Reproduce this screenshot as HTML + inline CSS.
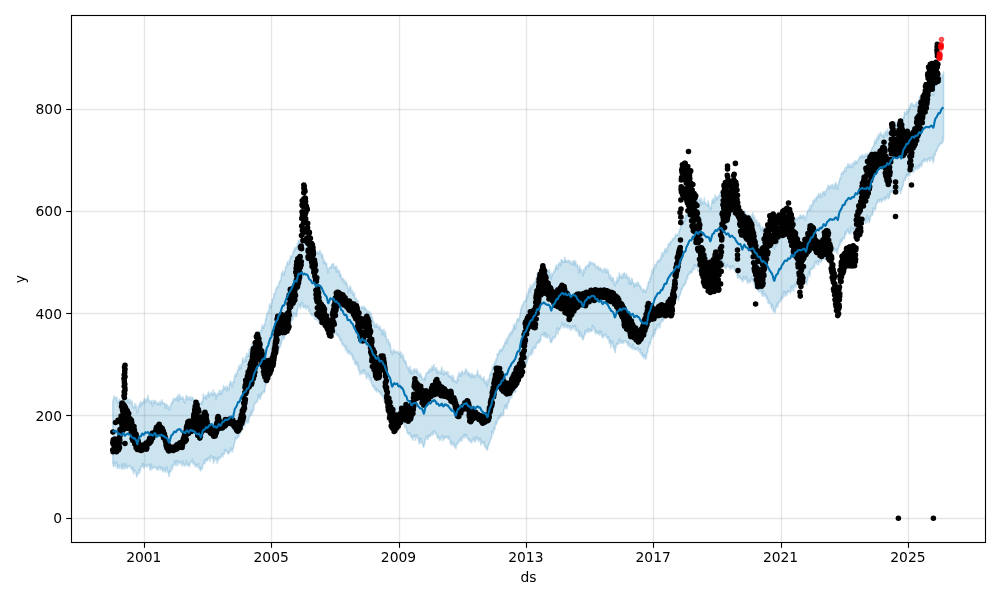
<!DOCTYPE html>
<html><head><meta charset="utf-8"><title>forecast</title>
<style>html,body{margin:0;padding:0;background:#fff}svg{display:block}text{font-family:"DejaVu Sans","Liberation Sans",sans-serif;font-size:13.89px;fill:#000}svg{opacity:.999;will-change:transform}</style></head>
<body>
<svg width="1000" height="600" viewBox="0 0 1000 600">
<rect width="1000" height="600" fill="#fff"/>
<defs><clipPath id="c"><rect x="71.5" y="15.5" width="914" height="527"/></clipPath></defs>
<g stroke="#808080" stroke-opacity="0.2" stroke-width="1.39" fill="none">
<path d="M144.50 542.5V15.5"/><path d="M271.50 542.5V15.5"/><path d="M399.50 542.5V15.5"/><path d="M526.50 542.5V15.5"/><path d="M653.50 542.5V15.5"/><path d="M781.50 542.5V15.5"/><path d="M908.50 542.5V15.5"/><path d="M71.5 518.50H985.5"/><path d="M71.5 415.50H985.5"/><path d="M71.5 313.50H985.5"/><path d="M71.5 211.50H985.5"/><path d="M71.5 109.50H985.5"/>
</g>
<g clip-path="url(#c)">
<path d="M112.8 402.4L113.2 400.0L113.6 399.3L114.0 396.1L114.4 398.5L114.8 398.1L115.2 398.2L115.6 397.1L116.0 398.2L116.4 398.1L116.8 397.4L117.2 401.4L117.6 401.9L118.0 403.7L118.4 401.4L118.8 400.6L119.2 400.4L119.6 399.1L120.0 403.5L120.4 400.7L120.8 401.0L121.2 402.2L121.6 404.6L122.0 402.3L122.4 399.9L122.8 400.1L123.2 402.0L123.6 401.0L124.0 400.5L124.4 401.9L124.8 404.0L125.2 406.1L125.6 400.7L126.0 401.3L126.4 400.7L126.8 397.8L127.2 399.8L127.6 399.5L128.0 403.0L128.4 401.3L128.8 399.2L129.2 403.0L129.6 401.6L130.0 399.6L130.4 401.7L130.8 401.9L131.2 402.0L131.6 404.0L132.0 400.9L132.4 404.6L132.8 407.2L133.2 407.3L133.6 407.7L134.0 407.4L134.4 407.9L134.8 403.8L135.2 407.5L135.6 404.1L136.0 407.2L136.4 406.1L136.8 411.7L137.2 413.1L137.6 409.9L138.0 411.8L138.4 406.6L138.8 406.8L139.2 405.6L139.6 402.9L140.0 404.8L140.4 406.8L140.8 401.6L141.2 404.2L141.6 402.1L142.0 404.7L142.4 402.2L142.8 402.3L143.2 402.4L143.6 402.0L144.0 399.3L144.4 403.4L144.8 398.6L145.2 400.9L145.6 401.4L146.0 399.0L146.4 400.5L146.8 401.8L147.2 399.6L147.6 398.2L148.0 395.4L148.4 399.1L148.8 400.2L149.2 400.8L149.6 400.5L150.0 402.9L150.4 401.4L150.8 402.0L151.2 403.0L151.6 400.8L152.0 402.0L152.4 406.3L152.8 404.2L153.2 400.3L153.6 401.9L154.0 402.6L154.4 403.4L154.8 401.4L155.2 400.5L155.6 400.6L156.0 403.5L156.4 403.7L156.8 403.1L157.2 403.6L157.6 403.1L158.0 404.7L158.4 402.2L158.8 403.8L159.2 404.0L159.6 403.4L160.0 401.4L160.4 404.9L160.8 401.7L161.2 403.5L161.6 401.5L162.0 399.9L162.4 403.0L162.8 403.2L163.2 402.9L163.6 403.8L164.0 402.8L164.4 403.1L164.8 404.6L165.2 408.1L165.6 406.3L166.0 404.0L166.4 405.8L166.8 404.3L167.2 405.3L167.6 408.5L168.0 407.3L168.4 406.3L168.8 408.4L169.2 410.1L169.6 409.1L170.0 409.4L170.4 404.9L170.8 405.9L171.2 404.2L171.6 402.5L172.0 403.6L172.4 402.5L172.8 399.8L173.2 402.4L173.6 398.2L174.0 399.8L174.4 399.3L174.8 399.9L175.2 398.2L175.6 399.3L176.0 398.9L176.4 400.3L176.8 396.9L177.2 398.1L177.6 397.3L178.0 395.4L178.4 401.4L178.8 396.6L179.2 394.0L179.6 398.8L180.0 395.3L180.4 398.1L180.8 399.4L181.2 397.5L181.6 398.4L182.0 398.4L182.4 399.1L182.8 396.6L183.2 397.4L183.6 399.5L184.0 401.8L184.4 401.5L184.8 403.0L185.2 400.9L185.6 398.6L186.0 398.7L186.4 395.2L186.8 396.5L187.2 396.6L187.6 399.0L188.0 400.0L188.4 398.4L188.8 398.7L189.2 396.8L189.6 398.7L190.0 398.9L190.4 398.8L190.8 396.5L191.2 400.6L191.6 399.5L192.0 397.7L192.4 397.3L192.8 397.9L193.2 398.9L193.6 398.8L194.0 399.8L194.4 400.5L194.8 401.9L195.2 402.0L195.6 400.5L196.0 401.8L196.4 401.0L196.8 401.2L197.2 404.9L197.6 400.7L198.0 404.3L198.4 400.4L198.8 401.3L199.2 403.5L199.6 402.6L200.0 403.9L200.4 403.5L200.8 403.8L201.2 403.6L201.6 401.6L202.0 403.9L202.4 399.8L202.8 401.6L203.2 393.7L203.6 397.6L204.0 398.1L204.4 396.4L204.8 398.2L205.2 397.1L205.6 395.2L206.0 395.9L206.4 399.4L206.8 395.4L207.2 395.6L207.6 394.2L208.0 394.7L208.4 391.9L208.8 393.2L209.2 397.1L209.6 394.6L210.0 393.6L210.4 393.9L210.8 394.7L211.2 392.3L211.6 395.0L212.0 393.9L212.4 393.0L212.8 395.9L213.2 389.9L213.6 393.2L214.0 394.7L214.4 392.7L214.8 393.8L215.2 393.3L215.6 393.6L216.0 399.4L216.4 396.1L216.8 394.6L217.2 396.3L217.6 393.3L218.0 394.5L218.4 393.1L218.8 394.7L219.2 390.0L219.6 393.7L220.0 392.9L220.4 391.0L220.8 394.4L221.2 390.6L221.6 394.0L222.0 391.5L222.4 391.1L222.8 389.4L223.2 390.3L223.6 385.6L224.0 388.6L224.4 387.3L224.8 388.6L225.2 387.8L225.6 388.6L226.0 386.0L226.4 390.1L226.8 390.9L227.2 386.9L227.6 387.2L228.0 387.6L228.4 389.2L228.8 390.0L229.2 384.2L229.6 384.3L230.0 382.8L230.4 382.2L230.8 381.2L231.2 384.8L231.6 382.7L232.0 387.3L232.4 386.6L232.8 383.8L233.2 382.0L233.6 380.9L234.0 382.5L234.4 377.3L234.8 374.7L235.2 376.0L235.6 375.8L236.0 373.4L236.4 376.3L236.8 373.3L237.2 372.7L237.6 369.8L238.0 370.3L238.4 369.5L238.8 365.8L239.2 369.6L239.6 365.5L240.0 367.4L240.4 364.2L240.8 369.0L241.2 365.6L241.6 365.7L242.0 364.9L242.4 360.3L242.8 357.7L243.2 360.2L243.6 361.9L244.0 360.4L244.4 361.3L244.8 361.2L245.2 357.0L245.6 359.4L246.0 361.4L246.4 356.5L246.8 353.4L247.2 356.0L247.6 355.5L248.0 356.5L248.4 353.8L248.8 354.3L249.2 349.6L249.6 353.5L250.0 353.6L250.4 352.2L250.8 346.9L251.2 349.5L251.6 343.8L252.0 348.7L252.4 347.6L252.8 344.9L253.2 345.7L253.6 344.0L254.0 343.9L254.4 341.2L254.8 339.9L255.2 335.5L255.6 336.0L256.0 336.4L256.4 336.9L256.8 335.7L257.2 337.4L257.6 332.9L258.0 333.3L258.4 333.7L258.8 332.6L259.2 333.4L259.6 331.4L260.0 334.2L260.4 331.0L260.8 332.6L261.2 329.5L261.6 330.8L262.0 325.2L262.4 327.5L262.8 325.7L263.2 326.9L263.6 328.4L264.0 324.6L264.4 324.2L264.8 324.1L265.2 324.0L265.6 318.5L266.0 319.8L266.4 315.7L266.8 314.1L267.2 314.3L267.6 314.5L268.0 311.8L268.4 310.9L268.8 310.4L269.2 308.8L269.6 303.7L270.0 306.2L270.4 306.2L270.8 307.1L271.2 307.6L271.6 304.1L272.0 301.8L272.4 298.8L272.8 299.2L273.2 299.0L273.6 298.5L274.0 293.6L274.4 293.9L274.8 293.2L275.2 294.0L275.6 290.8L276.0 288.8L276.4 287.9L276.8 287.6L277.2 286.4L277.6 287.8L278.0 287.0L278.4 285.3L278.8 285.0L279.2 281.8L279.6 282.6L280.0 280.6L280.4 280.1L280.8 280.7L281.2 277.5L281.6 273.3L282.0 274.7L282.4 272.9L282.8 271.1L283.2 271.9L283.6 274.4L284.0 275.2L284.4 271.2L284.8 272.4L285.2 271.5L285.6 266.6L286.0 267.2L286.4 266.0L286.8 265.1L287.2 261.7L287.6 263.0L288.0 264.5L288.4 264.1L288.8 264.2L289.2 259.9L289.6 262.6L290.0 259.9L290.4 256.0L290.8 258.8L291.2 256.3L291.6 257.1L292.0 255.4L292.4 256.6L292.8 253.8L293.2 251.4L293.6 252.1L294.0 249.8L294.4 247.9L294.8 250.6L295.2 247.9L295.6 247.6L296.0 247.9L296.4 246.3L296.8 246.8L297.2 249.0L297.6 243.2L298.0 243.4L298.4 240.5L298.8 240.4L299.2 243.6L299.6 242.5L300.0 239.9L300.4 240.8L300.8 239.3L301.2 239.2L301.6 238.9L302.0 239.1L302.4 241.5L302.8 242.4L303.2 242.3L303.6 241.2L304.0 239.2L304.4 241.3L304.8 240.0L305.2 243.1L305.6 242.6L306.0 242.8L306.4 241.0L306.8 238.7L307.2 244.0L307.6 245.2L308.0 241.7L308.4 245.1L308.8 247.5L309.2 244.6L309.6 249.5L310.0 246.4L310.4 245.6L310.8 250.1L311.2 249.3L311.6 248.6L312.0 251.5L312.4 247.0L312.8 253.1L313.2 249.0L313.6 250.8L314.0 249.8L314.4 251.4L314.8 252.9L315.2 251.0L315.6 254.3L316.0 253.1L316.4 252.7L316.8 253.2L317.2 251.7L317.6 251.7L318.0 254.2L318.4 252.2L318.8 254.2L319.2 253.4L319.6 251.4L320.0 250.4L320.4 252.7L320.8 254.7L321.2 254.7L321.6 253.9L322.0 257.6L322.4 254.1L322.8 255.8L323.2 259.0L323.6 263.4L324.0 261.5L324.4 260.0L324.8 262.8L325.2 263.2L325.6 264.1L326.0 262.6L326.4 263.0L326.8 265.9L327.2 267.8L327.6 271.0L328.0 273.0L328.4 269.2L328.8 268.8L329.2 268.5L329.6 267.4L330.0 267.8L330.4 267.2L330.8 266.5L331.2 268.3L331.6 265.9L332.0 264.5L332.4 263.8L332.8 264.6L333.2 264.7L333.6 263.6L334.0 268.1L334.4 268.0L334.8 267.8L335.2 267.2L335.6 266.3L336.0 267.5L336.4 272.2L336.8 266.1L337.2 270.2L337.6 271.4L338.0 270.6L338.4 270.1L338.8 272.3L339.2 270.4L339.6 274.1L340.0 276.5L340.4 273.5L340.8 274.8L341.2 277.1L341.6 279.0L342.0 280.0L342.4 279.5L342.8 278.3L343.2 278.6L343.6 281.6L344.0 282.3L344.4 280.1L344.8 282.2L345.2 282.8L345.6 284.2L346.0 281.3L346.4 284.4L346.8 282.6L347.2 284.9L347.6 286.5L348.0 289.7L348.4 292.9L348.8 288.2L349.2 288.7L349.6 289.7L350.0 286.0L350.4 289.6L350.8 287.0L351.2 292.3L351.6 292.6L352.0 291.8L352.4 290.3L352.8 294.9L353.2 293.2L353.6 293.7L354.0 295.3L354.4 292.5L354.8 296.9L355.2 298.8L355.6 298.7L356.0 299.2L356.4 298.0L356.8 300.8L357.2 300.4L357.6 300.6L358.0 300.6L358.4 304.2L358.8 306.4L359.2 306.5L359.6 308.8L360.0 310.7L360.4 311.6L360.8 308.7L361.2 307.4L361.6 306.6L362.0 306.8L362.4 307.4L362.8 308.3L363.2 306.5L363.6 307.7L364.0 306.2L364.4 310.0L364.8 307.6L365.2 309.1L365.6 307.9L366.0 309.4L366.4 309.6L366.8 314.1L367.2 312.2L367.6 311.6L368.0 310.7L368.4 311.7L368.8 314.1L369.2 316.3L369.6 311.6L370.0 312.7L370.4 314.3L370.8 314.4L371.2 313.9L371.6 317.7L372.0 320.0L372.4 317.3L372.8 321.3L373.2 323.1L373.6 323.6L374.0 321.9L374.4 327.0L374.8 325.1L375.2 323.9L375.6 327.2L376.0 324.0L376.4 327.2L376.8 323.7L377.2 326.8L377.6 324.5L378.0 327.4L378.4 327.3L378.8 327.5L379.2 327.6L379.6 330.0L380.0 325.8L380.4 329.3L380.8 329.3L381.2 329.6L381.6 330.2L382.0 334.9L382.4 329.5L382.8 331.4L383.2 331.2L383.6 334.3L384.0 329.3L384.4 336.1L384.8 333.0L385.2 331.3L385.6 334.1L386.0 336.6L386.4 338.3L386.8 339.1L387.2 341.6L387.6 341.4L388.0 342.2L388.4 339.4L388.8 344.0L389.2 345.4L389.6 343.9L390.0 342.8L390.4 345.4L390.8 352.0L391.2 349.9L391.6 351.4L392.0 352.1L392.4 354.6L392.8 352.0L393.2 351.0L393.6 349.4L394.0 351.2L394.4 352.7L394.8 351.0L395.2 352.8L395.6 351.7L396.0 351.6L396.4 351.7L396.8 351.4L397.2 353.0L397.6 352.6L398.0 351.6L398.4 353.3L398.8 353.3L399.2 354.3L399.6 353.9L400.0 354.6L400.4 351.9L400.8 355.2L401.2 357.0L401.6 352.9L402.0 357.8L402.4 356.1L402.8 356.3L403.2 354.8L403.6 360.5L404.0 358.2L404.4 360.0L404.8 362.7L405.2 360.7L405.6 361.2L406.0 361.7L406.4 364.3L406.8 366.6L407.2 367.5L407.6 368.0L408.0 367.2L408.4 368.4L408.8 367.4L409.2 372.0L409.6 369.4L410.0 366.5L410.4 368.8L410.8 373.9L411.2 369.9L411.6 371.8L412.0 373.2L412.4 370.4L412.8 373.5L413.2 374.0L413.6 369.4L414.0 372.2L414.4 368.8L414.8 368.8L415.2 370.9L415.6 371.1L416.0 370.0L416.4 372.6L416.8 369.1L417.2 370.4L417.6 370.7L418.0 374.3L418.4 375.0L418.8 375.5L419.2 373.0L419.6 376.0L420.0 376.7L420.4 373.2L420.8 374.3L421.2 376.6L421.6 377.0L422.0 377.0L422.4 378.5L422.8 379.1L423.2 379.6L423.6 380.0L424.0 378.7L424.4 378.5L424.8 376.9L425.2 380.0L425.6 375.5L426.0 374.1L426.4 373.1L426.8 372.9L427.2 372.2L427.6 373.1L428.0 371.7L428.4 372.5L428.8 369.6L429.2 371.0L429.6 371.9L430.0 368.8L430.4 370.9L430.8 370.6L431.2 369.2L431.6 368.6L432.0 366.1L432.4 370.6L432.8 367.1L433.2 366.2L433.6 368.8L434.0 364.6L434.4 369.2L434.8 368.9L435.2 369.8L435.6 369.1L436.0 368.0L436.4 367.5L436.8 373.2L437.2 370.2L437.6 370.2L438.0 373.9L438.4 371.0L438.8 372.3L439.2 372.6L439.6 372.7L440.0 371.0L440.4 371.5L440.8 374.2L441.2 373.1L441.6 367.0L442.0 368.8L442.4 372.9L442.8 372.7L443.2 372.8L443.6 375.1L444.0 370.3L444.4 374.8L444.8 372.8L445.2 373.1L445.6 372.4L446.0 373.3L446.4 371.7L446.8 371.7L447.2 374.1L447.6 373.5L448.0 371.6L448.4 376.1L448.8 376.2L449.2 377.0L449.6 375.4L450.0 376.4L450.4 375.9L450.8 375.6L451.2 377.8L451.6 378.4L452.0 377.1L452.4 380.9L452.8 375.3L453.2 376.7L453.6 377.5L454.0 381.6L454.4 380.2L454.8 381.0L455.2 381.0L455.6 381.8L456.0 380.5L456.4 383.0L456.8 381.1L457.2 380.5L457.6 376.7L458.0 381.0L458.4 375.0L458.8 372.8L459.2 375.2L459.6 375.4L460.0 375.9L460.4 372.6L460.8 374.6L461.2 376.3L461.6 372.3L462.0 372.5L462.4 370.9L462.8 373.5L463.2 374.0L463.6 373.5L464.0 373.4L464.4 374.0L464.8 371.7L465.2 372.6L465.6 369.1L466.0 369.3L466.4 371.2L466.8 370.1L467.2 372.9L467.6 374.7L468.0 373.7L468.4 372.4L468.8 372.6L469.2 376.0L469.6 372.7L470.0 374.6L470.4 374.7L470.8 375.9L471.2 377.6L471.6 374.8L472.0 373.2L472.4 377.5L472.8 375.2L473.2 375.7L473.6 374.6L474.0 376.1L474.4 377.3L474.8 377.9L475.2 375.7L475.6 375.3L476.0 376.1L476.4 375.3L476.8 375.5L477.2 373.0L477.6 370.1L478.0 374.5L478.4 375.4L478.8 375.5L479.2 377.5L479.6 376.5L480.0 374.9L480.4 377.5L480.8 376.2L481.2 378.9L481.6 378.0L482.0 379.0L482.4 379.4L482.8 379.8L483.2 378.0L483.6 380.7L484.0 376.9L484.4 381.2L484.8 382.0L485.2 383.7L485.6 381.7L486.0 381.0L486.4 380.5L486.8 386.8L487.2 382.1L487.6 385.5L488.0 379.3L488.4 381.3L488.8 380.9L489.2 378.7L489.6 376.5L490.0 374.0L490.4 372.9L490.8 374.9L491.2 372.9L491.6 370.7L492.0 370.1L492.4 367.0L492.8 368.8L493.2 368.5L493.6 364.6L494.0 365.1L494.4 365.6L494.8 361.6L495.2 364.7L495.6 362.7L496.0 358.9L496.4 359.8L496.8 359.8L497.2 353.9L497.6 355.6L498.0 353.6L498.4 353.2L498.8 354.3L499.2 352.0L499.6 350.1L500.0 349.7L500.4 351.4L500.8 351.5L501.2 349.6L501.6 348.8L502.0 348.6L502.4 350.4L502.8 349.0L503.2 346.0L503.6 345.8L504.0 347.2L504.4 343.4L504.8 342.7L505.2 342.4L505.6 340.3L506.0 343.3L506.4 338.2L506.8 343.9L507.2 340.4L507.6 338.2L508.0 339.5L508.4 335.2L508.8 337.7L509.2 336.9L509.6 333.7L510.0 333.3L510.4 334.9L510.8 331.7L511.2 332.2L511.6 332.1L512.0 333.4L512.4 329.4L512.8 329.6L513.2 330.9L513.6 324.6L514.0 327.8L514.4 324.7L514.8 324.2L515.2 329.7L515.6 325.6L516.0 326.1L516.4 321.9L516.8 321.8L517.2 319.3L517.6 318.6L518.0 319.1L518.4 319.1L518.8 321.0L519.2 318.0L519.6 317.4L520.0 314.2L520.4 312.7L520.8 308.5L521.2 310.5L521.6 306.5L522.0 306.2L522.4 304.9L522.8 305.9L523.2 304.3L523.6 302.5L524.0 301.9L524.4 301.2L524.8 301.1L525.2 300.3L525.6 301.2L526.0 301.1L526.4 298.5L526.8 294.4L527.2 298.4L527.6 298.2L528.0 293.3L528.4 292.3L528.8 288.6L529.2 291.9L529.6 288.1L530.0 292.1L530.4 284.9L530.8 288.6L531.2 289.2L531.6 287.1L532.0 285.9L532.4 286.9L532.8 284.7L533.2 284.1L533.6 284.1L534.0 282.9L534.4 283.1L534.8 284.2L535.2 281.3L535.6 281.2L536.0 278.7L536.4 280.4L536.8 275.9L537.2 278.8L537.6 272.2L538.0 275.5L538.4 274.3L538.8 278.4L539.2 276.6L539.6 273.2L540.0 273.5L540.4 275.6L540.8 272.5L541.2 272.6L541.6 268.8L542.0 268.5L542.4 271.6L542.8 274.3L543.2 269.6L543.6 271.3L544.0 268.8L544.4 272.3L544.8 269.7L545.2 270.0L545.6 268.1L546.0 270.8L546.4 272.2L546.8 274.6L547.2 270.6L547.6 273.9L548.0 271.5L548.4 271.4L548.8 270.3L549.2 269.8L549.6 271.6L550.0 277.3L550.4 273.8L550.8 276.1L551.2 279.2L551.6 273.4L552.0 276.4L552.4 273.8L552.8 273.9L553.2 273.9L553.6 271.6L554.0 271.1L554.4 272.0L554.8 271.3L555.2 268.4L555.6 268.5L556.0 265.8L556.4 269.3L556.8 264.8L557.2 266.9L557.6 269.1L558.0 267.1L558.4 264.6L558.8 263.2L559.2 262.8L559.6 264.8L560.0 263.4L560.4 262.3L560.8 265.8L561.2 259.6L561.6 259.9L562.0 260.1L562.4 261.3L562.8 261.6L563.2 260.8L563.6 262.6L564.0 262.3L564.4 260.8L564.8 257.2L565.2 262.3L565.6 259.8L566.0 260.8L566.4 262.0L566.8 260.3L567.2 260.8L567.6 262.1L568.0 261.2L568.4 262.1L568.8 260.1L569.2 261.4L569.6 260.6L570.0 262.5L570.4 264.0L570.8 263.8L571.2 261.6L571.6 263.3L572.0 263.4L572.4 264.6L572.8 262.4L573.2 261.4L573.6 260.2L574.0 265.6L574.4 261.1L574.8 261.1L575.2 263.0L575.6 260.7L576.0 265.7L576.4 264.7L576.8 265.8L577.2 264.2L577.6 265.7L578.0 268.6L578.4 269.4L578.8 273.3L579.2 270.6L579.6 265.8L580.0 268.9L580.4 268.2L580.8 270.6L581.2 269.7L581.6 271.8L582.0 271.5L582.4 273.9L582.8 276.2L583.2 272.7L583.6 269.4L584.0 269.8L584.4 272.9L584.8 269.6L585.2 267.8L585.6 266.2L586.0 269.1L586.4 267.4L586.8 266.4L587.2 265.2L587.6 265.3L588.0 264.6L588.4 265.7L588.8 266.9L589.2 261.9L589.6 262.7L590.0 264.7L590.4 264.6L590.8 261.7L591.2 263.0L591.6 263.3L592.0 263.0L592.4 262.7L592.8 263.0L593.2 264.2L593.6 264.3L594.0 264.6L594.4 264.7L594.8 263.6L595.2 264.6L595.6 267.0L596.0 266.5L596.4 267.6L596.8 266.9L597.2 267.0L597.6 268.3L598.0 265.9L598.4 268.7L598.8 267.9L599.2 270.2L599.6 267.7L600.0 269.0L600.4 267.8L600.8 269.1L601.2 270.1L601.6 269.2L602.0 270.4L602.4 271.0L602.8 272.4L603.2 270.3L603.6 270.6L604.0 269.5L604.4 268.4L604.8 269.9L605.2 270.3L605.6 268.6L606.0 272.8L606.4 269.5L606.8 272.3L607.2 272.2L607.6 269.3L608.0 272.5L608.4 270.6L608.8 273.7L609.2 275.8L609.6 278.5L610.0 277.7L610.4 274.8L610.8 277.5L611.2 280.4L611.6 278.3L612.0 280.9L612.4 277.2L612.8 278.0L613.2 278.0L613.6 280.7L614.0 284.5L614.4 282.0L614.8 285.9L615.2 284.6L615.6 284.1L616.0 281.3L616.4 280.8L616.8 283.2L617.2 277.1L617.6 280.0L618.0 280.9L618.4 278.9L618.8 280.5L619.2 272.7L619.6 276.6L620.0 274.9L620.4 276.0L620.8 276.7L621.2 277.9L621.6 275.7L622.0 278.2L622.4 274.0L622.8 277.9L623.2 275.9L623.6 273.4L624.0 273.2L624.4 272.9L624.8 273.9L625.2 275.7L625.6 278.0L626.0 277.8L626.4 275.0L626.8 274.0L627.2 277.8L627.6 276.5L628.0 278.7L628.4 278.0L628.8 283.4L629.2 277.1L629.6 281.2L630.0 284.3L630.4 281.1L630.8 280.5L631.2 284.4L631.6 278.2L632.0 278.8L632.4 279.6L632.8 282.3L633.2 283.6L633.6 282.8L634.0 287.2L634.4 283.9L634.8 284.3L635.2 283.6L635.6 285.8L636.0 283.6L636.4 282.7L636.8 285.8L637.2 285.3L637.6 285.2L638.0 282.0L638.4 282.8L638.8 284.6L639.2 285.0L639.6 285.2L640.0 286.0L640.4 288.1L640.8 286.2L641.2 289.0L641.6 288.7L642.0 289.3L642.4 290.2L642.8 292.2L643.2 291.1L643.6 289.1L644.0 290.6L644.4 290.1L644.8 290.8L645.2 290.3L645.6 292.7L646.0 292.0L646.4 289.6L646.8 289.2L647.2 286.9L647.6 287.8L648.0 284.0L648.4 282.6L648.8 281.2L649.2 282.0L649.6 282.4L650.0 277.6L650.4 279.9L650.8 276.5L651.2 276.4L651.6 272.9L652.0 270.4L652.4 272.4L652.8 273.2L653.2 268.1L653.6 269.5L654.0 268.9L654.4 268.4L654.8 264.8L655.2 264.8L655.6 266.4L656.0 266.8L656.4 263.0L656.8 263.4L657.2 261.6L657.6 261.9L658.0 260.4L658.4 260.5L658.8 259.8L659.2 260.7L659.6 261.9L660.0 259.8L660.4 259.8L660.8 257.1L661.2 259.1L661.6 252.8L662.0 255.2L662.4 256.2L662.8 252.9L663.2 255.7L663.6 254.2L664.0 251.4L664.4 252.2L664.8 249.1L665.2 249.9L665.6 250.5L666.0 248.4L666.4 252.4L666.8 248.7L667.2 250.3L667.6 247.4L668.0 247.1L668.4 244.1L668.8 244.0L669.2 243.3L669.6 243.9L670.0 245.2L670.4 241.6L670.8 241.7L671.2 242.0L671.6 242.2L672.0 240.1L672.4 239.3L672.8 238.7L673.2 239.4L673.6 239.4L674.0 237.6L674.4 237.8L674.8 238.7L675.2 236.3L675.6 234.4L676.0 235.5L676.4 235.0L676.8 235.0L677.2 235.4L677.6 233.9L678.0 235.1L678.4 235.4L678.8 234.5L679.2 229.7L679.6 230.9L680.0 230.0L680.4 228.8L680.8 226.2L681.2 226.0L681.6 222.4L682.0 222.1L682.4 219.0L682.8 222.5L683.2 224.5L683.6 223.7L684.0 218.3L684.4 220.7L684.8 221.2L685.2 217.9L685.6 214.2L686.0 218.6L686.4 214.7L686.8 213.8L687.2 216.3L687.6 213.3L688.0 212.9L688.4 212.9L688.8 209.0L689.2 207.4L689.6 210.0L690.0 208.4L690.4 209.3L690.8 208.4L691.2 206.2L691.6 206.8L692.0 205.4L692.4 204.8L692.8 204.6L693.2 205.1L693.6 204.7L694.0 201.9L694.4 204.2L694.8 200.1L695.2 205.2L695.6 199.7L696.0 200.2L696.4 202.0L696.8 199.6L697.2 198.2L697.6 198.3L698.0 201.3L698.4 201.6L698.8 201.8L699.2 200.6L699.6 199.0L700.0 200.2L700.4 201.4L700.8 197.7L701.2 205.1L701.6 199.0L702.0 202.0L702.4 203.4L702.8 202.1L703.2 201.4L703.6 202.3L704.0 203.7L704.4 197.9L704.8 203.5L705.2 202.7L705.6 202.8L706.0 204.7L706.4 205.1L706.8 205.4L707.2 203.4L707.6 206.0L708.0 200.9L708.4 203.1L708.8 203.7L709.2 206.7L709.6 206.5L710.0 208.9L710.4 207.1L710.8 209.5L711.2 207.2L711.6 203.9L712.0 200.8L712.4 200.4L712.8 199.0L713.2 203.0L713.6 201.8L714.0 198.0L714.4 202.6L714.8 198.6L715.2 194.9L715.6 199.8L716.0 200.0L716.4 198.0L716.8 196.7L717.2 199.7L717.6 196.5L718.0 196.9L718.4 197.3L718.8 196.8L719.2 195.4L719.6 194.1L720.0 196.6L720.4 191.6L720.8 195.5L721.2 196.0L721.6 197.0L722.0 196.2L722.4 197.8L722.8 199.3L723.2 196.9L723.6 198.9L724.0 199.6L724.4 197.2L724.8 198.3L725.2 203.2L725.6 202.9L726.0 200.3L726.4 202.6L726.8 202.0L727.2 203.5L727.6 203.0L728.0 197.2L728.4 200.9L728.8 204.2L729.2 205.3L729.6 202.4L730.0 201.9L730.4 204.4L730.8 202.8L731.2 203.7L731.6 201.7L732.0 204.6L732.4 204.3L732.8 204.3L733.2 202.4L733.6 201.9L734.0 203.1L734.4 206.5L734.8 203.3L735.2 207.7L735.6 210.0L736.0 206.8L736.4 208.3L736.8 211.0L737.2 211.6L737.6 209.9L738.0 211.1L738.4 211.9L738.8 211.0L739.2 212.2L739.6 211.7L740.0 213.5L740.4 209.4L740.8 215.0L741.2 215.3L741.6 214.8L742.0 216.5L742.4 217.8L742.8 215.7L743.2 214.0L743.6 214.2L744.0 212.1L744.4 210.8L744.8 211.7L745.2 212.3L745.6 214.3L746.0 215.7L746.4 215.2L746.8 217.4L747.2 215.2L747.6 214.7L748.0 215.2L748.4 215.5L748.8 216.9L749.2 219.5L749.6 214.7L750.0 217.8L750.4 216.8L750.8 218.0L751.2 215.8L751.6 217.4L752.0 215.0L752.4 216.6L752.8 212.7L753.2 217.3L753.6 218.4L754.0 215.3L754.4 219.9L754.8 217.5L755.2 221.4L755.6 220.2L756.0 221.6L756.4 221.7L756.8 220.1L757.2 225.5L757.6 225.6L758.0 222.4L758.4 225.1L758.8 225.1L759.2 223.5L759.6 223.1L760.0 227.2L760.4 225.2L760.8 228.2L761.2 230.7L761.6 229.3L762.0 227.7L762.4 230.7L762.8 226.9L763.2 227.7L763.6 233.8L764.0 227.8L764.4 229.7L764.8 228.0L765.2 230.0L765.6 231.1L766.0 227.1L766.4 230.9L766.8 233.5L767.2 234.4L767.6 234.2L768.0 233.0L768.4 236.0L768.8 235.5L769.2 236.0L769.6 238.2L770.0 242.5L770.4 237.8L770.8 241.1L771.2 240.2L771.6 237.8L772.0 239.7L772.4 242.3L772.8 243.4L773.2 245.9L773.6 245.2L774.0 246.0L774.4 249.3L774.8 246.6L775.2 244.3L775.6 244.6L776.0 246.5L776.4 241.7L776.8 239.7L777.2 243.0L777.6 244.0L778.0 242.0L778.4 237.1L778.8 235.0L779.2 239.4L779.6 236.5L780.0 237.3L780.4 235.8L780.8 238.3L781.2 234.8L781.6 233.3L782.0 233.3L782.4 230.5L782.8 232.0L783.2 230.9L783.6 226.7L784.0 227.4L784.4 226.5L784.8 225.9L785.2 228.9L785.6 230.1L786.0 228.7L786.4 225.8L786.8 225.2L787.2 228.8L787.6 226.5L788.0 226.4L788.4 224.3L788.8 223.2L789.2 230.1L789.6 225.2L790.0 225.3L790.4 223.1L790.8 226.8L791.2 223.1L791.6 222.8L792.0 222.9L792.4 222.9L792.8 225.4L793.2 220.5L793.6 224.5L794.0 222.2L794.4 221.8L794.8 220.8L795.2 221.7L795.6 218.3L796.0 218.7L796.4 220.0L796.8 218.0L797.2 218.0L797.6 219.1L798.0 218.4L798.4 217.5L798.8 217.8L799.2 216.0L799.6 218.7L800.0 215.7L800.4 214.9L800.8 218.3L801.2 215.6L801.6 216.3L802.0 217.3L802.4 218.2L802.8 215.6L803.2 215.3L803.6 215.2L804.0 216.7L804.4 216.0L804.8 217.9L805.2 220.2L805.6 218.2L806.0 217.8L806.4 215.7L806.8 214.4L807.2 212.1L807.6 210.9L808.0 210.5L808.4 210.9L808.8 210.5L809.2 208.3L809.6 208.8L810.0 205.4L810.4 210.0L810.8 209.9L811.2 205.0L811.6 205.7L812.0 204.8L812.4 205.6L812.8 202.7L813.2 200.5L813.6 203.5L814.0 199.8L814.4 201.5L814.8 198.9L815.2 198.4L815.6 200.3L816.0 200.6L816.4 197.3L816.8 196.9L817.2 198.0L817.6 196.6L818.0 194.7L818.4 197.3L818.8 193.6L819.2 197.2L819.6 195.2L820.0 196.0L820.4 193.2L820.8 194.5L821.2 196.5L821.6 197.3L822.0 195.8L822.4 194.5L822.8 191.5L823.2 193.6L823.6 192.4L824.0 191.6L824.4 194.4L824.8 191.3L825.2 195.5L825.6 191.5L826.0 191.0L826.4 191.2L826.8 188.5L827.2 189.0L827.6 189.1L828.0 185.6L828.4 186.6L828.8 185.5L829.2 186.8L829.6 189.1L830.0 186.4L830.4 186.6L830.8 187.1L831.2 184.8L831.6 187.0L832.0 185.9L832.4 185.9L832.8 184.3L833.2 186.2L833.6 188.9L834.0 188.8L834.4 185.7L834.8 185.6L835.2 184.3L835.6 183.1L836.0 182.3L836.4 188.4L836.8 184.6L837.2 186.9L837.6 189.3L838.0 185.5L838.4 184.1L838.8 183.1L839.2 180.6L839.6 180.1L840.0 177.9L840.4 179.4L840.8 177.7L841.2 174.3L841.6 173.3L842.0 173.6L842.4 172.9L842.8 171.8L843.2 174.0L843.6 171.1L844.0 171.3L844.4 172.0L844.8 167.8L845.2 170.9L845.6 170.5L846.0 171.2L846.4 166.9L846.8 167.2L847.2 167.5L847.6 165.8L848.0 163.6L848.4 167.2L848.8 165.4L849.2 166.5L849.6 164.3L850.0 167.6L850.4 165.6L850.8 164.7L851.2 166.7L851.6 166.8L852.0 163.4L852.4 166.6L852.8 167.8L853.2 165.4L853.6 162.2L854.0 164.7L854.4 164.8L854.8 160.8L855.2 164.4L855.6 161.0L856.0 161.0L856.4 163.0L856.8 161.7L857.2 163.4L857.6 160.9L858.0 160.8L858.4 159.5L858.8 159.0L859.2 158.8L859.6 157.8L860.0 156.0L860.4 157.8L860.8 156.1L861.2 158.0L861.6 156.9L862.0 155.6L862.4 154.5L862.8 155.6L863.2 157.8L863.6 156.1L864.0 157.6L864.4 156.1L864.8 156.0L865.2 155.6L865.6 153.6L866.0 156.7L866.4 155.7L866.8 155.1L867.2 156.0L867.6 153.4L868.0 158.2L868.4 153.6L868.8 156.8L869.2 154.8L869.6 156.1L870.0 157.2L870.4 151.2L870.8 152.2L871.2 150.5L871.6 149.1L872.0 148.1L872.4 148.2L872.8 147.0L873.2 146.0L873.6 146.0L874.0 144.8L874.4 142.6L874.8 140.0L875.2 142.9L875.6 140.8L876.0 143.6L876.4 139.6L876.8 137.7L877.2 140.7L877.6 137.1L878.0 135.4L878.4 139.1L878.8 134.3L879.2 138.0L879.6 133.6L880.0 135.5L880.4 135.2L880.8 132.1L881.2 135.1L881.6 134.5L882.0 135.5L882.4 136.1L882.8 137.3L883.2 133.9L883.6 133.9L884.0 137.5L884.4 135.4L884.8 135.6L885.2 131.5L885.6 131.2L886.0 132.0L886.4 132.0L886.8 132.5L887.2 135.6L887.6 129.1L888.0 130.6L888.4 132.5L888.8 132.1L889.2 133.5L889.6 130.7L890.0 129.0L890.4 132.9L890.8 129.5L891.2 125.9L891.6 126.5L892.0 126.4L892.4 123.9L892.8 127.2L893.2 125.9L893.6 124.8L894.0 124.1L894.4 127.6L894.8 124.6L895.2 123.6L895.6 121.7L896.0 123.5L896.4 126.5L896.8 128.0L897.2 124.0L897.6 122.3L898.0 125.0L898.4 124.2L898.8 125.2L899.2 122.4L899.6 124.0L900.0 121.4L900.4 122.8L900.8 124.2L901.2 124.7L901.6 125.5L902.0 125.2L902.4 119.2L902.8 122.6L903.2 117.2L903.6 116.4L904.0 118.0L904.4 111.7L904.8 112.5L905.2 112.9L905.6 113.6L906.0 114.5L906.4 113.8L906.8 110.0L907.2 112.5L907.6 110.5L908.0 113.2L908.4 109.8L908.8 111.2L909.2 107.1L909.6 109.4L910.0 105.4L910.4 107.2L910.8 103.7L911.2 105.2L911.6 103.4L912.0 102.8L912.4 104.8L912.8 105.8L913.2 104.7L913.6 105.1L914.0 105.7L914.4 106.3L914.8 105.5L915.2 104.1L915.6 106.5L916.0 102.5L916.4 104.7L916.8 101.7L917.2 106.7L917.6 101.9L918.0 101.9L918.4 103.2L918.8 100.1L919.2 98.5L919.6 96.9L920.0 99.6L920.4 103.5L920.8 100.7L921.2 103.0L921.6 101.0L922.0 98.2L922.4 95.9L922.8 97.1L923.2 97.6L923.6 95.7L924.0 96.0L924.4 96.5L924.8 94.7L925.2 92.7L925.6 94.3L926.0 95.5L926.4 93.0L926.8 92.4L927.2 92.6L927.6 93.9L928.0 94.3L928.4 94.6L928.8 92.8L929.2 94.9L929.6 93.4L930.0 92.3L930.4 90.3L930.8 91.1L931.2 91.9L931.6 93.5L932.0 94.5L932.4 94.3L932.8 94.9L933.2 93.1L933.6 94.9L934.0 93.1L934.4 91.2L934.8 87.7L935.2 86.9L935.6 85.2L936.0 83.0L936.4 84.0L936.8 81.4L937.2 80.4L937.6 83.4L938.0 82.7L938.4 82.5L938.8 80.1L939.2 80.7L939.6 81.3L940.0 79.4L940.4 75.9L940.8 82.0L941.2 79.6L941.6 79.0L942.0 76.6L942.4 74.5L942.8 75.0L943.2 74.5L943.6 71.7L943.6 136.9L943.2 141.4L942.8 137.0L942.4 143.1L942.0 142.9L941.6 143.8L941.2 143.0L940.8 142.7L940.4 144.0L940.0 143.5L939.6 145.1L939.2 146.1L938.8 146.5L938.4 145.4L938.0 146.5L937.6 148.2L937.2 149.3L936.8 151.4L936.4 150.5L936.0 150.9L935.6 151.0L935.2 155.2L934.8 155.8L934.4 154.1L934.0 157.3L933.6 160.4L933.2 162.8L932.8 158.4L932.4 158.6L932.0 160.0L931.6 156.9L931.2 157.2L930.8 157.3L930.4 158.4L930.0 161.3L929.6 159.0L929.2 157.7L928.8 160.0L928.4 158.5L928.0 159.9L927.6 159.1L927.2 161.9L926.8 160.2L926.4 159.6L926.0 159.3L925.6 160.0L925.2 161.5L924.8 159.2L924.4 161.1L924.0 158.8L923.6 161.7L923.2 161.4L922.8 162.9L922.4 160.9L922.0 163.7L921.6 166.4L921.2 166.2L920.8 164.0L920.4 165.7L920.0 164.3L919.6 168.3L919.2 164.9L918.8 167.1L918.4 168.3L918.0 166.0L917.6 167.0L917.2 169.5L916.8 168.4L916.4 166.3L916.0 166.7L915.6 169.7L915.2 168.8L914.8 168.2L914.4 171.2L914.0 167.6L913.6 168.8L913.2 173.0L912.8 168.3L912.4 171.2L912.0 166.0L911.6 169.7L911.2 171.2L910.8 172.1L910.4 169.8L910.0 175.7L909.6 171.2L909.2 171.8L908.8 173.6L908.4 174.2L908.0 175.7L907.6 175.7L907.2 173.5L906.8 175.7L906.4 177.5L906.0 175.1L905.6 178.5L905.2 180.8L904.8 178.3L904.4 179.7L904.0 180.1L903.6 181.9L903.2 185.4L902.8 185.8L902.4 187.7L902.0 187.3L901.6 191.0L901.2 189.0L900.8 193.6L900.4 189.5L900.0 189.5L899.6 188.5L899.2 190.8L898.8 190.1L898.4 187.1L898.0 188.6L897.6 190.9L897.2 193.9L896.8 192.7L896.4 190.2L896.0 191.0L895.6 191.8L895.2 190.6L894.8 187.9L894.4 193.2L894.0 191.7L893.6 189.6L893.2 188.6L892.8 191.1L892.4 192.0L892.0 191.2L891.6 191.9L891.2 192.5L890.8 190.9L890.4 194.4L890.0 191.5L889.6 196.3L889.2 197.4L888.8 198.5L888.4 198.6L888.0 195.2L887.6 194.3L887.2 197.3L886.8 198.5L886.4 196.7L886.0 199.5L885.6 198.3L885.2 196.5L884.8 200.5L884.4 199.2L884.0 197.9L883.6 198.3L883.2 199.3L882.8 199.2L882.4 200.9L882.0 200.1L881.6 202.1L881.2 198.6L880.8 200.9L880.4 199.2L880.0 199.6L879.6 201.9L879.2 200.7L878.8 201.0L878.4 199.4L878.0 202.3L877.6 200.7L877.2 203.7L876.8 202.9L876.4 203.9L876.0 204.4L875.6 208.8L875.2 209.8L874.8 209.1L874.4 208.6L874.0 208.5L873.6 210.1L873.2 208.1L872.8 215.5L872.4 213.3L872.0 214.3L871.6 214.0L871.2 215.6L870.8 216.7L870.4 216.5L870.0 220.7L869.6 220.6L869.2 222.7L868.8 219.9L868.4 221.7L868.0 217.4L867.6 219.8L867.2 215.3L866.8 222.8L866.4 218.2L866.0 219.5L865.6 223.6L865.2 221.5L864.8 221.7L864.4 219.3L864.0 220.1L863.6 219.2L863.2 224.6L862.8 219.5L862.4 219.9L862.0 221.8L861.6 223.8L861.2 220.7L860.8 222.5L860.4 221.1L860.0 221.3L859.6 221.0L859.2 224.8L858.8 219.8L858.4 223.4L858.0 225.0L857.6 226.1L857.2 228.1L856.8 224.1L856.4 227.0L856.0 225.6L855.6 227.2L855.2 226.2L854.8 226.5L854.4 229.0L854.0 230.4L853.6 230.6L853.2 228.7L852.8 228.2L852.4 228.7L852.0 232.6L851.6 228.0L851.2 227.1L850.8 234.0L850.4 231.1L850.0 232.8L849.6 232.9L849.2 233.9L848.8 232.4L848.4 232.0L848.0 229.0L847.6 232.0L847.2 229.5L846.8 232.1L846.4 232.2L846.0 235.0L845.6 234.7L845.2 232.1L844.8 235.5L844.4 238.9L844.0 238.0L843.6 237.3L843.2 238.5L842.8 238.4L842.4 241.0L842.0 238.6L841.6 242.3L841.2 241.9L840.8 243.4L840.4 240.0L840.0 245.3L839.6 244.2L839.2 246.5L838.8 246.3L838.4 249.2L838.0 248.8L837.6 253.7L837.2 248.8L836.8 253.1L836.4 250.9L836.0 249.9L835.6 250.4L835.2 249.7L834.8 249.5L834.4 248.3L834.0 251.7L833.6 251.4L833.2 249.7L832.8 250.2L832.4 248.5L832.0 252.2L831.6 251.5L831.2 252.7L830.8 249.5L830.4 252.0L830.0 250.0L829.6 253.3L829.2 251.0L828.8 253.3L828.4 254.4L828.0 251.0L827.6 251.7L827.2 256.1L826.8 254.5L826.4 256.1L826.0 256.2L825.6 258.1L825.2 259.7L824.8 257.3L824.4 259.4L824.0 254.7L823.6 258.8L823.2 257.3L822.8 259.5L822.4 258.9L822.0 259.7L821.6 261.1L821.2 262.2L820.8 262.5L820.4 258.3L820.0 262.0L819.6 259.6L819.2 261.0L818.8 262.6L818.4 265.0L818.0 261.3L817.6 262.0L817.2 260.8L816.8 264.4L816.4 262.3L816.0 262.9L815.6 262.8L815.2 261.5L814.8 264.2L814.4 267.8L814.0 266.8L813.6 265.5L813.2 266.2L812.8 268.5L812.4 267.9L812.0 269.5L811.6 269.4L811.2 269.5L810.8 269.7L810.4 268.8L810.0 276.8L809.6 274.1L809.2 274.3L808.8 271.5L808.4 274.5L808.0 276.3L807.6 281.2L807.2 279.2L806.8 284.4L806.4 282.2L806.0 282.3L805.6 282.8L805.2 281.6L804.8 281.6L804.4 278.6L804.0 279.5L803.6 283.4L803.2 281.1L802.8 280.3L802.4 282.6L802.0 282.3L801.6 281.0L801.2 288.7L800.8 281.9L800.4 283.8L800.0 284.1L799.6 279.0L799.2 281.9L798.8 282.9L798.4 283.8L798.0 281.9L797.6 285.5L797.2 285.4L796.8 284.4L796.4 284.4L796.0 287.8L795.6 284.4L795.2 283.9L794.8 285.3L794.4 288.2L794.0 286.0L793.6 291.5L793.2 285.7L792.8 290.4L792.4 285.6L792.0 286.2L791.6 288.3L791.2 291.4L790.8 286.3L790.4 293.8L790.0 291.5L789.6 291.8L789.2 291.2L788.8 291.7L788.4 291.3L788.0 292.5L787.6 290.4L787.2 295.1L786.8 294.1L786.4 291.7L786.0 293.3L785.6 295.9L785.2 294.0L784.8 293.3L784.4 291.4L784.0 296.8L783.6 291.7L783.2 296.3L782.8 298.0L782.4 298.5L782.0 296.8L781.6 299.8L781.2 299.2L780.8 298.7L780.4 301.8L780.0 300.7L779.6 301.9L779.2 301.3L778.8 303.5L778.4 302.8L778.0 306.6L777.6 304.8L777.2 303.4L776.8 307.2L776.4 305.5L776.0 308.5L775.6 307.3L775.2 312.4L774.8 310.7L774.4 312.6L774.0 311.5L773.6 310.1L773.2 311.1L772.8 306.7L772.4 304.8L772.0 306.8L771.6 308.6L771.2 307.3L770.8 303.3L770.4 303.9L770.0 303.5L769.6 303.8L769.2 301.7L768.8 301.1L768.4 303.4L768.0 302.9L767.6 298.1L767.2 298.7L766.8 296.3L766.4 298.8L766.0 296.4L765.6 294.0L765.2 296.0L764.8 294.9L764.4 293.7L764.0 296.5L763.6 292.2L763.2 294.1L762.8 290.1L762.4 295.6L762.0 296.1L761.6 292.1L761.2 293.3L760.8 289.5L760.4 290.8L760.0 290.9L759.6 289.4L759.2 291.3L758.8 292.2L758.4 289.2L758.0 290.5L757.6 287.6L757.2 286.8L756.8 287.1L756.4 286.1L756.0 284.0L755.6 285.9L755.2 286.6L754.8 288.1L754.4 281.2L754.0 283.9L753.6 279.1L753.2 282.1L752.8 279.7L752.4 279.1L752.0 279.7L751.6 277.3L751.2 279.6L750.8 281.1L750.4 282.1L750.0 281.4L749.6 279.9L749.2 282.6L748.8 281.5L748.4 282.4L748.0 281.5L747.6 283.5L747.2 279.9L746.8 277.1L746.4 280.1L746.0 276.2L745.6 279.0L745.2 278.9L744.8 279.5L744.4 278.6L744.0 279.8L743.6 276.6L743.2 279.8L742.8 281.9L742.4 280.6L742.0 279.6L741.6 278.9L741.2 279.9L740.8 278.4L740.4 277.4L740.0 278.0L739.6 276.4L739.2 278.1L738.8 276.1L738.4 275.2L738.0 277.8L737.6 278.4L737.2 273.9L736.8 273.5L736.4 271.2L736.0 272.0L735.6 272.3L735.2 271.5L734.8 270.4L734.4 269.9L734.0 268.7L733.6 266.5L733.2 265.7L732.8 265.6L732.4 267.6L732.0 268.6L731.6 267.6L731.2 267.7L730.8 268.7L730.4 265.7L730.0 270.0L729.6 266.5L729.2 267.1L728.8 266.5L728.4 267.1L728.0 266.3L727.6 266.4L727.2 264.3L726.8 266.6L726.4 268.0L726.0 265.9L725.6 268.7L725.2 267.3L724.8 266.0L724.4 267.1L724.0 262.4L723.6 263.0L723.2 264.9L722.8 262.9L722.4 262.2L722.0 259.9L721.6 261.4L721.2 261.1L720.8 260.1L720.4 260.9L720.0 261.1L719.6 261.4L719.2 261.9L718.8 259.6L718.4 261.3L718.0 259.8L717.6 259.2L717.2 262.6L716.8 265.2L716.4 265.6L716.0 263.1L715.6 264.1L715.2 264.3L714.8 266.8L714.4 264.4L714.0 267.9L713.6 263.4L713.2 263.5L712.8 267.4L712.4 267.4L712.0 266.3L711.6 269.6L711.2 270.1L710.8 272.1L710.4 274.2L710.0 275.4L709.6 273.1L709.2 270.3L708.8 271.7L708.4 268.7L708.0 270.4L707.6 263.5L707.2 267.6L706.8 269.6L706.4 268.2L706.0 272.8L705.6 266.2L705.2 268.3L704.8 270.4L704.4 267.3L704.0 266.0L703.6 262.9L703.2 266.4L702.8 265.8L702.4 266.3L702.0 267.3L701.6 265.4L701.2 265.8L700.8 260.9L700.4 265.2L700.0 263.0L699.6 265.6L699.2 263.8L698.8 264.7L698.4 264.3L698.0 271.7L697.6 267.5L697.2 267.6L696.8 265.6L696.4 267.2L696.0 266.1L695.6 265.2L695.2 265.8L694.8 269.4L694.4 264.5L694.0 266.9L693.6 266.8L693.2 270.1L692.8 270.2L692.4 268.9L692.0 272.5L691.6 272.7L691.2 271.5L690.8 273.1L690.4 273.2L690.0 271.6L689.6 272.6L689.2 274.3L688.8 273.5L688.4 275.1L688.0 275.7L687.6 278.8L687.2 276.0L686.8 279.7L686.4 279.7L686.0 283.1L685.6 281.7L685.2 283.3L684.8 285.0L684.4 284.2L684.0 286.2L683.6 286.1L683.2 285.3L682.8 287.6L682.4 288.3L682.0 290.0L681.6 288.2L681.2 290.4L680.8 292.2L680.4 294.4L680.0 294.7L679.6 296.0L679.2 296.7L678.8 298.2L678.4 300.8L678.0 297.2L677.6 297.0L677.2 297.5L676.8 298.0L676.4 299.0L676.0 300.2L675.6 300.1L675.2 300.1L674.8 303.4L674.4 301.9L674.0 303.2L673.6 302.3L673.2 303.2L672.8 303.8L672.4 306.8L672.0 303.1L671.6 303.8L671.2 313.0L670.8 306.4L670.4 309.0L670.0 307.4L669.6 307.9L669.2 309.6L668.8 309.2L668.4 311.1L668.0 313.6L667.6 311.4L667.2 315.2L666.8 313.7L666.4 315.3L666.0 315.4L665.6 315.2L665.2 316.1L664.8 314.9L664.4 318.1L664.0 319.4L663.6 320.6L663.2 319.2L662.8 319.5L662.4 321.7L662.0 319.2L661.6 321.5L661.2 321.7L660.8 321.9L660.4 322.9L660.0 327.8L659.6 324.0L659.2 324.9L658.8 323.7L658.4 324.0L658.0 328.5L657.6 325.0L657.2 325.5L656.8 325.4L656.4 328.2L656.0 330.7L655.6 328.9L655.2 332.9L654.8 334.6L654.4 329.5L654.0 336.4L653.6 333.4L653.2 333.9L652.8 336.8L652.4 335.3L652.0 336.4L651.6 339.2L651.2 339.6L650.8 339.4L650.4 344.8L650.0 343.9L649.6 342.2L649.2 342.9L648.8 347.1L648.4 346.7L648.0 349.0L647.6 352.8L647.2 353.0L646.8 352.8L646.4 357.3L646.0 358.0L645.6 359.7L645.2 356.9L644.8 355.3L644.4 357.9L644.0 354.8L643.6 358.1L643.2 356.6L642.8 354.5L642.4 356.5L642.0 352.9L641.6 355.6L641.2 353.2L640.8 353.5L640.4 349.6L640.0 353.2L639.6 350.0L639.2 348.9L638.8 349.6L638.4 351.0L638.0 350.3L637.6 347.5L637.2 348.6L636.8 348.9L636.4 349.1L636.0 349.9L635.6 348.4L635.2 349.9L634.8 348.2L634.4 349.4L634.0 348.2L633.6 348.7L633.2 347.9L632.8 344.4L632.4 349.2L632.0 346.3L631.6 348.1L631.2 347.3L630.8 347.7L630.4 346.8L630.0 345.7L629.6 344.1L629.2 345.3L628.8 342.8L628.4 346.7L628.0 342.0L627.6 344.9L627.2 343.7L626.8 342.4L626.4 341.8L626.0 341.2L625.6 342.0L625.2 341.6L624.8 340.8L624.4 341.3L624.0 341.2L623.6 343.4L623.2 340.9L622.8 340.7L622.4 342.6L622.0 343.2L621.6 342.8L621.2 341.5L620.8 342.5L620.4 343.1L620.0 342.4L619.6 338.9L619.2 341.8L618.8 339.6L618.4 344.0L618.0 344.4L617.6 344.3L617.2 344.3L616.8 343.4L616.4 344.9L616.0 347.5L615.6 346.3L615.2 352.6L614.8 351.7L614.4 348.2L614.0 349.1L613.6 345.5L613.2 347.0L612.8 343.8L612.4 341.1L612.0 344.1L611.6 344.2L611.2 342.0L610.8 348.0L610.4 340.4L610.0 342.7L609.6 340.3L609.2 343.2L608.8 338.7L608.4 336.7L608.0 339.0L607.6 338.6L607.2 337.2L606.8 338.1L606.4 336.8L606.0 334.8L605.6 333.5L605.2 335.5L604.8 335.8L604.4 335.1L604.0 335.1L603.6 335.2L603.2 338.2L602.8 335.2L602.4 336.7L602.0 337.2L601.6 332.9L601.2 331.0L600.8 334.6L600.4 331.7L600.0 333.9L599.6 335.0L599.2 330.9L598.8 334.5L598.4 333.5L598.0 333.5L597.6 333.3L597.2 331.5L596.8 333.6L596.4 332.8L596.0 330.4L595.6 333.6L595.2 330.7L594.8 332.4L594.4 327.5L594.0 329.2L593.6 329.2L593.2 325.9L592.8 327.2L592.4 325.2L592.0 331.4L591.6 331.5L591.2 330.7L590.8 331.3L590.4 331.2L590.0 329.4L589.6 330.9L589.2 329.7L588.8 332.7L588.4 328.3L588.0 329.5L587.6 331.2L587.2 332.1L586.8 330.3L586.4 331.6L586.0 331.5L585.6 334.3L585.2 330.5L584.8 335.3L584.4 335.2L584.0 336.8L583.6 337.7L583.2 339.7L582.8 337.0L582.4 339.7L582.0 335.3L581.6 337.6L581.2 335.1L580.8 332.6L580.4 332.2L580.0 336.5L579.6 335.7L579.2 336.2L578.8 330.9L578.4 334.7L578.0 330.0L577.6 330.7L577.2 330.2L576.8 331.5L576.4 328.7L576.0 329.0L575.6 326.6L575.2 330.8L574.8 325.2L574.4 327.5L574.0 326.4L573.6 328.6L573.2 327.0L572.8 325.6L572.4 327.3L572.0 326.7L571.6 329.6L571.2 330.3L570.8 327.1L570.4 328.2L570.0 326.2L569.6 329.2L569.2 327.0L568.8 325.7L568.4 326.5L568.0 327.9L567.6 325.0L567.2 327.9L566.8 325.9L566.4 327.9L566.0 326.8L565.6 326.5L565.2 323.4L564.8 327.1L564.4 324.4L564.0 324.3L563.6 327.9L563.2 326.6L562.8 326.0L562.4 325.8L562.0 322.1L561.6 324.8L561.2 325.3L560.8 327.2L560.4 328.2L560.0 328.5L559.6 330.1L559.2 329.7L558.8 328.6L558.4 329.8L558.0 334.4L557.6 329.8L557.2 327.7L556.8 328.7L556.4 332.5L556.0 334.4L555.6 335.7L555.2 337.7L554.8 336.3L554.4 336.7L554.0 338.3L553.6 336.8L553.2 337.4L552.8 340.0L552.4 338.0L552.0 340.7L551.6 342.7L551.2 342.2L550.8 342.3L550.4 342.0L550.0 340.2L549.6 338.6L549.2 335.9L548.8 335.5L548.4 335.3L548.0 335.3L547.6 337.1L547.2 338.1L546.8 337.9L546.4 336.7L546.0 332.9L545.6 335.6L545.2 337.2L544.8 335.1L544.4 336.5L544.0 332.2L543.6 336.3L543.2 335.7L542.8 334.2L542.4 334.9L542.0 334.1L541.6 335.4L541.2 334.4L540.8 339.2L540.4 341.4L540.0 339.7L539.6 342.6L539.2 342.5L538.8 340.2L538.4 342.3L538.0 343.7L537.6 342.5L537.2 342.2L536.8 343.5L536.4 344.0L536.0 347.9L535.6 347.4L535.2 347.5L534.8 348.6L534.4 348.8L534.0 347.5L533.6 346.8L533.2 348.7L532.8 353.4L532.4 350.9L532.0 349.6L531.6 351.2L531.2 355.3L530.8 351.9L530.4 354.7L530.0 354.5L529.6 353.8L529.2 354.4L528.8 356.7L528.4 355.8L528.0 359.3L527.6 358.2L527.2 362.1L526.8 359.6L526.4 363.5L526.0 364.5L525.6 361.4L525.2 363.2L524.8 365.3L524.4 365.1L524.0 365.9L523.6 368.7L523.2 369.2L522.8 369.8L522.4 366.4L522.0 373.2L521.6 374.0L521.2 374.5L520.8 375.2L520.4 377.7L520.0 378.2L519.6 380.7L519.2 384.2L518.8 382.7L518.4 384.0L518.0 385.3L517.6 383.9L517.2 381.4L516.8 387.3L516.4 385.7L516.0 387.0L515.6 391.5L515.2 392.7L514.8 391.3L514.4 391.7L514.0 391.7L513.6 390.3L513.2 392.4L512.8 393.7L512.4 395.1L512.0 395.7L511.6 398.0L511.2 394.4L510.8 396.7L510.4 396.1L510.0 398.4L509.6 399.4L509.2 401.1L508.8 403.0L508.4 402.1L508.0 403.0L507.6 404.4L507.2 408.0L506.8 408.9L506.4 404.4L506.0 407.1L505.6 407.6L505.2 408.6L504.8 405.2L504.4 408.7L504.0 409.1L503.6 413.4L503.2 415.5L502.8 413.1L502.4 414.6L502.0 413.2L501.6 414.3L501.2 416.5L500.8 414.4L500.4 417.4L500.0 416.0L499.6 416.0L499.2 417.7L498.8 419.4L498.4 419.3L498.0 417.6L497.6 420.5L497.2 421.5L496.8 422.8L496.4 424.4L496.0 424.8L495.6 422.1L495.2 425.6L494.8 429.6L494.4 429.5L494.0 429.1L493.6 428.1L493.2 434.0L492.8 432.6L492.4 432.3L492.0 431.4L491.6 437.7L491.2 437.4L490.8 439.3L490.4 439.9L490.0 441.4L489.6 442.9L489.2 442.7L488.8 445.8L488.4 444.8L488.0 446.4L487.6 449.3L487.2 449.8L486.8 450.2L486.4 447.9L486.0 446.2L485.6 447.9L485.2 445.5L484.8 444.2L484.4 446.4L484.0 441.5L483.6 442.6L483.2 443.5L482.8 443.0L482.4 441.5L482.0 442.2L481.6 444.2L481.2 441.3L480.8 444.9L480.4 437.9L480.0 440.7L479.6 439.8L479.2 439.1L478.8 441.5L478.4 437.7L478.0 440.2L477.6 439.1L477.2 438.4L476.8 439.2L476.4 436.6L476.0 437.9L475.6 440.4L475.2 442.1L474.8 441.4L474.4 439.8L474.0 437.8L473.6 437.1L473.2 440.8L472.8 439.9L472.4 439.9L472.0 440.8L471.6 443.0L471.2 441.2L470.8 441.7L470.4 440.0L470.0 440.2L469.6 441.4L469.2 438.7L468.8 440.4L468.4 439.9L468.0 438.3L467.6 437.9L467.2 438.1L466.8 434.9L466.4 436.5L466.0 436.0L465.6 437.1L465.2 434.0L464.8 435.2L464.4 438.2L464.0 434.9L463.6 437.2L463.2 435.7L462.8 437.3L462.4 438.5L462.0 440.9L461.6 438.2L461.2 437.7L460.8 438.4L460.4 441.2L460.0 441.0L459.6 439.3L459.2 441.7L458.8 442.0L458.4 441.5L458.0 444.0L457.6 442.3L457.2 444.3L456.8 443.8L456.4 444.7L456.0 448.7L455.6 447.3L455.2 445.6L454.8 447.5L454.4 443.9L454.0 443.4L453.6 444.8L453.2 445.3L452.8 442.7L452.4 441.9L452.0 443.4L451.6 445.4L451.2 441.6L450.8 443.0L450.4 443.9L450.0 440.5L449.6 438.1L449.2 436.3L448.8 439.5L448.4 437.8L448.0 437.9L447.6 438.1L447.2 436.4L446.8 438.1L446.4 437.1L446.0 436.8L445.6 437.6L445.2 437.7L444.8 436.4L444.4 438.2L444.0 439.3L443.6 438.2L443.2 441.0L442.8 435.7L442.4 436.8L442.0 435.4L441.6 436.9L441.2 438.8L440.8 440.1L440.4 438.2L440.0 438.1L439.6 440.7L439.2 437.6L438.8 438.4L438.4 436.3L438.0 438.4L437.6 438.6L437.2 437.1L436.8 434.0L436.4 433.6L436.0 434.8L435.6 432.7L435.2 432.9L434.8 431.5L434.4 430.6L434.0 432.5L433.6 434.3L433.2 431.6L432.8 432.2L432.4 435.3L432.0 432.6L431.6 433.6L431.2 433.7L430.8 435.8L430.4 435.2L430.0 436.6L429.6 436.8L429.2 434.8L428.8 436.3L428.4 435.9L428.0 439.6L427.6 436.9L427.2 439.1L426.8 435.8L426.4 437.2L426.0 437.2L425.6 439.1L425.2 439.7L424.8 444.2L424.4 444.1L424.0 445.7L423.6 447.3L423.2 446.8L422.8 444.1L422.4 443.3L422.0 441.2L421.6 443.0L421.2 438.8L420.8 438.3L420.4 441.2L420.0 443.5L419.6 442.3L419.2 444.0L418.8 438.0L418.4 441.5L418.0 437.8L417.6 436.3L417.2 435.8L416.8 434.8L416.4 438.2L416.0 436.1L415.6 436.1L415.2 440.1L414.8 434.7L414.4 437.0L414.0 435.2L413.6 436.6L413.2 437.1L412.8 440.1L412.4 437.8L412.0 436.0L411.6 437.2L411.2 437.2L410.8 437.3L410.4 433.9L410.0 432.9L409.6 434.5L409.2 432.3L408.8 434.6L408.4 433.0L408.0 432.7L407.6 432.4L407.2 433.2L406.8 430.0L406.4 428.1L406.0 426.7L405.6 426.2L405.2 426.2L404.8 427.7L404.4 423.8L404.0 422.4L403.6 422.3L403.2 420.9L402.8 422.5L402.4 418.5L402.0 422.8L401.6 419.5L401.2 420.8L400.8 418.8L400.4 419.2L400.0 421.0L399.6 420.5L399.2 419.8L398.8 417.6L398.4 417.4L398.0 417.7L397.6 415.7L397.2 419.4L396.8 415.8L396.4 417.1L396.0 414.7L395.6 417.3L395.2 419.6L394.8 415.9L394.4 415.9L394.0 417.6L393.6 415.6L393.2 420.1L392.8 417.4L392.4 419.6L392.0 419.2L391.6 418.8L391.2 416.7L390.8 414.7L390.4 410.9L390.0 409.7L389.6 409.3L389.2 409.6L388.8 408.0L388.4 408.9L388.0 408.2L387.6 405.7L387.2 407.2L386.8 405.9L386.4 401.7L386.0 403.1L385.6 399.6L385.2 402.0L384.8 398.1L384.4 398.3L384.0 400.8L383.6 395.9L383.2 397.2L382.8 396.9L382.4 395.5L382.0 395.6L381.6 394.4L381.2 392.0L380.8 394.6L380.4 394.1L380.0 390.8L379.6 392.6L379.2 392.2L378.8 391.6L378.4 391.9L378.0 390.0L377.6 390.6L377.2 388.7L376.8 390.7L376.4 392.0L376.0 388.7L375.6 390.1L375.2 387.9L374.8 390.2L374.4 386.0L374.0 387.5L373.6 386.3L373.2 387.2L372.8 386.7L372.4 384.6L372.0 384.5L371.6 383.4L371.2 381.8L370.8 377.8L370.4 379.4L370.0 380.6L369.6 375.4L369.2 379.2L368.8 375.5L368.4 377.0L368.0 373.2L367.6 374.3L367.2 375.6L366.8 378.7L366.4 377.5L366.0 375.6L365.6 373.3L365.2 374.1L364.8 372.8L364.4 369.9L364.0 373.0L363.6 371.6L363.2 373.8L362.8 369.7L362.4 371.6L362.0 373.2L361.6 373.9L361.2 372.5L360.8 372.7L360.4 372.1L360.0 374.9L359.6 371.5L359.2 369.7L358.8 370.9L358.4 365.5L358.0 369.1L357.6 362.9L357.2 364.0L356.8 365.4L356.4 364.9L356.0 361.6L355.6 363.2L355.2 364.2L354.8 363.9L354.4 358.7L354.0 358.6L353.6 358.4L353.2 356.3L352.8 359.8L352.4 356.5L352.0 356.2L351.6 353.3L351.2 353.5L350.8 353.7L350.4 353.5L350.0 354.9L349.6 351.4L349.2 350.6L348.8 353.4L348.4 351.9L348.0 352.6L347.6 353.1L347.2 351.1L346.8 349.1L346.4 347.0L346.0 347.9L345.6 350.6L345.2 345.4L344.8 345.9L344.4 347.1L344.0 346.5L343.6 345.8L343.2 343.8L342.8 343.9L342.4 342.5L342.0 345.0L341.6 341.8L341.2 339.3L340.8 340.6L340.4 340.7L340.0 340.6L339.6 337.5L339.2 336.1L338.8 337.5L338.4 336.2L338.0 334.4L337.6 335.9L337.2 335.0L336.8 335.1L336.4 333.6L336.0 334.2L335.6 330.6L335.2 332.0L334.8 333.9L334.4 331.9L334.0 334.4L333.6 331.1L333.2 327.6L332.8 330.8L332.4 328.2L332.0 329.9L331.6 330.2L331.2 331.1L330.8 332.1L330.4 334.4L330.0 332.0L329.6 332.2L329.2 330.9L328.8 333.8L328.4 334.2L328.0 332.3L327.6 332.7L327.2 334.4L326.8 331.1L326.4 329.2L326.0 332.2L325.6 327.2L325.2 325.4L324.8 325.1L324.4 325.2L324.0 327.6L323.6 323.6L323.2 324.6L322.8 323.0L322.4 322.2L322.0 322.3L321.6 318.6L321.2 318.0L320.8 319.6L320.4 319.4L320.0 318.6L319.6 317.2L319.2 318.1L318.8 316.2L318.4 322.1L318.0 318.1L317.6 317.0L317.2 317.3L316.8 317.4L316.4 319.9L316.0 319.7L315.6 316.2L315.2 315.9L314.8 319.1L314.4 316.1L314.0 314.2L313.6 313.7L313.2 314.6L312.8 315.8L312.4 315.1L312.0 315.8L311.6 314.6L311.2 314.4L310.8 314.2L310.4 313.4L310.0 310.0L309.6 309.8L309.2 310.8L308.8 311.2L308.4 307.4L308.0 307.5L307.6 306.1L307.2 308.3L306.8 307.1L306.4 306.5L306.0 309.3L305.6 306.7L305.2 305.4L304.8 306.8L304.4 307.7L304.0 306.6L303.6 307.8L303.2 307.6L302.8 305.0L302.4 302.4L302.0 306.0L301.6 302.5L301.2 305.2L300.8 307.0L300.4 308.7L300.0 304.7L299.6 304.5L299.2 307.1L298.8 303.7L298.4 306.5L298.0 306.7L297.6 311.0L297.2 309.6L296.8 316.0L296.4 316.7L296.0 314.5L295.6 313.7L295.2 317.0L294.8 313.9L294.4 315.7L294.0 312.8L293.6 312.8L293.2 316.7L292.8 320.2L292.4 317.4L292.0 320.7L291.6 320.4L291.2 321.0L290.8 323.3L290.4 325.5L290.0 323.5L289.6 325.0L289.2 326.2L288.8 325.3L288.4 328.1L288.0 326.6L287.6 326.3L287.2 329.9L286.8 328.8L286.4 331.7L286.0 332.5L285.6 333.1L285.2 335.6L284.8 335.6L284.4 337.6L284.0 339.4L283.6 338.7L283.2 337.5L282.8 336.7L282.4 336.7L282.0 341.4L281.6 341.5L281.2 344.7L280.8 342.4L280.4 346.1L280.0 347.3L279.6 346.4L279.2 349.4L278.8 348.1L278.4 350.5L278.0 351.9L277.6 353.6L277.2 350.5L276.8 351.8L276.4 354.9L276.0 354.9L275.6 357.5L275.2 355.3L274.8 353.8L274.4 358.8L274.0 358.3L273.6 361.9L273.2 361.8L272.8 363.2L272.4 365.2L272.0 363.7L271.6 368.3L271.2 368.8L270.8 373.8L270.4 370.6L270.0 373.9L269.6 373.6L269.2 374.0L268.8 377.0L268.4 377.2L268.0 378.2L267.6 378.3L267.2 378.3L266.8 378.6L266.4 383.6L266.0 384.7L265.6 384.2L265.2 386.8L264.8 391.9L264.4 391.9L264.0 392.6L263.6 391.0L263.2 392.0L262.8 392.2L262.4 393.8L262.0 393.8L261.6 394.4L261.2 395.8L260.8 393.2L260.4 399.5L260.0 395.9L259.6 398.0L259.2 398.3L258.8 398.4L258.4 394.5L258.0 397.7L257.6 400.7L257.2 401.5L256.8 401.9L256.4 402.6L256.0 402.0L255.6 402.3L255.2 402.4L254.8 404.7L254.4 404.2L254.0 404.7L253.6 410.5L253.2 410.6L252.8 409.7L252.4 412.0L252.0 414.3L251.6 414.9L251.2 411.4L250.8 414.1L250.4 415.3L250.0 416.5L249.6 416.4L249.2 417.5L248.8 422.6L248.4 418.4L248.0 422.4L247.6 420.3L247.2 423.3L246.8 422.2L246.4 421.6L246.0 421.6L245.6 422.6L245.2 422.5L244.8 426.1L244.4 424.0L244.0 423.7L243.6 426.7L243.2 423.8L242.8 429.4L242.4 427.5L242.0 428.6L241.6 430.1L241.2 430.0L240.8 432.5L240.4 433.3L240.0 432.2L239.6 433.5L239.2 435.6L238.8 437.2L238.4 434.5L238.0 434.9L237.6 437.6L237.2 438.3L236.8 438.3L236.4 439.0L236.0 439.0L235.6 437.4L235.2 440.7L234.8 442.1L234.4 443.9L234.0 444.4L233.6 448.5L233.2 448.5L232.8 448.6L232.4 451.9L232.0 449.4L231.6 451.1L231.2 450.4L230.8 447.9L230.4 448.1L230.0 451.6L229.6 453.3L229.2 450.7L228.8 452.6L228.4 452.9L228.0 454.2L227.6 452.4L227.2 452.3L226.8 452.0L226.4 451.0L226.0 449.7L225.6 449.3L225.2 452.2L224.8 449.6L224.4 454.3L224.0 453.7L223.6 453.1L223.2 454.2L222.8 456.8L222.4 455.3L222.0 455.2L221.6 454.3L221.2 456.2L220.8 457.9L220.4 457.2L220.0 458.6L219.6 457.4L219.2 457.3L218.8 457.6L218.4 460.7L218.0 457.4L217.6 458.3L217.2 463.5L216.8 458.7L216.4 460.6L216.0 458.6L215.6 460.1L215.2 458.2L214.8 457.0L214.4 458.1L214.0 462.5L213.6 463.1L213.2 456.6L212.8 459.0L212.4 458.4L212.0 458.9L211.6 456.0L211.2 455.6L210.8 457.8L210.4 456.2L210.0 461.1L209.6 458.2L209.2 458.6L208.8 457.6L208.4 458.3L208.0 458.9L207.6 461.0L207.2 460.6L206.8 460.4L206.4 458.7L206.0 460.5L205.6 460.0L205.2 463.4L204.8 461.9L204.4 460.2L204.0 463.2L203.6 463.8L203.2 464.6L202.8 464.1L202.4 469.0L202.0 467.2L201.6 468.3L201.2 467.8L200.8 471.0L200.4 470.5L200.0 469.0L199.6 466.6L199.2 469.0L198.8 466.7L198.4 463.6L198.0 464.5L197.6 465.7L197.2 467.3L196.8 465.0L196.4 465.2L196.0 466.6L195.6 465.7L195.2 463.3L194.8 466.5L194.4 462.9L194.0 463.6L193.6 461.8L193.2 462.8L192.8 463.9L192.4 459.2L192.0 462.6L191.6 461.5L191.2 461.5L190.8 462.3L190.4 462.8L190.0 462.9L189.6 465.7L189.2 466.6L188.8 465.3L188.4 464.7L188.0 464.0L187.6 465.4L187.2 465.6L186.8 464.0L186.4 460.3L186.0 463.5L185.6 464.5L185.2 464.3L184.8 466.2L184.4 464.9L184.0 464.5L183.6 465.8L183.2 461.6L182.8 460.8L182.4 464.0L182.0 463.3L181.6 465.8L181.2 463.4L180.8 462.9L180.4 461.6L180.0 462.5L179.6 461.4L179.2 463.7L178.8 461.6L178.4 462.9L178.0 465.0L177.6 461.2L177.2 460.8L176.8 465.5L176.4 460.6L176.0 464.4L175.6 465.4L175.2 462.9L174.8 461.1L174.4 463.0L174.0 462.8L173.6 465.6L173.2 465.8L172.8 464.8L172.4 469.6L172.0 466.3L171.6 466.5L171.2 468.6L170.8 471.9L170.4 470.9L170.0 472.2L169.6 471.2L169.2 476.4L168.8 475.2L168.4 473.1L168.0 473.1L167.6 470.0L167.2 471.6L166.8 466.7L166.4 468.4L166.0 470.8L165.6 470.5L165.2 472.2L164.8 470.8L164.4 468.2L164.0 469.3L163.6 471.2L163.2 468.3L162.8 471.8L162.4 469.6L162.0 467.8L161.6 467.4L161.2 469.9L160.8 468.1L160.4 468.6L160.0 469.6L159.6 466.2L159.2 467.5L158.8 468.1L158.4 467.5L158.0 470.1L157.6 468.4L157.2 470.0L156.8 467.9L156.4 469.0L156.0 467.6L155.6 467.4L155.2 466.8L154.8 467.8L154.4 467.0L154.0 467.1L153.6 467.3L153.2 467.8L152.8 467.2L152.4 468.4L152.0 469.3L151.6 467.7L151.2 464.0L150.8 470.1L150.4 468.3L150.0 470.3L149.6 466.2L149.2 466.1L148.8 464.3L148.4 464.9L148.0 464.3L147.6 464.9L147.2 467.1L146.8 466.0L146.4 466.7L146.0 465.8L145.6 465.1L145.2 465.3L144.8 465.5L144.4 466.1L144.0 468.1L143.6 467.2L143.2 463.7L142.8 467.0L142.4 463.2L142.0 466.9L141.6 466.5L141.2 467.2L140.8 466.8L140.4 470.5L140.0 470.0L139.6 473.2L139.2 469.2L138.8 473.2L138.4 472.7L138.0 473.4L137.6 474.7L137.2 475.4L136.8 477.0L136.4 475.2L136.0 473.5L135.6 471.3L135.2 471.0L134.8 470.2L134.4 469.9L134.0 471.9L133.6 473.9L133.2 469.4L132.8 467.2L132.4 469.2L132.0 470.5L131.6 469.0L131.2 468.6L130.8 467.0L130.4 467.5L130.0 466.2L129.6 465.5L129.2 465.9L128.8 466.5L128.4 466.5L128.0 466.4L127.6 468.5L127.2 467.3L126.8 468.2L126.4 467.3L126.0 464.1L125.6 467.3L125.2 466.6L124.8 466.1L124.4 469.3L124.0 466.9L123.6 463.3L123.2 467.8L122.8 468.2L122.4 469.0L122.0 464.0L121.6 467.1L121.2 468.9L120.8 465.7L120.4 465.7L120.0 465.8L119.6 466.0L119.2 468.4L118.8 466.2L118.4 465.0L118.0 467.9L117.6 466.6L117.2 468.5L116.8 462.3L116.4 463.9L116.0 464.5L115.6 463.3L115.2 466.6L114.8 461.6L114.4 463.3L114.0 465.0L113.6 466.5L113.2 465.1L112.8 463.7Z" fill="#0072B2" fill-opacity="0.2" stroke="#0072B2" stroke-opacity="0.2" stroke-width="1.6" stroke-linejoin="round"/>
<path d="M112.7 450.0h0M112.8 442.9h0M113.0 441.4h0M113.1 451.8h0M113.2 444.0h0M113.3 439.9h0M113.5 444.1h0M113.6 443.0h0M113.7 442.0h0M113.9 450.0h0M114.0 443.8h0M114.1 447.9h0M114.3 449.4h0M114.4 443.5h0M114.5 446.2h0M114.6 444.5h0M114.8 448.9h0M114.9 442.8h0M115.0 439.0h0M115.2 447.0h0M115.3 446.3h0M115.4 440.1h0M115.6 445.8h0M115.7 439.4h0M115.8 448.0h0M115.9 441.5h0M116.1 442.0h0M116.2 450.4h0M116.3 441.2h0M116.5 451.8h0M116.6 446.5h0M116.7 444.9h0M116.9 450.8h0M117.0 445.7h0M117.1 441.9h0M117.2 450.3h0M117.4 447.0h0M117.5 449.2h0M117.6 444.7h0M117.8 444.5h0M117.9 446.2h0M118.0 444.4h0M118.2 448.7h0M118.3 446.0h0M118.4 450.1h0M118.5 447.8h0M118.7 446.1h0M118.8 440.5h0M118.9 447.5h0M119.1 438.3h0M119.2 448.4h0M119.3 438.2h0M119.5 447.4h0M119.6 442.7h0M119.7 437.1h0M119.8 439.9h0M120.0 429.8h0M120.1 429.5h0M120.2 434.9h0M120.4 430.8h0M120.5 421.9h0M120.6 434.5h0M120.8 419.2h0M120.9 431.7h0M121.0 428.9h0M121.1 416.1h0M121.3 431.0h0M121.4 422.9h0M121.5 406.2h0M121.7 430.8h0M121.8 406.8h0M121.9 403.2h0M122.1 426.3h0M122.2 403.1h0M122.3 426.6h0M122.4 409.3h0M122.6 429.6h0M122.7 410.8h0M122.8 428.8h0M123.0 430.2h0M123.1 412.5h0M123.2 404.3h0M123.4 425.9h0M123.5 406.7h0M123.6 425.9h0M123.7 408.9h0M123.9 408.6h0M124.0 428.2h0M124.1 415.7h0M124.3 405.6h0M124.4 420.8h0M124.5 408.7h0M124.7 419.8h0M124.8 418.9h0M124.9 427.7h0M125.0 420.6h0M125.2 407.0h0M125.3 428.5h0M125.4 421.2h0M125.6 408.1h0M125.7 422.3h0M125.8 409.1h0M126.0 409.3h0M126.1 418.5h0M126.2 410.2h0M126.3 422.1h0M126.5 414.8h0M126.6 427.3h0M126.7 422.9h0M126.9 418.6h0M127.0 413.7h0M127.1 423.8h0M127.3 410.9h0M127.4 428.3h0M127.5 420.9h0M127.6 415.2h0M127.8 424.9h0M127.9 422.2h0M128.0 427.8h0M128.2 419.0h0M128.3 415.2h0M128.4 413.4h0M128.6 422.2h0M128.7 413.6h0M128.8 423.8h0M128.9 418.4h0M129.1 426.2h0M129.2 421.9h0M129.3 419.7h0M129.5 428.5h0M129.6 423.7h0M129.7 427.0h0M129.9 425.9h0M130.0 419.0h0M130.1 418.8h0M130.2 422.4h0M130.4 422.5h0M130.5 426.5h0M130.6 421.8h0M130.8 421.0h0M130.9 428.4h0M131.0 424.5h0M131.2 432.4h0M131.3 421.6h0M131.4 420.3h0M131.5 430.6h0M131.7 422.4h0M131.8 431.4h0M131.9 423.4h0M132.1 425.5h0M132.2 438.6h0M132.3 433.0h0M132.5 437.9h0M132.6 427.4h0M132.7 426.7h0M132.8 440.4h0M133.0 432.9h0M133.1 438.2h0M133.2 432.4h0M133.4 430.1h0M133.5 435.8h0M133.6 437.7h0M133.8 431.1h0M133.9 436.0h0M134.0 426.6h0M134.1 430.0h0M134.3 439.9h0M134.4 430.1h0M134.5 441.3h0M134.7 439.9h0M134.8 444.0h0M134.9 434.9h0M135.1 434.4h0M135.2 442.9h0M135.3 440.8h0M135.4 436.1h0M135.6 442.4h0M135.7 433.7h0M135.8 444.0h0M136.0 445.5h0M136.1 447.8h0M136.2 434.5h0M136.4 442.8h0M136.5 438.5h0M136.6 447.4h0M136.7 437.2h0M136.9 446.5h0M137.0 447.8h0M137.1 437.7h0M137.3 449.5h0M137.4 440.1h0M137.5 449.0h0M137.7 447.5h0M137.8 440.4h0M137.9 440.3h0M138.0 447.7h0M138.2 441.5h0M138.3 447.2h0M138.4 443.1h0M138.6 449.4h0M138.7 445.3h0M138.8 444.9h0M139.0 449.0h0M139.1 446.5h0M139.2 444.8h0M139.3 448.0h0M139.5 447.3h0M139.6 448.9h0M139.7 448.6h0M139.9 446.9h0M140.0 448.7h0M140.1 448.0h0M140.3 448.0h0M140.4 448.6h0M140.5 448.5h0M140.6 447.6h0M140.8 448.9h0M140.9 450.4h0M141.0 450.2h0M141.2 447.5h0M141.3 447.1h0M141.4 448.0h0M141.6 446.4h0M141.7 450.2h0M141.8 448.1h0M141.9 450.3h0M142.1 449.0h0M142.2 447.3h0M142.3 450.1h0M142.5 446.1h0M142.6 445.0h0M142.7 449.0h0M142.9 446.2h0M143.0 449.0h0M143.1 447.3h0M143.2 447.7h0M143.4 445.2h0M143.5 449.3h0M143.6 446.2h0M143.8 448.5h0M143.9 447.8h0M144.0 448.1h0M144.2 447.1h0M144.3 446.1h0M144.4 446.6h0M144.5 446.2h0M144.7 446.5h0M144.8 446.6h0M144.9 446.4h0M145.1 447.0h0M145.2 446.6h0M145.3 445.8h0M145.5 448.1h0M145.6 446.1h0M145.7 447.6h0M145.8 447.8h0M146.0 444.4h0M146.1 443.1h0M146.2 445.5h0M146.4 449.2h0M146.5 448.9h0M146.6 443.1h0M146.8 448.2h0M146.9 446.0h0M147.0 444.3h0M147.1 445.3h0M147.3 443.5h0M147.4 442.5h0M147.5 444.4h0M147.7 442.7h0M147.8 442.9h0M147.9 443.0h0M148.1 442.9h0M148.2 442.6h0M148.3 442.4h0M148.4 442.1h0M148.6 443.2h0M148.7 441.1h0M148.8 442.9h0M149.0 442.3h0M149.1 440.5h0M149.2 443.4h0M149.4 439.7h0M149.5 442.2h0M149.6 439.3h0M149.7 438.2h0M149.9 441.3h0M150.0 440.2h0M150.1 440.7h0M150.3 438.7h0M150.4 438.5h0M150.5 442.1h0M150.7 438.0h0M150.8 441.6h0M150.9 438.6h0M151.0 438.3h0M151.2 440.5h0M151.3 437.5h0M151.4 436.3h0M151.6 437.8h0M151.7 436.3h0M151.8 438.5h0M152.0 435.4h0M152.1 435.1h0M152.2 433.2h0M152.3 435.8h0M152.5 433.1h0M152.6 438.0h0M152.7 433.3h0M152.9 437.1h0M153.0 436.6h0M153.1 434.6h0M153.3 434.8h0M153.4 433.1h0M153.5 433.3h0M153.6 434.4h0M153.8 433.8h0M153.9 433.4h0M154.0 433.6h0M154.2 433.6h0M154.3 433.6h0M154.4 433.6h0M154.6 433.4h0M154.7 433.2h0M154.8 432.9h0M154.9 433.0h0M155.1 433.0h0M155.2 432.6h0M155.3 433.3h0M155.5 432.2h0M155.6 431.3h0M155.7 433.2h0M155.9 430.4h0M156.0 431.7h0M156.1 429.7h0M156.2 428.2h0M156.4 429.2h0M156.5 428.5h0M156.6 427.2h0M156.8 428.4h0M156.9 428.3h0M157.0 430.4h0M157.2 428.4h0M157.3 427.8h0M157.4 430.5h0M157.5 427.6h0M157.7 431.2h0M157.8 428.3h0M157.9 427.0h0M158.1 428.6h0M158.2 426.1h0M158.3 431.1h0M158.5 428.9h0M158.6 425.6h0M158.7 428.7h0M158.8 429.7h0M159.0 430.7h0M159.1 431.7h0M159.2 424.2h0M159.4 430.1h0M159.5 430.1h0M159.6 426.5h0M159.8 430.7h0M159.9 429.2h0M160.0 430.6h0M160.1 431.2h0M160.3 426.7h0M160.4 431.1h0M160.5 429.2h0M160.7 432.5h0M160.8 432.8h0M160.9 428.9h0M161.1 432.0h0M161.2 429.5h0M161.3 427.8h0M161.4 433.1h0M161.6 429.3h0M161.7 434.2h0M161.8 432.9h0M162.0 428.4h0M162.1 428.4h0M162.2 431.4h0M162.4 429.1h0M162.5 434.4h0M162.6 430.3h0M162.7 431.0h0M162.9 432.3h0M163.0 431.7h0M163.1 431.1h0M163.3 431.8h0M163.4 431.4h0M163.5 437.8h0M163.7 435.2h0M163.8 437.1h0M163.9 435.4h0M164.0 433.6h0M164.2 437.7h0M164.3 436.5h0M164.4 434.0h0M164.6 435.8h0M164.7 435.7h0M164.8 436.1h0M165.0 438.0h0M165.1 437.0h0M165.2 440.2h0M165.3 438.1h0M165.5 438.1h0M165.6 441.2h0M165.7 440.9h0M165.9 442.4h0M166.0 443.9h0M166.1 445.3h0M166.3 446.0h0M166.4 442.3h0M166.5 441.9h0M166.6 444.8h0M166.8 447.5h0M166.9 448.0h0M167.0 446.5h0M167.2 447.5h0M167.3 447.2h0M167.4 446.1h0M167.6 447.8h0M167.7 447.0h0M167.8 445.5h0M167.9 446.8h0M168.1 444.8h0M168.2 450.3h0M168.3 448.0h0M168.5 446.3h0M168.6 450.4h0M168.7 448.7h0M168.9 451.0h0M169.0 447.6h0M169.1 446.3h0M169.2 449.0h0M169.4 448.1h0M169.5 447.6h0M169.6 450.3h0M169.8 448.0h0M169.9 447.9h0M170.0 449.6h0M170.2 448.6h0M170.3 448.3h0M170.4 448.7h0M170.5 448.8h0M170.7 448.7h0M170.8 448.9h0M170.9 449.0h0M171.1 449.0h0M171.2 448.8h0M171.3 448.6h0M171.5 448.3h0M171.6 448.0h0M171.7 447.8h0M171.8 447.5h0M172.0 448.5h0M172.1 447.2h0M172.2 447.5h0M172.4 449.3h0M172.5 448.0h0M172.6 448.1h0M172.8 450.0h0M172.9 449.5h0M173.0 450.4h0M173.1 450.2h0M173.3 450.1h0M173.4 450.4h0M173.5 449.6h0M173.7 449.8h0M173.8 449.0h0M173.9 448.0h0M174.1 449.1h0M174.2 448.0h0M174.3 447.6h0M174.4 447.9h0M174.6 447.3h0M174.7 447.1h0M174.8 447.3h0M175.0 449.1h0M175.1 448.6h0M175.2 447.7h0M175.4 446.5h0M175.5 447.3h0M175.6 447.4h0M175.7 449.1h0M175.9 446.1h0M176.0 449.3h0M176.1 448.2h0M176.3 447.0h0M176.4 448.0h0M176.5 446.1h0M176.7 445.8h0M176.8 449.1h0M176.9 444.8h0M177.0 447.9h0M177.2 447.6h0M177.3 445.3h0M177.4 446.3h0M177.6 445.6h0M177.7 447.3h0M177.8 446.7h0M178.0 444.3h0M178.1 446.4h0M178.2 446.0h0M178.3 445.4h0M178.5 445.7h0M178.6 444.5h0M178.7 447.5h0M178.9 447.6h0M179.0 444.0h0M179.1 447.1h0M179.3 445.1h0M179.4 444.3h0M179.5 445.6h0M179.6 443.9h0M179.8 446.6h0M179.9 444.8h0M180.0 442.8h0M180.2 446.2h0M180.3 442.8h0M180.4 446.3h0M180.6 443.5h0M180.7 443.9h0M180.8 445.8h0M180.9 445.8h0M181.1 443.3h0M181.2 445.1h0M181.3 445.5h0M181.5 446.5h0M181.6 446.1h0M181.7 444.7h0M181.9 445.8h0M182.0 443.9h0M182.1 447.4h0M182.2 445.0h0M182.4 441.8h0M182.5 445.2h0M182.6 442.2h0M182.8 441.6h0M182.9 443.1h0M183.0 440.3h0M183.2 442.2h0M183.3 440.0h0M183.4 438.7h0M183.5 438.5h0M183.7 440.3h0M183.8 440.7h0M183.9 439.6h0M184.1 437.3h0M184.2 441.4h0M184.3 436.2h0M184.5 441.2h0M184.6 441.7h0M184.7 432.9h0M184.8 441.7h0M185.0 440.0h0M185.1 433.9h0M185.2 439.9h0M185.4 438.0h0M185.5 433.5h0M185.6 438.0h0M185.8 435.8h0M185.9 440.4h0M186.0 434.0h0M186.1 433.2h0M186.3 439.8h0M186.4 428.9h0M186.5 427.2h0M186.7 434.3h0M186.8 429.0h0M186.9 426.0h0M187.1 429.7h0M187.2 426.1h0M187.3 431.5h0M187.4 426.4h0M187.6 424.3h0M187.7 431.7h0M187.8 422.4h0M188.0 430.5h0M188.1 427.7h0M188.2 421.7h0M188.4 433.4h0M188.5 423.5h0M188.6 423.5h0M188.7 425.6h0M188.9 424.9h0M189.0 421.4h0M189.1 423.1h0M189.3 431.2h0M189.4 429.0h0M189.5 422.8h0M189.7 427.6h0M189.8 427.7h0M189.9 422.8h0M190.0 426.9h0M190.2 423.5h0M190.3 429.9h0M190.4 426.4h0M190.6 425.9h0M190.7 427.9h0M190.8 424.0h0M191.0 424.8h0M191.1 428.1h0M191.2 426.7h0M191.3 431.4h0M191.5 429.9h0M191.6 425.4h0M191.7 427.3h0M191.9 424.0h0M192.0 430.1h0M192.1 430.2h0M192.3 424.6h0M192.4 422.5h0M192.5 427.2h0M192.6 422.8h0M192.8 426.8h0M192.9 424.3h0M193.0 419.9h0M193.2 424.6h0M193.3 421.6h0M193.4 424.4h0M193.6 418.0h0M193.7 415.9h0M193.8 417.9h0M193.9 414.4h0M194.1 424.0h0M194.2 422.1h0M194.3 424.2h0M194.5 421.1h0M194.6 412.8h0M194.7 409.7h0M194.9 424.2h0M195.0 410.4h0M195.1 406.8h0M195.2 413.5h0M195.4 405.9h0M195.5 418.7h0M195.6 405.7h0M195.8 406.0h0M195.9 418.8h0M196.0 402.4h0M196.2 423.5h0M196.3 409.3h0M196.4 421.7h0M196.5 421.8h0M196.7 413.4h0M196.8 427.0h0M196.9 409.2h0M197.1 404.8h0M197.2 419.3h0M197.3 407.7h0M197.5 428.9h0M197.6 429.3h0M197.7 416.5h0M197.8 435.4h0M198.0 428.8h0M198.1 432.4h0M198.2 422.7h0M198.4 409.5h0M198.5 426.9h0M198.6 426.8h0M198.8 411.3h0M198.9 431.5h0M199.0 426.3h0M199.1 433.1h0M199.3 421.3h0M199.4 420.6h0M199.5 426.5h0M199.7 431.4h0M199.8 438.1h0M199.9 423.2h0M200.1 417.0h0M200.2 432.3h0M200.3 433.9h0M200.4 436.5h0M200.6 427.5h0M200.7 425.5h0M200.8 433.6h0M201.0 427.2h0M201.1 423.9h0M201.2 431.3h0M201.4 427.9h0M201.5 432.1h0M201.6 425.4h0M201.7 419.8h0M201.9 421.0h0M202.0 423.1h0M202.1 429.8h0M202.3 426.2h0M202.4 423.0h0M202.5 418.7h0M202.7 426.5h0M202.8 420.2h0M202.9 430.2h0M203.0 426.6h0M203.2 416.3h0M203.3 424.5h0M203.4 417.3h0M203.6 417.4h0M203.7 424.9h0M203.8 417.7h0M204.0 426.1h0M204.1 424.0h0M204.2 413.8h0M204.3 421.5h0M204.5 424.0h0M204.6 430.0h0M204.7 420.0h0M204.9 416.0h0M205.0 412.2h0M205.1 424.4h0M205.3 413.6h0M205.4 418.9h0M205.5 417.0h0M205.6 428.5h0M205.8 424.8h0M205.9 427.5h0M206.0 424.5h0M206.2 419.8h0M206.3 415.4h0M206.4 418.8h0M206.6 421.0h0M206.7 424.3h0M206.8 425.5h0M206.9 421.0h0M207.1 427.1h0M207.2 422.6h0M207.3 428.4h0M207.5 425.0h0M207.6 424.7h0M207.7 429.5h0M207.9 425.2h0M208.0 430.5h0M208.1 430.8h0M208.2 428.0h0M208.4 425.8h0M208.5 430.1h0M208.6 426.9h0M208.8 430.7h0M208.9 429.5h0M209.0 429.3h0M209.2 430.3h0M209.3 429.8h0M209.4 430.8h0M209.5 430.0h0M209.7 429.1h0M209.8 429.7h0M209.9 428.7h0M210.1 427.9h0M210.2 428.7h0M210.3 427.2h0M210.5 433.1h0M210.6 429.2h0M210.7 432.7h0M210.8 430.0h0M211.0 429.6h0M211.1 433.5h0M211.2 431.5h0M211.4 430.3h0M211.5 433.8h0M211.6 430.1h0M211.8 430.1h0M211.9 432.3h0M212.0 430.8h0M212.1 432.3h0M212.3 431.2h0M212.4 431.1h0M212.5 433.9h0M212.7 431.2h0M212.8 433.7h0M212.9 434.1h0M213.1 431.8h0M213.2 431.7h0M213.3 432.0h0M213.4 431.8h0M213.6 433.6h0M213.7 436.2h0M213.8 435.8h0M214.0 435.2h0M214.1 431.2h0M214.2 433.8h0M214.4 433.2h0M214.5 432.3h0M214.6 435.1h0M214.7 432.3h0M214.9 436.1h0M215.0 434.7h0M215.1 435.9h0M215.3 434.7h0M215.4 435.1h0M215.5 433.3h0M215.7 430.6h0M215.8 429.7h0M215.9 432.9h0M216.0 429.2h0M216.2 426.5h0M216.3 431.1h0M216.4 432.4h0M216.6 423.7h0M216.7 428.4h0M216.8 430.4h0M217.0 428.5h0M217.1 422.6h0M217.2 426.5h0M217.3 427.1h0M217.5 418.4h0M217.6 428.2h0M217.7 424.4h0M217.9 418.0h0M218.0 424.5h0M218.1 416.5h0M218.3 423.2h0M218.4 417.4h0M218.5 417.5h0M218.6 422.3h0M218.8 419.6h0M218.9 425.7h0M219.0 425.9h0M219.2 428.5h0M219.3 428.3h0M219.4 422.5h0M219.6 421.2h0M219.7 425.3h0M219.8 425.1h0M219.9 427.5h0M220.1 424.0h0M220.2 421.8h0M220.3 425.5h0M220.5 424.1h0M220.6 426.4h0M220.7 423.8h0M220.9 424.6h0M221.0 425.8h0M221.1 425.6h0M221.2 426.6h0M221.4 426.4h0M221.5 422.6h0M221.6 427.4h0M221.8 425.2h0M221.9 424.5h0M222.0 426.3h0M222.2 425.4h0M222.3 425.3h0M222.4 427.9h0M222.5 426.4h0M222.7 427.6h0M222.8 426.7h0M222.9 424.9h0M223.1 426.1h0M223.2 425.6h0M223.3 426.6h0M223.5 424.6h0M223.6 424.9h0M223.7 425.3h0M223.8 425.2h0M224.0 425.6h0M224.1 425.4h0M224.2 424.5h0M224.4 424.1h0M224.5 424.8h0M224.6 423.7h0M224.8 425.2h0M224.9 424.5h0M225.0 426.1h0M225.1 425.6h0M225.3 421.1h0M225.4 419.5h0M225.5 419.9h0M225.7 424.9h0M225.8 424.2h0M225.9 420.7h0M226.1 423.5h0M226.2 422.2h0M226.3 422.8h0M226.4 422.2h0M226.6 422.0h0M226.7 423.0h0M226.8 423.1h0M227.0 421.2h0M227.1 423.0h0M227.2 421.2h0M227.4 420.2h0M227.5 419.8h0M227.6 422.3h0M227.7 423.5h0M227.9 421.6h0M228.0 420.0h0M228.1 421.8h0M228.3 419.6h0M228.4 419.8h0M228.5 421.1h0M228.7 420.0h0M228.8 421.3h0M228.9 420.9h0M229.0 419.8h0M229.2 421.4h0M229.3 419.6h0M229.4 419.5h0M229.6 422.0h0M229.7 419.9h0M229.8 421.3h0M230.0 419.9h0M230.1 421.9h0M230.2 422.4h0M230.3 419.1h0M230.5 422.5h0M230.6 421.9h0M230.7 420.0h0M230.9 422.8h0M231.0 419.9h0M231.1 423.8h0M231.3 423.4h0M231.4 420.8h0M231.5 423.2h0M231.6 421.8h0M231.8 421.2h0M231.9 422.4h0M232.0 421.5h0M232.2 420.9h0M232.3 422.3h0M232.4 420.0h0M232.6 422.0h0M232.7 420.7h0M232.8 420.0h0M232.9 423.2h0M233.1 421.5h0M233.2 423.5h0M233.3 421.9h0M233.5 422.8h0M233.6 425.0h0M233.7 424.2h0M233.9 425.7h0M234.0 425.4h0M234.1 422.9h0M234.2 426.6h0M234.4 424.4h0M234.5 423.5h0M234.6 426.0h0M234.8 424.4h0M234.9 427.3h0M235.0 425.8h0M235.2 423.4h0M235.3 425.7h0M235.4 423.1h0M235.5 422.9h0M235.7 427.0h0M235.8 424.9h0M235.9 427.9h0M236.1 424.9h0M236.2 428.6h0M236.3 429.4h0M236.5 423.8h0M236.6 424.6h0M236.7 430.2h0M236.8 427.2h0M237.0 423.2h0M237.1 428.3h0M237.2 423.1h0M237.4 431.1h0M237.5 425.8h0M237.6 431.2h0M237.8 425.4h0M237.9 430.8h0M238.0 430.2h0M238.1 423.8h0M238.3 423.3h0M238.4 427.6h0M238.5 422.3h0M238.7 430.2h0M238.8 428.1h0M238.9 425.0h0M239.1 426.9h0M239.2 423.6h0M239.3 429.1h0M239.4 426.0h0M239.6 421.7h0M239.7 426.6h0M239.8 422.4h0M240.0 421.8h0M240.1 428.1h0M240.2 420.6h0M240.4 419.9h0M240.5 424.3h0M240.6 418.5h0M240.7 424.6h0M240.9 424.0h0M241.0 424.2h0M241.1 422.5h0M241.3 416.9h0M241.4 415.1h0M241.5 416.3h0M241.7 422.1h0M241.8 423.2h0M241.9 414.3h0M242.0 422.4h0M242.2 414.8h0M242.3 410.9h0M242.4 418.8h0M242.6 416.8h0M242.7 420.2h0M242.8 414.7h0M243.0 410.9h0M243.1 418.7h0M243.2 409.3h0M243.3 410.6h0M243.5 417.0h0M243.6 410.5h0M243.7 403.1h0M243.9 408.3h0M244.0 403.3h0M244.1 398.6h0M244.3 405.8h0M244.4 399.2h0M244.5 408.2h0M244.6 399.0h0M244.8 392.6h0M244.9 403.0h0M245.0 387.4h0M245.2 400.7h0M245.3 385.6h0M245.4 399.5h0M245.6 393.7h0M245.7 380.2h0M245.8 393.4h0M245.9 382.7h0M246.1 391.9h0M246.2 387.6h0M246.3 382.4h0M246.5 391.8h0M246.6 385.4h0M246.7 381.1h0M246.9 389.7h0M247.0 382.3h0M247.1 387.2h0M247.2 379.3h0M247.4 376.4h0M247.5 383.7h0M247.6 382.3h0M247.8 376.5h0M247.9 385.8h0M248.0 374.9h0M248.2 372.0h0M248.3 383.1h0M248.4 371.8h0M248.5 386.1h0M248.7 371.8h0M248.8 384.1h0M248.9 387.0h0M249.1 380.2h0M249.2 386.8h0M249.3 380.1h0M249.5 372.8h0M249.6 378.3h0M249.7 377.8h0M249.8 369.0h0M250.0 375.2h0M250.1 370.1h0M250.2 365.1h0M250.4 381.4h0M250.5 364.3h0M250.6 375.2h0M250.8 373.3h0M250.9 362.7h0M251.0 376.2h0M251.1 363.9h0M251.3 374.5h0M251.4 378.3h0M251.5 384.3h0M251.7 368.7h0M251.8 360.7h0M251.9 382.5h0M252.1 363.8h0M252.2 364.1h0M252.3 379.1h0M252.4 357.1h0M252.6 355.8h0M252.7 366.1h0M252.8 353.8h0M253.0 351.7h0M253.1 354.6h0M253.2 349.6h0M253.4 378.5h0M253.5 350.2h0M253.6 348.6h0M253.7 360.1h0M253.9 348.9h0M254.0 370.1h0M254.1 364.5h0M254.3 375.6h0M254.4 369.8h0M254.5 361.1h0M254.7 347.5h0M254.8 359.6h0M254.9 372.1h0M255.0 367.4h0M255.2 342.8h0M255.3 367.6h0M255.4 352.7h0M255.6 352.3h0M255.7 364.6h0M255.8 346.5h0M256.0 364.7h0M256.1 357.5h0M256.2 342.3h0M256.3 336.6h0M256.5 350.3h0M256.6 345.2h0M256.7 348.1h0M256.9 345.0h0M257.0 360.3h0M257.1 346.8h0M257.3 336.9h0M257.4 334.4h0M257.5 341.2h0M257.6 338.9h0M257.8 351.7h0M257.9 336.2h0M258.0 351.4h0M258.2 338.9h0M258.3 342.0h0M258.4 349.4h0M258.6 340.4h0M258.7 358.5h0M258.8 344.5h0M258.9 338.9h0M259.1 353.8h0M259.2 347.8h0M259.3 357.3h0M259.5 355.9h0M259.6 346.7h0M259.7 343.4h0M259.9 349.1h0M260.0 344.4h0M260.1 356.5h0M260.2 350.0h0M260.4 358.1h0M260.5 352.3h0M260.6 350.5h0M260.8 358.6h0M260.9 354.1h0M261.0 352.7h0M261.2 356.7h0M261.3 352.4h0M261.4 354.0h0M261.5 359.4h0M261.7 351.1h0M261.8 362.9h0M261.9 354.8h0M262.1 357.4h0M262.2 362.1h0M262.3 354.1h0M262.5 364.5h0M262.6 365.6h0M262.7 356.5h0M262.8 354.8h0M263.0 359.9h0M263.1 355.5h0M263.2 367.3h0M263.4 361.8h0M263.5 371.7h0M263.6 363.0h0M263.8 360.6h0M263.9 359.2h0M264.0 365.2h0M264.1 374.5h0M264.3 365.2h0M264.4 369.1h0M264.5 370.3h0M264.7 364.1h0M264.8 362.4h0M264.9 377.0h0M265.1 366.2h0M265.2 365.8h0M265.3 375.4h0M265.4 364.7h0M265.6 376.6h0M265.7 368.3h0M265.8 367.0h0M266.0 376.8h0M266.1 369.0h0M266.2 380.2h0M266.4 374.0h0M266.5 366.2h0M266.6 380.4h0M266.7 366.1h0M266.9 377.1h0M267.0 371.6h0M267.1 368.7h0M267.3 363.3h0M267.4 368.7h0M267.5 364.0h0M267.7 377.9h0M267.8 370.3h0M267.9 363.6h0M268.0 373.1h0M268.2 365.9h0M268.3 372.6h0M268.4 368.2h0M268.6 374.7h0M268.7 372.0h0M268.8 360.6h0M269.0 361.5h0M269.1 371.4h0M269.2 362.0h0M269.3 374.1h0M269.5 361.2h0M269.6 360.5h0M269.7 367.4h0M269.9 363.4h0M270.0 372.9h0M270.1 369.2h0M270.3 363.1h0M270.4 368.7h0M270.5 366.3h0M270.6 369.8h0M270.8 367.5h0M270.9 361.2h0M271.0 370.4h0M271.2 361.1h0M271.3 360.6h0M271.4 369.1h0M271.6 362.2h0M271.7 366.6h0M271.8 364.8h0M271.9 359.7h0M272.1 362.9h0M272.2 363.9h0M272.3 365.9h0M272.5 358.9h0M272.6 357.5h0M272.7 360.9h0M272.9 360.0h0M273.0 365.6h0M273.1 364.7h0M273.2 355.9h0M273.4 363.2h0M273.5 355.7h0M273.6 354.0h0M273.8 360.0h0M273.9 353.0h0M274.0 358.3h0M274.2 356.4h0M274.3 350.1h0M274.4 354.4h0M274.5 348.9h0M274.7 354.0h0M274.8 354.0h0M274.9 347.3h0M275.1 352.4h0M275.2 344.9h0M275.3 343.4h0M275.5 352.7h0M275.6 341.0h0M275.7 351.5h0M275.8 350.2h0M276.0 334.7h0M276.1 347.6h0M276.2 338.1h0M276.4 331.1h0M276.5 342.2h0M276.6 339.0h0M276.8 325.5h0M276.9 330.5h0M277.0 340.0h0M277.1 319.2h0M277.3 329.1h0M277.4 334.0h0M277.5 329.5h0M277.7 316.2h0M277.8 330.5h0M277.9 327.9h0M278.1 317.9h0M278.2 331.7h0M278.3 322.4h0M278.4 333.7h0M278.6 327.6h0M278.7 321.3h0M278.8 317.9h0M279.0 320.4h0M279.1 321.1h0M279.2 326.6h0M279.4 320.5h0M279.5 330.2h0M279.6 330.4h0M279.7 319.7h0M279.9 328.0h0M280.0 326.6h0M280.1 317.2h0M280.3 327.9h0M280.4 319.6h0M280.5 330.5h0M280.7 327.7h0M280.8 331.6h0M280.9 324.3h0M281.0 321.9h0M281.2 329.9h0M281.3 321.0h0M281.4 314.5h0M281.6 325.0h0M281.7 320.7h0M281.8 317.3h0M282.0 330.9h0M282.1 318.8h0M282.2 328.2h0M282.3 322.4h0M282.5 332.6h0M282.6 329.6h0M282.7 319.6h0M282.9 320.4h0M283.0 328.7h0M283.1 323.8h0M283.3 319.8h0M283.4 328.7h0M283.5 331.7h0M283.6 324.4h0M283.8 320.4h0M283.9 318.8h0M284.0 329.4h0M284.2 319.0h0M284.3 328.2h0M284.4 322.6h0M284.6 330.9h0M284.7 321.4h0M284.8 332.5h0M284.9 326.3h0M285.1 329.0h0M285.2 317.3h0M285.3 327.8h0M285.5 325.3h0M285.6 315.1h0M285.7 320.9h0M285.9 320.1h0M286.0 329.8h0M286.1 324.6h0M286.2 320.2h0M286.4 321.5h0M286.5 325.4h0M286.6 328.2h0M286.8 319.1h0M286.9 315.1h0M287.0 331.2h0M287.2 318.3h0M287.3 327.6h0M287.4 328.0h0M287.5 318.6h0M287.7 313.4h0M287.8 325.2h0M287.9 318.6h0M288.1 323.9h0M288.2 320.8h0M288.3 328.6h0M288.5 318.7h0M288.6 327.0h0M288.7 297.9h0M288.8 312.0h0M289.0 326.7h0M289.1 303.9h0M289.2 295.0h0M289.4 315.1h0M289.5 307.9h0M289.6 297.7h0M289.8 306.5h0M289.9 294.6h0M290.0 303.9h0M290.1 305.8h0M290.3 290.0h0M290.4 289.3h0M290.5 300.4h0M290.7 306.7h0M290.8 298.6h0M290.9 290.3h0M291.1 302.1h0M291.2 301.5h0M291.3 296.4h0M291.4 303.5h0M291.6 293.4h0M291.7 292.6h0M291.8 300.9h0M292.0 296.1h0M292.1 302.7h0M292.2 298.7h0M292.4 302.5h0M292.5 296.9h0M292.6 289.5h0M292.7 290.5h0M292.9 297.7h0M293.0 303.3h0M293.1 288.4h0M293.3 293.9h0M293.4 301.6h0M293.5 293.3h0M293.7 287.8h0M293.8 301.6h0M293.9 293.4h0M294.0 291.4h0M294.2 300.5h0M294.3 291.9h0M294.4 300.3h0M294.6 298.5h0M294.7 291.5h0M294.8 300.0h0M295.0 295.5h0M295.1 287.2h0M295.2 294.9h0M295.3 285.4h0M295.5 295.5h0M295.6 287.8h0M295.7 272.3h0M295.9 286.2h0M296.0 285.6h0M296.1 268.2h0M296.3 288.0h0M296.4 280.0h0M296.5 265.0h0M296.6 275.6h0M296.8 261.9h0M296.9 285.5h0M297.0 279.8h0M297.2 267.1h0M297.3 287.1h0M297.4 263.6h0M297.6 286.2h0M297.7 264.2h0M297.8 258.7h0M297.9 283.8h0M298.1 259.1h0M298.2 278.1h0M298.3 267.8h0M298.5 282.9h0M298.6 272.2h0M298.7 258.4h0M298.9 280.0h0M299.0 265.0h0M299.1 267.7h0M299.2 269.9h0M299.4 257.6h0M299.5 277.8h0M299.6 276.9h0M299.8 266.5h0M299.9 272.8h0M300.0 256.6h0M300.2 256.9h0M300.3 267.5h0M300.4 267.2h0M300.5 247.1h0M300.7 265.5h0M300.8 248.3h0M300.9 247.5h0M301.1 265.1h0M301.2 246.1h0M301.3 261.7h0M301.5 235.5h0M301.6 248.8h0M301.7 226.1h0M301.8 218.4h0M302.0 205.1h0M302.1 211.9h0M302.2 200.8h0M302.4 230.5h0M302.5 215.0h0M302.6 229.9h0M302.8 206.3h0M302.9 240.6h0M303.0 233.2h0M303.1 206.6h0M303.3 202.2h0M303.4 223.3h0M303.5 212.2h0M303.7 223.1h0M303.8 192.7h0M303.9 198.8h0M304.1 223.1h0M304.2 189.6h0M304.3 186.2h0M304.4 219.4h0M304.6 189.9h0M304.7 190.2h0M304.8 220.3h0M305.0 191.2h0M305.1 214.8h0M305.2 198.1h0M305.4 198.4h0M305.5 212.7h0M305.6 201.8h0M305.7 218.7h0M305.9 212.3h0M306.0 207.1h0M306.1 230.2h0M306.3 206.1h0M306.4 228.5h0M306.5 222.7h0M306.7 207.9h0M306.8 238.0h0M306.9 208.4h0M307.0 209.4h0M307.2 242.6h0M307.3 209.4h0M307.4 242.3h0M307.6 227.9h0M307.7 223.4h0M307.8 232.5h0M308.0 256.7h0M308.1 251.3h0M308.2 250.0h0M308.3 258.2h0M308.5 244.1h0M308.6 242.3h0M308.7 251.6h0M308.9 252.7h0M309.0 233.8h0M309.1 256.2h0M309.3 252.3h0M309.4 232.4h0M309.5 254.8h0M309.6 238.9h0M309.8 238.7h0M309.9 257.9h0M310.0 245.2h0M310.2 252.1h0M310.3 246.7h0M310.4 238.4h0M310.6 257.0h0M310.7 254.1h0M310.8 258.5h0M310.9 256.1h0M311.1 246.2h0M311.2 259.5h0M311.3 245.5h0M311.5 261.1h0M311.6 261.8h0M311.7 243.5h0M311.9 262.9h0M312.0 248.8h0M312.1 266.4h0M312.2 266.0h0M312.4 250.8h0M312.5 245.0h0M312.6 254.5h0M312.8 249.9h0M312.9 267.2h0M313.0 247.7h0M313.2 250.9h0M313.3 254.7h0M313.4 253.5h0M313.5 267.4h0M313.7 264.2h0M313.8 272.2h0M313.9 269.7h0M314.1 262.2h0M314.2 269.4h0M314.3 269.0h0M314.5 260.1h0M314.6 272.7h0M314.7 262.0h0M314.8 276.0h0M315.0 276.7h0M315.1 265.7h0M315.2 264.4h0M315.4 271.2h0M315.5 270.7h0M315.6 280.4h0M315.8 270.6h0M315.9 290.2h0M316.0 294.5h0M316.1 281.6h0M316.3 298.3h0M316.4 281.3h0M316.5 279.6h0M316.7 299.4h0M316.8 277.7h0M316.9 314.0h0M317.1 301.4h0M317.2 289.4h0M317.3 314.7h0M317.4 307.9h0M317.6 313.3h0M317.7 315.1h0M317.8 289.5h0M318.0 287.3h0M318.1 302.3h0M318.2 291.7h0M318.4 302.2h0M318.5 296.6h0M318.6 293.0h0M318.7 301.9h0M318.9 297.6h0M319.0 313.3h0M319.1 306.0h0M319.3 316.6h0M319.4 315.1h0M319.5 301.5h0M319.7 312.1h0M319.8 315.3h0M319.9 304.1h0M320.0 316.9h0M320.2 311.1h0M320.3 314.9h0M320.4 306.8h0M320.6 317.5h0M320.7 313.7h0M320.8 312.3h0M321.0 316.5h0M321.1 318.4h0M321.2 306.7h0M321.3 304.3h0M321.5 314.3h0M321.6 305.8h0M321.7 317.6h0M321.9 313.3h0M322.0 322.4h0M322.1 320.1h0M322.3 306.0h0M322.4 316.3h0M322.5 314.3h0M322.6 320.0h0M322.8 314.0h0M322.9 315.7h0M323.0 306.5h0M323.2 312.2h0M323.3 307.1h0M323.4 318.4h0M323.6 309.7h0M323.7 320.4h0M323.8 314.5h0M323.9 308.3h0M324.1 319.1h0M324.2 320.3h0M324.3 312.5h0M324.5 309.2h0M324.6 316.0h0M324.7 323.1h0M324.9 320.2h0M325.0 317.1h0M325.1 325.1h0M325.2 321.3h0M325.4 325.5h0M325.5 318.5h0M325.6 321.1h0M325.8 326.1h0M325.9 324.6h0M326.0 316.2h0M326.2 324.0h0M326.3 322.4h0M326.4 315.9h0M326.5 321.3h0M326.7 321.5h0M326.8 318.8h0M326.9 326.1h0M327.1 319.7h0M327.2 328.4h0M327.3 324.5h0M327.5 326.4h0M327.6 328.3h0M327.7 329.3h0M327.8 326.2h0M328.0 326.1h0M328.1 329.6h0M328.2 329.9h0M328.4 328.0h0M328.5 322.2h0M328.6 325.0h0M328.8 322.5h0M328.9 333.3h0M329.0 328.0h0M329.1 323.3h0M329.3 328.9h0M329.4 323.9h0M329.5 332.7h0M329.7 328.0h0M329.8 335.7h0M329.9 335.2h0M330.1 324.9h0M330.2 334.9h0M330.3 331.9h0M330.4 324.4h0M330.6 335.1h0M330.7 323.9h0M330.8 321.7h0M331.0 336.1h0M331.1 330.0h0M331.2 320.5h0M331.4 326.0h0M331.5 321.3h0M331.6 330.9h0M331.7 322.2h0M331.9 319.7h0M332.0 327.9h0M332.1 319.7h0M332.3 331.0h0M332.4 324.7h0M332.5 314.4h0M332.7 320.0h0M332.8 314.5h0M332.9 312.5h0M333.0 323.1h0M333.2 316.3h0M333.3 322.1h0M333.4 310.7h0M333.6 309.5h0M333.7 322.4h0M333.8 311.8h0M334.0 305.5h0M334.1 310.6h0M334.2 310.8h0M334.3 324.2h0M334.5 316.1h0M334.6 304.2h0M334.7 310.2h0M334.9 308.7h0M335.0 301.1h0M335.1 314.9h0M335.3 303.2h0M335.4 315.4h0M335.5 297.8h0M335.6 310.8h0M335.8 306.5h0M335.9 300.3h0M336.0 309.8h0M336.2 299.2h0M336.3 293.0h0M336.4 298.0h0M336.6 293.8h0M336.7 305.7h0M336.8 295.5h0M336.9 306.5h0M337.1 305.3h0M337.2 300.8h0M337.3 292.3h0M337.5 303.5h0M337.6 293.8h0M337.7 302.0h0M337.9 301.8h0M338.0 304.5h0M338.1 296.9h0M338.2 295.6h0M338.4 293.1h0M338.5 298.9h0M338.6 292.5h0M338.8 304.0h0M338.9 296.0h0M339.0 293.1h0M339.2 299.3h0M339.3 293.6h0M339.4 303.3h0M339.5 300.3h0M339.7 295.8h0M339.8 301.0h0M339.9 294.1h0M340.1 293.7h0M340.2 296.3h0M340.3 301.5h0M340.5 300.4h0M340.6 298.5h0M340.7 301.7h0M340.8 298.8h0M341.0 296.9h0M341.1 301.1h0M341.2 298.8h0M341.4 298.1h0M341.5 300.0h0M341.6 298.8h0M341.8 300.8h0M341.9 301.0h0M342.0 297.4h0M342.1 302.8h0M342.3 299.7h0M342.4 297.6h0M342.5 298.7h0M342.7 294.7h0M342.8 295.7h0M342.9 300.0h0M343.1 297.2h0M343.2 302.4h0M343.3 295.8h0M343.4 296.6h0M343.6 300.8h0M343.7 297.9h0M343.8 304.9h0M344.0 302.1h0M344.1 299.0h0M344.2 304.7h0M344.4 298.8h0M344.5 298.5h0M344.6 300.6h0M344.7 301.2h0M344.9 298.6h0M345.0 303.2h0M345.1 297.9h0M345.3 302.7h0M345.4 301.8h0M345.5 302.6h0M345.7 303.7h0M345.8 305.5h0M345.9 303.5h0M346.0 300.0h0M346.2 305.7h0M346.3 304.8h0M346.4 303.3h0M346.6 305.7h0M346.7 301.7h0M346.8 307.1h0M347.0 306.0h0M347.1 303.5h0M347.2 301.3h0M347.3 305.2h0M347.5 302.8h0M347.6 306.8h0M347.7 305.5h0M347.9 301.8h0M348.0 307.6h0M348.1 303.3h0M348.3 301.4h0M348.4 302.7h0M348.5 303.2h0M348.6 309.0h0M348.8 303.4h0M348.9 308.4h0M349.0 303.8h0M349.2 301.1h0M349.3 310.3h0M349.4 304.6h0M349.6 301.3h0M349.7 309.6h0M349.8 305.0h0M349.9 309.2h0M350.1 303.4h0M350.2 308.3h0M350.3 307.8h0M350.5 304.0h0M350.6 303.6h0M350.7 307.3h0M350.9 305.6h0M351.0 304.2h0M351.1 306.5h0M351.2 310.6h0M351.4 311.2h0M351.5 305.7h0M351.6 310.9h0M351.8 308.5h0M351.9 305.1h0M352.0 308.1h0M352.2 305.2h0M352.3 310.8h0M352.4 310.7h0M352.5 307.7h0M352.7 304.0h0M352.8 308.8h0M352.9 304.5h0M353.1 312.6h0M353.2 306.7h0M353.3 312.4h0M353.5 308.7h0M353.6 314.4h0M353.7 311.5h0M353.8 312.5h0M354.0 304.1h0M354.1 308.3h0M354.2 306.1h0M354.4 314.3h0M354.5 306.6h0M354.6 315.8h0M354.8 316.6h0M354.9 308.9h0M355.0 308.1h0M355.1 310.5h0M355.3 307.9h0M355.4 308.0h0M355.5 313.6h0M355.7 310.7h0M355.8 318.7h0M355.9 311.0h0M356.1 307.1h0M356.2 317.7h0M356.3 306.4h0M356.4 305.8h0M356.6 315.9h0M356.7 318.3h0M356.8 315.5h0M357.0 310.4h0M357.1 307.8h0M357.2 315.3h0M357.4 310.1h0M357.5 316.4h0M357.6 311.6h0M357.7 326.3h0M357.9 321.5h0M358.0 319.9h0M358.1 325.1h0M358.3 323.2h0M358.4 327.1h0M358.5 326.6h0M358.7 321.8h0M358.8 329.4h0M358.9 319.8h0M359.0 313.1h0M359.2 330.0h0M359.3 322.6h0M359.4 318.6h0M359.6 325.7h0M359.7 320.5h0M359.8 330.4h0M360.0 323.7h0M360.1 337.1h0M360.2 337.1h0M360.3 322.0h0M360.5 318.2h0M360.6 332.7h0M360.7 320.2h0M360.9 339.7h0M361.0 322.7h0M361.1 322.5h0M361.3 337.1h0M361.4 321.2h0M361.5 338.5h0M361.6 334.2h0M361.8 324.2h0M361.9 339.5h0M362.0 332.0h0M362.2 322.5h0M362.3 335.6h0M362.4 321.2h0M362.6 323.3h0M362.7 325.1h0M362.8 341.0h0M362.9 335.4h0M363.1 321.6h0M363.2 339.1h0M363.3 339.2h0M363.5 321.0h0M363.6 339.9h0M363.7 334.2h0M363.9 336.9h0M364.0 335.7h0M364.1 326.4h0M364.2 321.1h0M364.4 323.2h0M364.5 322.1h0M364.6 333.8h0M364.8 326.8h0M364.9 318.7h0M365.0 333.8h0M365.2 325.3h0M365.3 331.6h0M365.4 323.5h0M365.5 332.4h0M365.7 332.2h0M365.8 318.2h0M365.9 318.1h0M366.1 318.1h0M366.2 321.3h0M366.3 325.1h0M366.5 317.0h0M366.6 325.6h0M366.7 325.8h0M366.8 316.2h0M367.0 326.3h0M367.1 319.6h0M367.2 318.8h0M367.4 327.2h0M367.5 324.0h0M367.6 329.8h0M367.8 329.0h0M367.9 332.7h0M368.0 318.9h0M368.1 320.7h0M368.3 320.4h0M368.4 328.2h0M368.5 322.3h0M368.7 335.7h0M368.8 324.4h0M368.9 321.9h0M369.1 333.0h0M369.2 332.6h0M369.3 325.9h0M369.4 335.9h0M369.6 329.4h0M369.7 340.6h0M369.8 329.8h0M370.0 331.2h0M370.1 340.6h0M370.2 332.5h0M370.4 332.4h0M370.5 347.7h0M370.6 331.2h0M370.7 351.9h0M370.9 344.7h0M371.0 352.1h0M371.1 348.9h0M371.3 346.2h0M371.4 354.0h0M371.5 346.1h0M371.7 339.4h0M371.8 360.9h0M371.9 341.9h0M372.0 359.4h0M372.2 357.8h0M372.3 355.0h0M372.4 366.6h0M372.6 354.5h0M372.7 351.1h0M372.8 358.2h0M373.0 355.6h0M373.1 349.6h0M373.2 357.0h0M373.3 350.8h0M373.5 366.4h0M373.6 360.9h0M373.7 355.3h0M373.9 356.4h0M374.0 356.9h0M374.1 369.7h0M374.3 366.4h0M374.4 352.4h0M374.5 370.1h0M374.6 358.7h0M374.8 368.2h0M374.9 368.2h0M375.0 360.4h0M375.2 357.3h0M375.3 360.5h0M375.4 373.3h0M375.6 376.0h0M375.7 360.5h0M375.8 374.4h0M375.9 363.0h0M376.1 359.5h0M376.2 371.2h0M376.3 363.6h0M376.5 360.1h0M376.6 366.3h0M376.7 378.1h0M376.9 376.4h0M377.0 374.9h0M377.1 364.2h0M377.2 373.4h0M377.4 363.4h0M377.5 363.1h0M377.6 376.7h0M377.8 365.5h0M377.9 377.3h0M378.0 366.6h0M378.2 366.7h0M378.3 370.7h0M378.4 365.6h0M378.5 377.6h0M378.7 374.4h0M378.8 377.0h0M378.9 377.4h0M379.1 370.2h0M379.2 374.4h0M379.3 369.8h0M379.5 367.3h0M379.6 376.0h0M379.7 363.9h0M379.8 364.7h0M380.0 371.2h0M380.1 362.7h0M380.2 369.2h0M380.4 362.3h0M380.5 359.5h0M380.6 368.0h0M380.8 364.7h0M380.9 366.1h0M381.0 364.5h0M381.1 356.4h0M381.3 356.0h0M381.4 361.1h0M381.5 357.9h0M381.7 363.7h0M381.8 358.9h0M381.9 364.9h0M382.1 358.4h0M382.2 367.2h0M382.3 364.5h0M382.4 357.1h0M382.6 365.9h0M382.7 363.8h0M382.8 364.8h0M383.0 356.0h0M383.1 363.1h0M383.2 365.7h0M383.4 366.4h0M383.5 358.9h0M383.6 359.0h0M383.7 363.3h0M383.9 361.6h0M384.0 362.2h0M384.1 368.8h0M384.3 363.2h0M384.4 369.9h0M384.5 366.0h0M384.7 367.2h0M384.8 370.1h0M384.9 370.1h0M385.0 368.7h0M385.2 370.9h0M385.3 386.3h0M385.4 382.8h0M385.6 374.2h0M385.7 376.4h0M385.8 387.8h0M386.0 381.8h0M386.1 386.8h0M386.2 388.2h0M386.3 380.8h0M386.5 390.3h0M386.6 387.8h0M386.7 397.5h0M386.9 395.7h0M387.0 399.6h0M387.1 401.4h0M387.3 392.4h0M387.4 392.3h0M387.5 402.7h0M387.6 398.2h0M387.8 401.6h0M387.9 400.5h0M388.0 407.0h0M388.2 405.9h0M388.3 409.8h0M388.4 410.3h0M388.6 407.0h0M388.7 401.0h0M388.8 404.9h0M388.9 398.4h0M389.1 411.3h0M389.2 411.8h0M389.3 403.8h0M389.5 418.0h0M389.6 411.7h0M389.7 417.9h0M389.9 415.8h0M390.0 402.2h0M390.1 416.8h0M390.2 408.1h0M390.4 410.9h0M390.5 413.1h0M390.6 410.2h0M390.8 407.1h0M390.9 417.9h0M391.0 412.3h0M391.2 426.1h0M391.3 420.9h0M391.4 410.9h0M391.5 419.3h0M391.7 410.8h0M391.8 426.5h0M391.9 422.5h0M392.1 413.5h0M392.2 427.8h0M392.3 416.7h0M392.5 427.1h0M392.6 427.7h0M392.7 411.9h0M392.8 409.5h0M393.0 423.4h0M393.1 414.1h0M393.2 428.9h0M393.4 423.8h0M393.5 415.8h0M393.6 429.1h0M393.8 419.2h0M393.9 414.9h0M394.0 427.7h0M394.1 431.4h0M394.3 426.7h0M394.4 418.8h0M394.5 427.8h0M394.7 422.1h0M394.8 415.4h0M394.9 430.7h0M395.1 424.8h0M395.2 415.3h0M395.3 422.3h0M395.4 419.4h0M395.6 427.9h0M395.7 422.3h0M395.8 428.6h0M396.0 427.8h0M396.1 419.2h0M396.2 415.1h0M396.4 423.4h0M396.5 420.7h0M396.6 427.9h0M396.7 422.5h0M396.9 419.1h0M397.0 425.6h0M397.1 422.2h0M397.3 426.4h0M397.4 425.2h0M397.5 420.1h0M397.7 424.5h0M397.8 417.8h0M397.9 417.5h0M398.0 424.6h0M398.2 426.3h0M398.3 425.6h0M398.4 422.5h0M398.6 416.1h0M398.7 419.1h0M398.8 417.5h0M399.0 423.1h0M399.1 419.0h0M399.2 414.9h0M399.3 421.1h0M399.5 415.2h0M399.6 421.2h0M399.7 421.9h0M399.9 422.9h0M400.0 420.9h0M400.1 415.1h0M400.3 422.6h0M400.4 420.2h0M400.5 414.9h0M400.6 422.3h0M400.8 417.4h0M400.9 413.0h0M401.0 416.4h0M401.2 414.6h0M401.3 419.2h0M401.4 418.1h0M401.6 408.4h0M401.7 415.8h0M401.8 411.3h0M401.9 409.2h0M402.1 414.5h0M402.2 413.8h0M402.3 409.4h0M402.5 414.4h0M402.6 412.3h0M402.7 414.1h0M402.9 411.4h0M403.0 416.4h0M403.1 417.1h0M403.2 409.5h0M403.4 417.3h0M403.5 411.3h0M403.6 412.5h0M403.8 417.4h0M403.9 410.2h0M404.0 410.2h0M404.2 416.9h0M404.3 410.6h0M404.4 417.7h0M404.5 412.6h0M404.7 407.8h0M404.8 411.4h0M404.9 408.4h0M405.1 417.0h0M405.2 416.3h0M405.3 408.5h0M405.5 419.9h0M405.6 407.8h0M405.7 408.9h0M405.8 416.1h0M406.0 404.6h0M406.1 404.7h0M406.2 411.9h0M406.4 406.3h0M406.5 415.4h0M406.6 414.9h0M406.8 418.4h0M406.9 415.6h0M407.0 413.4h0M407.1 408.6h0M407.3 410.9h0M407.4 409.4h0M407.5 417.0h0M407.7 408.7h0M407.8 408.5h0M407.9 419.5h0M408.1 409.6h0M408.2 421.2h0M408.3 417.1h0M408.4 420.1h0M408.6 412.1h0M408.7 408.7h0M408.8 407.6h0M409.0 417.2h0M409.1 419.1h0M409.2 417.1h0M409.4 409.7h0M409.5 417.3h0M409.6 411.2h0M409.7 408.6h0M409.9 418.6h0M410.0 415.0h0M410.1 409.6h0M410.3 414.1h0M410.4 409.9h0M410.5 419.1h0M410.7 416.7h0M410.8 410.0h0M410.9 417.7h0M411.0 410.3h0M411.2 416.1h0M411.3 409.7h0M411.4 405.9h0M411.6 404.8h0M411.7 411.2h0M411.8 414.7h0M412.0 412.1h0M412.1 402.6h0M412.2 412.6h0M412.3 403.7h0M412.5 403.5h0M412.6 411.2h0M412.7 402.0h0M412.9 413.4h0M413.0 403.7h0M413.1 402.1h0M413.3 409.6h0M413.4 407.3h0M413.5 397.7h0M413.6 406.6h0M413.8 394.3h0M413.9 405.0h0M414.0 403.1h0M414.2 386.6h0M414.3 385.3h0M414.4 397.9h0M414.6 383.2h0M414.7 396.8h0M414.8 382.0h0M414.9 378.7h0M415.1 383.7h0M415.2 385.5h0M415.3 388.3h0M415.5 383.6h0M415.6 398.0h0M415.7 395.2h0M415.9 382.3h0M416.0 395.5h0M416.1 394.4h0M416.2 383.4h0M416.4 395.4h0M416.5 387.3h0M416.6 398.5h0M416.8 388.4h0M416.9 386.0h0M417.0 393.4h0M417.2 387.5h0M417.3 384.1h0M417.4 395.7h0M417.5 389.4h0M417.7 393.6h0M417.8 389.0h0M417.9 385.1h0M418.1 397.5h0M418.2 394.5h0M418.3 397.2h0M418.5 397.6h0M418.6 389.2h0M418.7 396.9h0M418.8 388.5h0M419.0 396.1h0M419.1 396.6h0M419.2 391.0h0M419.4 387.2h0M419.5 392.7h0M419.6 387.2h0M419.8 397.5h0M419.9 387.2h0M420.0 396.8h0M420.1 394.9h0M420.3 390.0h0M420.4 386.7h0M420.5 391.2h0M420.7 386.4h0M420.8 394.4h0M420.9 390.8h0M421.1 390.0h0M421.2 396.4h0M421.3 392.6h0M421.4 397.5h0M421.6 393.0h0M421.7 390.1h0M421.8 395.4h0M422.0 395.7h0M422.1 402.7h0M422.2 398.4h0M422.4 402.2h0M422.5 391.1h0M422.6 392.1h0M422.7 400.9h0M422.9 395.5h0M423.0 394.4h0M423.1 403.7h0M423.3 402.6h0M423.4 391.4h0M423.5 400.7h0M423.7 397.2h0M423.8 405.1h0M423.9 401.6h0M424.0 395.3h0M424.2 403.8h0M424.3 398.8h0M424.4 401.5h0M424.6 399.6h0M424.7 394.8h0M424.8 392.9h0M425.0 399.7h0M425.1 394.8h0M425.2 401.2h0M425.3 397.8h0M425.5 401.0h0M425.6 401.1h0M425.7 401.7h0M425.9 390.9h0M426.0 395.9h0M426.1 391.2h0M426.3 399.5h0M426.4 392.9h0M426.5 392.5h0M426.6 398.4h0M426.8 392.6h0M426.9 396.1h0M427.0 394.6h0M427.2 393.7h0M427.3 395.8h0M427.4 394.8h0M427.6 398.0h0M427.7 397.7h0M427.8 394.6h0M427.9 397.5h0M428.1 393.9h0M428.2 399.2h0M428.3 399.0h0M428.5 399.2h0M428.6 396.5h0M428.7 394.0h0M428.9 397.5h0M429.0 396.5h0M429.1 393.7h0M429.2 392.6h0M429.4 393.2h0M429.5 393.4h0M429.6 395.0h0M429.8 394.1h0M429.9 393.4h0M430.0 394.2h0M430.2 393.9h0M430.3 394.7h0M430.4 394.3h0M430.5 392.9h0M430.7 395.8h0M430.8 393.9h0M430.9 396.4h0M431.1 393.0h0M431.2 395.7h0M431.3 389.8h0M431.5 392.5h0M431.6 388.4h0M431.7 391.0h0M431.8 387.8h0M432.0 390.9h0M432.1 390.5h0M432.2 392.9h0M432.4 390.7h0M432.5 386.8h0M432.6 385.5h0M432.8 388.7h0M432.9 389.6h0M433.0 394.5h0M433.1 391.5h0M433.3 386.8h0M433.4 390.7h0M433.5 387.9h0M433.7 385.6h0M433.8 393.1h0M433.9 385.2h0M434.1 394.7h0M434.2 385.6h0M434.3 394.7h0M434.4 391.9h0M434.6 385.4h0M434.7 391.1h0M434.8 385.3h0M435.0 391.1h0M435.1 385.6h0M435.2 384.9h0M435.4 389.0h0M435.5 387.9h0M435.6 385.1h0M435.7 381.3h0M435.9 384.6h0M436.0 389.7h0M436.1 386.3h0M436.3 386.0h0M436.4 380.7h0M436.5 388.5h0M436.7 380.1h0M436.8 379.5h0M436.9 380.6h0M437.0 381.4h0M437.2 387.9h0M437.3 385.2h0M437.4 393.8h0M437.6 389.1h0M437.7 393.2h0M437.8 392.2h0M438.0 385.9h0M438.1 382.9h0M438.2 387.2h0M438.3 392.3h0M438.5 391.5h0M438.6 384.6h0M438.7 383.8h0M438.9 391.7h0M439.0 384.7h0M439.1 392.2h0M439.3 387.2h0M439.4 393.8h0M439.5 391.8h0M439.6 391.5h0M439.8 388.2h0M439.9 393.4h0M440.0 388.0h0M440.2 387.4h0M440.3 389.9h0M440.4 388.5h0M440.6 394.0h0M440.7 387.7h0M440.8 387.8h0M440.9 394.0h0M441.1 395.4h0M441.2 395.8h0M441.3 388.9h0M441.5 395.0h0M441.6 389.5h0M441.7 387.0h0M441.9 391.7h0M442.0 391.3h0M442.1 387.6h0M442.2 389.9h0M442.4 389.8h0M442.5 393.2h0M442.6 390.5h0M442.8 389.8h0M442.9 394.8h0M443.0 390.1h0M443.2 395.3h0M443.3 394.9h0M443.4 388.6h0M443.5 389.6h0M443.7 391.3h0M443.8 389.0h0M443.9 396.1h0M444.1 394.2h0M444.2 388.9h0M444.3 394.1h0M444.5 389.1h0M444.6 393.7h0M444.7 391.0h0M444.8 391.1h0M445.0 396.2h0M445.1 391.4h0M445.2 395.3h0M445.4 394.3h0M445.5 390.8h0M445.6 394.3h0M445.8 390.7h0M445.9 395.1h0M446.0 391.7h0M446.1 391.6h0M446.3 395.8h0M446.4 391.2h0M446.5 396.2h0M446.7 395.4h0M446.8 391.7h0M446.9 396.4h0M447.1 393.5h0M447.2 393.1h0M447.3 396.9h0M447.4 394.5h0M447.6 392.9h0M447.7 397.1h0M447.8 394.4h0M448.0 397.3h0M448.1 394.5h0M448.2 397.3h0M448.4 397.5h0M448.5 394.2h0M448.6 397.1h0M448.7 394.3h0M448.9 397.7h0M449.0 396.2h0M449.1 394.4h0M449.3 392.7h0M449.4 396.8h0M449.5 392.6h0M449.7 398.4h0M449.8 396.3h0M449.9 392.5h0M450.0 399.1h0M450.2 394.9h0M450.3 391.6h0M450.4 398.7h0M450.6 393.9h0M450.7 391.2h0M450.8 399.1h0M451.0 392.1h0M451.1 401.3h0M451.2 393.5h0M451.3 394.3h0M451.5 396.5h0M451.6 397.1h0M451.7 400.1h0M451.9 397.1h0M452.0 401.5h0M452.1 400.5h0M452.3 399.0h0M452.4 400.7h0M452.5 399.3h0M452.6 398.5h0M452.8 400.4h0M452.9 400.5h0M453.0 399.2h0M453.2 400.4h0M453.3 401.1h0M453.4 398.4h0M453.6 399.1h0M453.7 398.6h0M453.8 401.3h0M453.9 397.7h0M454.1 403.3h0M454.2 399.4h0M454.3 400.4h0M454.5 402.1h0M454.6 400.7h0M454.7 400.0h0M454.9 404.1h0M455.0 401.0h0M455.1 401.7h0M455.2 405.7h0M455.4 402.8h0M455.5 407.8h0M455.6 403.4h0M455.8 404.3h0M455.9 408.3h0M456.0 406.7h0M456.2 410.4h0M456.3 405.7h0M456.4 406.3h0M456.5 410.4h0M456.7 408.9h0M456.8 406.0h0M456.9 410.2h0M457.1 408.6h0M457.2 411.5h0M457.3 407.0h0M457.5 416.0h0M457.6 410.6h0M457.7 412.8h0M457.8 415.1h0M458.0 416.2h0M458.1 410.0h0M458.2 416.5h0M458.4 413.9h0M458.5 409.1h0M458.6 414.3h0M458.8 416.5h0M458.9 416.1h0M459.0 411.5h0M459.1 415.1h0M459.3 412.4h0M459.4 412.1h0M459.5 413.9h0M459.7 412.8h0M459.8 409.8h0M459.9 411.5h0M460.1 409.7h0M460.2 410.1h0M460.3 412.5h0M460.4 408.5h0M460.6 411.3h0M460.7 408.6h0M460.8 412.9h0M461.0 410.7h0M461.1 410.4h0M461.2 411.0h0M461.4 410.3h0M461.5 408.0h0M461.6 410.0h0M461.7 409.2h0M461.9 409.1h0M462.0 408.5h0M462.1 408.1h0M462.3 407.9h0M462.4 407.4h0M462.5 406.9h0M462.7 407.2h0M462.8 407.3h0M462.9 407.6h0M463.0 407.4h0M463.2 406.1h0M463.3 408.0h0M463.4 406.3h0M463.6 406.2h0M463.7 408.0h0M463.8 406.6h0M464.0 408.8h0M464.1 406.0h0M464.2 405.5h0M464.3 409.0h0M464.5 406.5h0M464.6 407.2h0M464.7 405.6h0M464.9 402.9h0M465.0 402.8h0M465.1 405.8h0M465.3 404.2h0M465.4 405.0h0M465.5 405.0h0M465.6 405.4h0M465.8 405.8h0M465.9 406.0h0M466.0 406.0h0M466.2 405.8h0M466.3 405.5h0M466.4 404.9h0M466.6 404.2h0M466.7 403.5h0M466.8 403.1h0M466.9 401.9h0M467.1 404.2h0M467.2 400.9h0M467.3 403.9h0M467.5 402.5h0M467.6 401.1h0M467.7 403.5h0M467.9 402.0h0M468.0 404.0h0M468.1 405.2h0M468.2 404.7h0M468.4 407.1h0M468.5 406.3h0M468.6 403.9h0M468.8 410.3h0M468.9 407.2h0M469.0 405.8h0M469.2 414.9h0M469.3 411.5h0M469.4 416.8h0M469.5 410.6h0M469.7 421.1h0M469.8 415.8h0M469.9 416.6h0M470.1 410.1h0M470.2 418.1h0M470.3 412.3h0M470.5 417.8h0M470.6 411.0h0M470.7 421.7h0M470.8 414.4h0M471.0 414.0h0M471.1 410.0h0M471.2 412.9h0M471.4 410.4h0M471.5 420.6h0M471.6 417.6h0M471.8 409.9h0M471.9 417.3h0M472.0 412.7h0M472.1 418.6h0M472.3 416.8h0M472.4 413.6h0M472.5 416.6h0M472.7 415.9h0M472.8 412.7h0M472.9 415.9h0M473.1 414.5h0M473.2 411.5h0M473.3 413.3h0M473.4 418.4h0M473.6 416.8h0M473.7 412.0h0M473.8 417.2h0M474.0 412.9h0M474.1 413.3h0M474.2 415.6h0M474.4 412.3h0M474.5 412.7h0M474.6 414.8h0M474.7 415.8h0M474.9 416.3h0M475.0 416.8h0M475.1 417.4h0M475.3 416.7h0M475.4 414.8h0M475.5 412.3h0M475.7 414.4h0M475.8 413.0h0M475.9 414.3h0M476.0 414.7h0M476.2 416.0h0M476.3 414.8h0M476.4 417.4h0M476.6 414.4h0M476.7 417.3h0M476.8 415.0h0M477.0 416.7h0M477.1 416.6h0M477.2 414.9h0M477.3 416.3h0M477.5 418.1h0M477.6 416.8h0M477.7 416.6h0M477.9 414.6h0M478.0 416.4h0M478.1 415.5h0M478.3 414.8h0M478.4 418.3h0M478.5 416.4h0M478.6 418.8h0M478.8 416.7h0M478.9 418.5h0M479.0 419.4h0M479.2 417.0h0M479.3 419.3h0M479.4 417.1h0M479.6 416.7h0M479.7 419.4h0M479.8 416.2h0M479.9 419.3h0M480.1 418.9h0M480.2 417.8h0M480.3 418.9h0M480.5 419.0h0M480.6 417.1h0M480.7 418.5h0M480.9 415.9h0M481.0 420.4h0M481.1 419.0h0M481.2 416.5h0M481.4 418.4h0M481.5 418.6h0M481.6 420.6h0M481.8 420.2h0M481.9 417.2h0M482.0 422.3h0M482.2 417.8h0M482.3 418.3h0M482.4 422.2h0M482.5 416.7h0M482.7 423.3h0M482.8 418.9h0M482.9 416.6h0M483.1 421.0h0M483.2 416.8h0M483.3 420.5h0M483.5 421.0h0M483.6 417.9h0M483.7 420.6h0M483.8 420.8h0M484.0 418.0h0M484.1 416.7h0M484.2 418.5h0M484.4 421.4h0M484.5 420.7h0M484.6 417.6h0M484.8 421.4h0M484.9 417.8h0M485.0 421.9h0M485.1 422.1h0M485.3 418.1h0M485.4 420.9h0M485.5 418.3h0M485.7 416.9h0M485.8 419.4h0M485.9 417.9h0M486.1 417.6h0M486.2 418.1h0M486.3 417.1h0M486.4 420.3h0M486.6 417.6h0M486.7 416.8h0M486.8 418.7h0M487.0 416.7h0M487.1 415.8h0M487.2 418.0h0M487.4 420.6h0M487.5 420.4h0M487.6 418.6h0M487.7 420.7h0M487.9 417.5h0M488.0 416.7h0M488.1 419.0h0M488.3 417.3h0M488.4 419.7h0M488.5 419.7h0M488.7 416.9h0M488.8 413.5h0M488.9 415.2h0M489.0 413.2h0M489.2 417.2h0M489.3 410.3h0M489.4 408.0h0M489.6 411.5h0M489.7 409.5h0M489.8 412.2h0M490.0 407.9h0M490.1 407.8h0M490.2 411.5h0M490.3 406.0h0M490.5 402.5h0M490.6 408.9h0M490.7 402.0h0M490.9 400.8h0M491.0 405.9h0M491.1 399.9h0M491.3 406.4h0M491.4 400.2h0M491.5 404.7h0M491.6 403.8h0M491.8 405.6h0M491.9 404.0h0M492.0 396.9h0M492.2 392.8h0M492.3 402.8h0M492.4 394.1h0M492.6 391.6h0M492.7 393.0h0M492.8 390.7h0M492.9 395.4h0M493.1 390.6h0M493.2 387.7h0M493.3 393.3h0M493.5 389.9h0M493.6 396.8h0M493.7 388.0h0M493.9 383.3h0M494.0 394.3h0M494.1 388.4h0M494.2 391.1h0M494.4 389.4h0M494.5 380.4h0M494.6 386.1h0M494.8 384.6h0M494.9 379.8h0M495.0 382.7h0M495.2 377.9h0M495.3 386.0h0M495.4 380.9h0M495.5 374.9h0M495.7 384.6h0M495.8 377.8h0M495.9 382.3h0M496.1 376.4h0M496.2 377.0h0M496.3 368.3h0M496.5 375.8h0M496.6 369.4h0M496.7 375.1h0M496.8 372.9h0M497.0 369.6h0M497.1 378.5h0M497.2 371.1h0M497.4 379.3h0M497.5 374.5h0M497.6 368.3h0M497.8 375.1h0M497.9 370.3h0M498.0 384.6h0M498.1 376.7h0M498.3 386.6h0M498.4 379.7h0M498.5 370.2h0M498.7 384.3h0M498.8 373.4h0M498.9 372.0h0M499.1 379.2h0M499.2 379.4h0M499.3 373.2h0M499.4 374.6h0M499.6 368.5h0M499.7 384.9h0M499.8 382.9h0M500.0 372.6h0M500.1 380.9h0M500.2 373.2h0M500.4 373.1h0M500.5 375.6h0M500.6 376.2h0M500.7 381.1h0M500.9 384.1h0M501.0 373.3h0M501.1 381.4h0M501.3 377.7h0M501.4 375.6h0M501.5 379.7h0M501.7 377.8h0M501.8 389.4h0M501.9 379.5h0M502.0 388.1h0M502.2 389.7h0M502.3 385.5h0M502.4 378.4h0M502.6 385.7h0M502.7 378.6h0M502.8 385.4h0M503.0 387.1h0M503.1 380.6h0M503.2 382.6h0M503.3 391.3h0M503.5 391.0h0M503.6 384.6h0M503.7 390.3h0M503.9 386.3h0M504.0 385.6h0M504.1 381.8h0M504.3 387.7h0M504.4 383.7h0M504.5 389.5h0M504.6 383.6h0M504.8 390.8h0M504.9 390.3h0M505.0 385.3h0M505.2 390.0h0M505.3 389.7h0M505.4 386.4h0M505.6 389.5h0M505.7 387.4h0M505.8 393.1h0M505.9 391.8h0M506.1 385.0h0M506.2 391.1h0M506.3 384.9h0M506.5 385.4h0M506.6 391.4h0M506.7 384.4h0M506.9 393.9h0M507.0 388.9h0M507.1 383.9h0M507.2 389.3h0M507.4 386.8h0M507.5 383.4h0M507.6 385.8h0M507.8 392.0h0M507.9 392.0h0M508.0 389.9h0M508.2 385.9h0M508.3 391.1h0M508.4 386.6h0M508.5 392.7h0M508.7 386.8h0M508.8 393.1h0M508.9 389.7h0M509.1 390.4h0M509.2 393.0h0M509.3 387.7h0M509.5 388.1h0M509.6 393.3h0M509.7 385.9h0M509.8 386.0h0M510.0 389.6h0M510.1 383.0h0M510.2 389.2h0M510.4 388.6h0M510.5 385.3h0M510.6 391.1h0M510.8 385.2h0M510.9 390.2h0M511.0 389.3h0M511.1 383.5h0M511.3 388.3h0M511.4 382.9h0M511.5 381.8h0M511.7 385.4h0M511.8 379.5h0M511.9 378.8h0M512.1 385.8h0M512.2 383.3h0M512.3 388.8h0M512.4 379.3h0M512.6 388.0h0M512.7 387.5h0M512.8 382.5h0M513.0 387.3h0M513.1 385.9h0M513.2 376.6h0M513.4 382.7h0M513.5 379.3h0M513.6 386.8h0M513.7 382.6h0M513.9 379.6h0M514.0 374.9h0M514.1 377.6h0M514.3 374.0h0M514.4 385.1h0M514.5 373.9h0M514.7 386.1h0M514.8 384.0h0M514.9 374.4h0M515.0 382.3h0M515.2 374.1h0M515.3 385.3h0M515.4 381.8h0M515.6 372.7h0M515.7 383.3h0M515.8 380.4h0M516.0 370.1h0M516.1 380.1h0M516.2 370.1h0M516.3 381.4h0M516.5 374.6h0M516.6 383.6h0M516.7 368.1h0M516.9 371.0h0M517.0 382.0h0M517.1 378.5h0M517.3 375.8h0M517.4 368.6h0M517.5 376.5h0M517.6 380.6h0M517.8 378.1h0M517.9 370.1h0M518.0 367.2h0M518.2 373.6h0M518.3 369.4h0M518.4 379.7h0M518.6 378.1h0M518.7 366.8h0M518.8 372.8h0M518.9 366.1h0M519.1 365.7h0M519.2 374.0h0M519.3 366.8h0M519.5 376.6h0M519.6 374.5h0M519.7 363.8h0M519.9 368.9h0M520.0 364.4h0M520.1 373.1h0M520.2 367.5h0M520.4 363.4h0M520.5 375.8h0M520.6 371.5h0M520.8 374.0h0M520.9 372.6h0M521.0 364.3h0M521.2 373.1h0M521.3 359.6h0M521.4 374.7h0M521.5 369.8h0M521.7 362.9h0M521.8 372.2h0M521.9 365.7h0M522.1 353.9h0M522.2 354.5h0M522.3 363.9h0M522.5 371.9h0M522.6 363.6h0M522.7 356.7h0M522.8 365.8h0M523.0 355.9h0M523.1 345.5h0M523.2 365.7h0M523.4 352.6h0M523.5 342.9h0M523.6 345.1h0M523.8 340.7h0M523.9 357.5h0M524.0 341.0h0M524.1 334.7h0M524.3 350.5h0M524.4 338.6h0M524.5 345.8h0M524.7 342.8h0M524.8 333.4h0M524.9 333.2h0M525.1 331.8h0M525.2 323.5h0M525.3 339.6h0M525.4 340.6h0M525.6 322.0h0M525.7 324.4h0M525.8 327.3h0M526.0 332.8h0M526.1 322.8h0M526.2 332.5h0M526.4 325.7h0M526.5 322.9h0M526.6 334.0h0M526.7 330.5h0M526.9 319.8h0M527.0 325.7h0M527.1 325.0h0M527.3 329.5h0M527.4 321.2h0M527.5 318.0h0M527.7 327.1h0M527.8 319.1h0M527.9 328.2h0M528.0 323.6h0M528.2 317.8h0M528.3 327.3h0M528.4 321.6h0M528.6 316.3h0M528.7 320.5h0M528.8 319.7h0M529.0 325.9h0M529.1 324.5h0M529.2 319.4h0M529.3 325.6h0M529.5 319.9h0M529.6 325.2h0M529.7 324.2h0M529.9 316.0h0M530.0 319.8h0M530.1 316.0h0M530.3 311.8h0M530.4 322.9h0M530.5 316.3h0M530.6 322.8h0M530.8 317.3h0M530.9 317.5h0M531.0 319.7h0M531.2 315.8h0M531.3 324.3h0M531.4 320.1h0M531.6 316.0h0M531.7 320.8h0M531.8 315.9h0M531.9 314.2h0M532.1 319.9h0M532.2 320.6h0M532.3 311.2h0M532.5 320.8h0M532.6 318.4h0M532.7 311.1h0M532.9 323.2h0M533.0 326.7h0M533.1 317.5h0M533.2 315.9h0M533.4 323.0h0M533.5 325.9h0M533.6 317.1h0M533.8 325.4h0M533.9 323.5h0M534.0 327.4h0M534.2 326.7h0M534.3 313.1h0M534.4 309.7h0M534.5 317.6h0M534.7 311.6h0M534.8 327.8h0M534.9 309.7h0M535.1 311.4h0M535.2 327.5h0M535.3 313.9h0M535.5 324.3h0M535.6 306.8h0M535.7 302.3h0M535.8 318.7h0M536.0 297.9h0M536.1 296.3h0M536.2 319.0h0M536.4 297.8h0M536.5 310.6h0M536.6 293.9h0M536.8 313.1h0M536.9 312.8h0M537.0 290.9h0M537.1 313.2h0M537.3 300.5h0M537.4 292.4h0M537.5 308.8h0M537.7 291.6h0M537.8 303.7h0M537.9 301.2h0M538.1 293.4h0M538.2 295.0h0M538.3 295.8h0M538.4 302.5h0M538.6 301.9h0M538.7 286.7h0M538.8 298.9h0M539.0 282.2h0M539.1 279.6h0M539.2 285.1h0M539.4 278.6h0M539.5 293.9h0M539.6 289.8h0M539.7 282.7h0M539.9 275.1h0M540.0 282.3h0M540.1 274.4h0M540.3 291.8h0M540.4 274.3h0M540.5 289.6h0M540.7 288.3h0M540.8 281.2h0M540.9 295.1h0M541.0 280.7h0M541.2 294.3h0M541.3 293.1h0M541.4 275.2h0M541.6 270.9h0M541.7 273.5h0M541.8 272.7h0M542.0 283.6h0M542.1 276.0h0M542.2 290.1h0M542.3 273.2h0M542.5 279.3h0M542.6 266.9h0M542.7 285.2h0M542.9 265.8h0M543.0 273.1h0M543.1 269.9h0M543.3 291.4h0M543.4 270.9h0M543.5 268.8h0M543.6 292.4h0M543.8 281.0h0M543.9 292.9h0M544.0 283.7h0M544.2 273.7h0M544.3 290.6h0M544.4 276.3h0M544.6 271.0h0M544.7 286.5h0M544.8 287.0h0M544.9 288.6h0M545.1 283.3h0M545.2 293.3h0M545.3 291.4h0M545.5 277.2h0M545.6 276.5h0M545.7 289.5h0M545.9 282.7h0M546.0 277.9h0M546.1 288.2h0M546.2 293.6h0M546.4 292.1h0M546.5 282.0h0M546.6 293.6h0M546.8 285.8h0M546.9 286.6h0M547.0 293.1h0M547.2 289.7h0M547.3 285.1h0M547.4 292.7h0M547.5 287.4h0M547.7 294.0h0M547.8 294.1h0M547.9 284.6h0M548.1 283.4h0M548.2 284.9h0M548.3 295.0h0M548.5 294.9h0M548.6 291.9h0M548.7 294.4h0M548.8 293.1h0M549.0 298.9h0M549.1 291.7h0M549.2 286.9h0M549.4 298.7h0M549.5 297.4h0M549.6 287.7h0M549.8 295.8h0M549.9 296.6h0M550.0 288.8h0M550.1 297.0h0M550.3 287.9h0M550.4 296.9h0M550.5 295.8h0M550.7 288.2h0M550.8 297.8h0M550.9 296.6h0M551.1 290.0h0M551.2 293.4h0M551.3 296.0h0M551.4 297.7h0M551.6 294.3h0M551.7 299.8h0M551.8 295.2h0M552.0 297.8h0M552.1 291.2h0M552.2 300.2h0M552.4 294.7h0M552.5 300.8h0M552.6 294.2h0M552.7 292.5h0M552.9 300.6h0M553.0 298.2h0M553.1 299.3h0M553.3 295.2h0M553.4 292.8h0M553.5 298.7h0M553.7 298.7h0M553.8 292.8h0M553.9 297.5h0M554.0 303.3h0M554.2 293.2h0M554.3 300.1h0M554.4 302.1h0M554.6 299.3h0M554.7 296.1h0M554.8 302.7h0M555.0 295.1h0M555.1 305.4h0M555.2 292.1h0M555.3 295.3h0M555.5 304.9h0M555.6 304.5h0M555.7 293.7h0M555.9 302.5h0M556.0 295.9h0M556.1 305.8h0M556.3 300.5h0M556.4 296.5h0M556.5 303.3h0M556.6 298.0h0M556.8 297.1h0M556.9 300.5h0M557.0 302.5h0M557.2 293.3h0M557.3 303.2h0M557.4 295.6h0M557.6 306.6h0M557.7 304.6h0M557.8 306.6h0M557.9 289.8h0M558.1 300.4h0M558.2 303.0h0M558.3 306.0h0M558.5 294.0h0M558.6 306.8h0M558.7 292.1h0M558.9 292.0h0M559.0 297.3h0M559.1 292.1h0M559.2 302.4h0M559.4 300.6h0M559.5 291.5h0M559.6 289.3h0M559.8 297.1h0M559.9 290.8h0M560.0 298.0h0M560.2 298.2h0M560.3 305.7h0M560.4 292.8h0M560.5 287.8h0M560.7 304.2h0M560.8 300.5h0M560.9 308.6h0M561.1 292.9h0M561.2 291.5h0M561.3 302.5h0M561.5 303.9h0M561.6 286.5h0M561.7 306.7h0M561.8 288.4h0M562.0 285.3h0M562.1 291.3h0M562.2 292.4h0M562.4 299.6h0M562.5 294.2h0M562.6 305.8h0M562.8 295.4h0M562.9 292.1h0M563.0 304.9h0M563.1 301.9h0M563.3 308.5h0M563.4 300.3h0M563.5 287.9h0M563.7 291.1h0M563.8 299.6h0M563.9 294.8h0M564.1 286.5h0M564.2 292.0h0M564.3 292.4h0M564.4 306.9h0M564.6 289.0h0M564.7 308.3h0M564.8 296.6h0M565.0 312.6h0M565.1 311.0h0M565.2 303.8h0M565.4 311.4h0M565.5 297.3h0M565.6 296.3h0M565.7 309.0h0M565.9 299.0h0M566.0 294.0h0M566.1 307.6h0M566.3 292.9h0M566.4 313.1h0M566.5 308.5h0M566.7 297.2h0M566.8 311.3h0M566.9 297.5h0M567.0 296.0h0M567.2 307.0h0M567.3 294.7h0M567.4 293.8h0M567.6 309.6h0M567.7 297.9h0M567.8 307.7h0M568.0 299.5h0M568.1 311.6h0M568.2 309.7h0M568.3 304.0h0M568.5 310.1h0M568.6 302.0h0M568.7 302.8h0M568.9 315.0h0M569.0 297.1h0M569.1 319.4h0M569.3 302.9h0M569.4 300.4h0M569.5 319.0h0M569.6 309.2h0M569.8 315.3h0M569.9 305.5h0M570.0 307.8h0M570.2 310.1h0M570.3 310.2h0M570.4 315.5h0M570.6 310.3h0M570.7 299.5h0M570.8 302.0h0M570.9 313.6h0M571.1 315.3h0M571.2 300.0h0M571.3 303.5h0M571.5 301.2h0M571.6 313.6h0M571.7 303.3h0M571.9 314.3h0M572.0 311.3h0M572.1 300.1h0M572.2 300.4h0M572.4 310.8h0M572.5 303.7h0M572.6 311.8h0M572.8 301.4h0M572.9 299.9h0M573.0 310.1h0M573.2 299.7h0M573.3 306.9h0M573.4 302.0h0M573.5 310.3h0M573.7 308.3h0M573.8 311.2h0M573.9 310.4h0M574.1 304.5h0M574.2 298.9h0M574.3 309.4h0M574.5 299.2h0M574.6 298.7h0M574.7 303.4h0M574.8 298.8h0M575.0 306.3h0M575.1 297.5h0M575.2 306.9h0M575.4 307.5h0M575.5 300.8h0M575.6 304.0h0M575.8 299.5h0M575.9 297.9h0M576.0 308.0h0M576.1 295.2h0M576.3 305.1h0M576.4 302.5h0M576.5 307.5h0M576.7 303.7h0M576.8 294.7h0M576.9 305.0h0M577.1 302.1h0M577.2 294.2h0M577.3 307.2h0M577.4 301.4h0M577.6 307.1h0M577.7 306.1h0M577.8 297.6h0M578.0 306.6h0M578.1 298.4h0M578.2 296.1h0M578.4 302.2h0M578.5 298.2h0M578.6 297.0h0M578.7 298.2h0M578.9 296.1h0M579.0 294.0h0M579.1 298.4h0M579.3 297.6h0M579.4 302.7h0M579.5 298.0h0M579.7 295.2h0M579.8 301.8h0M579.9 298.1h0M580.0 295.5h0M580.2 301.9h0M580.3 295.8h0M580.4 303.9h0M580.6 298.2h0M580.7 296.1h0M580.8 301.2h0M581.0 297.6h0M581.1 302.6h0M581.2 297.1h0M581.3 303.3h0M581.5 299.4h0M581.6 294.8h0M581.7 304.6h0M581.9 296.1h0M582.0 304.7h0M582.1 304.0h0M582.3 299.9h0M582.4 302.4h0M582.5 299.5h0M582.6 303.0h0M582.8 299.5h0M582.9 294.5h0M583.0 302.9h0M583.2 301.9h0M583.3 294.9h0M583.4 293.6h0M583.6 300.9h0M583.7 297.5h0M583.8 303.1h0M583.9 296.2h0M584.1 294.6h0M584.2 299.9h0M584.3 295.5h0M584.5 304.8h0M584.6 297.1h0M584.7 297.4h0M584.9 301.8h0M585.0 296.0h0M585.1 296.7h0M585.2 302.2h0M585.4 295.8h0M585.5 305.7h0M585.6 301.9h0M585.8 304.6h0M585.9 301.0h0M586.0 299.0h0M586.2 300.5h0M586.3 300.0h0M586.4 292.4h0M586.5 300.0h0M586.7 295.9h0M586.8 300.8h0M586.9 300.6h0M587.1 295.8h0M587.2 298.4h0M587.3 295.1h0M587.5 293.6h0M587.6 298.3h0M587.7 295.8h0M587.8 294.3h0M588.0 297.8h0M588.1 295.5h0M588.2 300.0h0M588.4 296.4h0M588.5 293.9h0M588.6 300.1h0M588.8 297.7h0M588.9 293.7h0M589.0 300.0h0M589.1 301.8h0M589.3 299.9h0M589.4 298.5h0M589.5 299.9h0M589.7 295.1h0M589.8 292.4h0M589.9 298.3h0M590.1 293.1h0M590.2 291.9h0M590.3 300.0h0M590.4 292.3h0M590.6 297.7h0M590.7 292.7h0M590.8 299.1h0M591.0 290.4h0M591.1 294.4h0M591.2 297.1h0M591.4 294.6h0M591.5 291.6h0M591.6 291.3h0M591.7 295.6h0M591.9 292.3h0M592.0 298.3h0M592.1 294.4h0M592.3 294.0h0M592.4 297.4h0M592.5 299.0h0M592.7 298.8h0M592.8 297.7h0M592.9 294.7h0M593.0 298.1h0M593.2 294.8h0M593.3 297.2h0M593.4 297.8h0M593.6 292.7h0M593.7 298.2h0M593.8 293.6h0M594.0 292.1h0M594.1 295.2h0M594.2 300.5h0M594.3 298.2h0M594.5 294.0h0M594.6 292.7h0M594.7 296.5h0M594.9 295.9h0M595.0 299.6h0M595.1 293.4h0M595.3 289.7h0M595.4 293.3h0M595.5 292.8h0M595.6 295.9h0M595.8 292.3h0M595.9 290.1h0M596.0 290.9h0M596.2 291.8h0M596.3 291.6h0M596.4 296.3h0M596.6 294.1h0M596.7 291.8h0M596.8 296.3h0M596.9 290.6h0M597.1 297.3h0M597.2 292.0h0M597.3 296.0h0M597.5 296.8h0M597.6 292.4h0M597.7 295.8h0M597.9 296.0h0M598.0 298.5h0M598.1 294.5h0M598.2 290.6h0M598.4 296.5h0M598.5 296.8h0M598.6 298.1h0M598.8 290.7h0M598.9 295.7h0M599.0 295.7h0M599.2 294.6h0M599.3 291.0h0M599.4 294.7h0M599.5 293.9h0M599.7 292.5h0M599.8 294.2h0M599.9 291.7h0M600.1 295.7h0M600.2 296.1h0M600.3 292.6h0M600.5 296.2h0M600.6 292.3h0M600.7 290.3h0M600.8 294.9h0M601.0 290.9h0M601.1 291.4h0M601.2 292.4h0M601.4 292.0h0M601.5 295.6h0M601.6 291.9h0M601.8 291.5h0M601.9 294.4h0M602.0 291.8h0M602.1 296.0h0M602.3 294.8h0M602.4 292.1h0M602.5 295.2h0M602.7 295.0h0M602.8 297.5h0M602.9 293.4h0M603.1 292.8h0M603.2 296.5h0M603.3 295.5h0M603.4 291.8h0M603.6 297.1h0M603.7 291.4h0M603.8 296.7h0M604.0 292.3h0M604.1 296.8h0M604.2 290.1h0M604.4 290.5h0M604.5 295.4h0M604.6 295.9h0M604.7 296.5h0M604.9 294.6h0M605.0 292.9h0M605.1 296.8h0M605.3 295.5h0M605.4 292.0h0M605.5 297.2h0M605.7 296.8h0M605.8 292.3h0M605.9 295.4h0M606.0 293.2h0M606.2 292.5h0M606.3 297.5h0M606.4 294.6h0M606.6 297.6h0M606.7 297.5h0M606.8 294.8h0M607.0 295.5h0M607.1 296.2h0M607.2 291.1h0M607.3 296.9h0M607.5 291.0h0M607.6 291.1h0M607.7 294.8h0M607.9 300.1h0M608.0 298.3h0M608.1 296.6h0M608.3 299.5h0M608.4 294.6h0M608.5 293.6h0M608.6 299.2h0M608.8 293.4h0M608.9 298.9h0M609.0 295.5h0M609.2 296.1h0M609.3 299.7h0M609.4 298.3h0M609.6 292.6h0M609.7 292.0h0M609.8 293.1h0M609.9 300.4h0M610.1 299.8h0M610.2 293.9h0M610.3 299.5h0M610.5 296.7h0M610.6 301.4h0M610.7 300.5h0M610.9 294.1h0M611.0 293.8h0M611.1 300.1h0M611.2 300.5h0M611.4 299.2h0M611.5 297.5h0M611.6 294.6h0M611.8 299.9h0M611.9 296.8h0M612.0 292.6h0M612.2 295.1h0M612.3 293.6h0M612.4 299.7h0M612.5 293.0h0M612.7 300.3h0M612.8 296.3h0M612.9 294.6h0M613.1 297.8h0M613.2 295.2h0M613.3 293.3h0M613.5 300.3h0M613.6 297.2h0M613.7 301.0h0M613.8 301.4h0M614.0 302.2h0M614.1 298.4h0M614.2 299.6h0M614.4 302.9h0M614.5 297.0h0M614.6 304.0h0M614.8 301.0h0M614.9 298.1h0M615.0 295.9h0M615.1 302.1h0M615.3 300.6h0M615.4 304.4h0M615.5 302.6h0M615.7 298.5h0M615.8 296.0h0M615.9 297.7h0M616.1 305.3h0M616.2 303.4h0M616.3 301.7h0M616.4 297.1h0M616.6 303.6h0M616.7 297.8h0M616.8 307.0h0M617.0 299.7h0M617.1 305.9h0M617.2 301.1h0M617.4 297.8h0M617.5 305.3h0M617.6 303.2h0M617.7 297.9h0M617.9 308.0h0M618.0 300.3h0M618.1 307.3h0M618.3 304.4h0M618.4 302.3h0M618.5 311.1h0M618.7 303.6h0M618.8 299.9h0M618.9 306.3h0M619.0 303.5h0M619.2 302.8h0M619.3 311.3h0M619.4 302.5h0M619.6 310.3h0M619.7 306.4h0M619.8 304.3h0M620.0 306.4h0M620.1 306.1h0M620.2 304.8h0M620.3 306.1h0M620.5 306.6h0M620.6 313.0h0M620.7 310.7h0M620.9 305.7h0M621.0 309.8h0M621.1 308.3h0M621.3 303.8h0M621.4 310.1h0M621.5 313.6h0M621.6 315.3h0M621.8 308.5h0M621.9 305.1h0M622.0 308.0h0M622.2 305.3h0M622.3 317.0h0M622.4 314.9h0M622.6 315.9h0M622.7 312.8h0M622.8 309.1h0M622.9 316.4h0M623.1 310.4h0M623.2 317.7h0M623.3 312.2h0M623.5 307.9h0M623.6 318.1h0M623.7 315.2h0M623.9 320.4h0M624.0 319.0h0M624.1 309.0h0M624.2 324.5h0M624.4 322.5h0M624.5 325.1h0M624.6 326.2h0M624.8 319.3h0M624.9 326.0h0M625.0 325.7h0M625.2 315.0h0M625.3 326.0h0M625.4 313.6h0M625.5 315.2h0M625.7 323.9h0M625.8 314.3h0M625.9 312.8h0M626.1 325.1h0M626.2 314.6h0M626.3 323.7h0M626.5 321.4h0M626.6 329.0h0M626.7 324.9h0M626.8 324.3h0M627.0 314.1h0M627.1 327.2h0M627.2 317.5h0M627.4 326.4h0M627.5 325.0h0M627.6 316.9h0M627.8 328.1h0M627.9 318.2h0M628.0 317.2h0M628.1 320.2h0M628.3 316.2h0M628.4 329.9h0M628.5 321.2h0M628.7 327.0h0M628.8 326.9h0M628.9 322.1h0M629.1 317.8h0M629.2 324.4h0M629.3 329.3h0M629.4 328.6h0M629.6 319.2h0M629.7 320.4h0M629.8 321.5h0M630.0 321.9h0M630.1 332.5h0M630.2 326.7h0M630.4 334.6h0M630.5 331.8h0M630.6 322.2h0M630.7 336.6h0M630.9 323.0h0M631.0 322.7h0M631.1 334.7h0M631.3 321.4h0M631.4 321.0h0M631.5 330.5h0M631.7 327.2h0M631.8 332.1h0M631.9 325.0h0M632.0 333.4h0M632.2 332.8h0M632.3 328.1h0M632.4 324.4h0M632.6 330.3h0M632.7 324.8h0M632.8 335.2h0M633.0 332.8h0M633.1 335.8h0M633.2 335.7h0M633.3 328.8h0M633.5 336.7h0M633.6 329.9h0M633.7 327.8h0M633.9 337.5h0M634.0 327.3h0M634.1 327.4h0M634.3 333.4h0M634.4 330.7h0M634.5 338.0h0M634.6 336.6h0M634.8 327.7h0M634.9 336.7h0M635.0 331.7h0M635.2 328.5h0M635.3 335.5h0M635.4 331.7h0M635.6 328.1h0M635.7 330.4h0M635.8 338.3h0M635.9 333.5h0M636.1 333.1h0M636.2 340.1h0M636.3 331.5h0M636.5 330.4h0M636.6 337.4h0M636.7 332.8h0M636.9 331.8h0M637.0 338.5h0M637.1 331.6h0M637.2 339.0h0M637.4 334.1h0M637.5 340.4h0M637.6 335.7h0M637.8 333.8h0M637.9 341.1h0M638.0 336.4h0M638.2 341.3h0M638.3 341.9h0M638.4 332.7h0M638.5 339.4h0M638.7 334.7h0M638.8 336.4h0M638.9 341.5h0M639.1 338.9h0M639.2 335.4h0M639.3 340.4h0M639.5 336.3h0M639.6 333.9h0M639.7 336.0h0M639.8 340.0h0M640.0 332.2h0M640.1 337.7h0M640.2 338.0h0M640.4 333.8h0M640.5 332.7h0M640.6 337.8h0M640.8 336.8h0M640.9 330.6h0M641.0 338.9h0M641.1 330.2h0M641.3 338.0h0M641.4 330.2h0M641.5 329.0h0M641.7 336.7h0M641.8 330.3h0M641.9 329.1h0M642.1 333.6h0M642.2 332.1h0M642.3 332.7h0M642.4 329.5h0M642.6 327.2h0M642.7 331.0h0M642.8 330.3h0M643.0 327.3h0M643.1 327.7h0M643.2 325.5h0M643.4 331.2h0M643.5 327.7h0M643.6 335.1h0M643.7 334.7h0M643.9 322.6h0M644.0 322.1h0M644.1 331.5h0M644.3 320.4h0M644.4 328.9h0M644.5 327.0h0M644.7 321.1h0M644.8 324.6h0M644.9 330.6h0M645.0 326.2h0M645.2 325.5h0M645.3 318.2h0M645.4 322.3h0M645.6 324.3h0M645.7 327.7h0M645.8 325.8h0M646.0 318.6h0M646.1 314.6h0M646.2 320.9h0M646.3 326.0h0M646.5 318.8h0M646.6 314.7h0M646.7 324.1h0M646.9 313.2h0M647.0 324.6h0M647.1 315.2h0M647.3 310.9h0M647.4 306.6h0M647.5 318.1h0M647.6 320.9h0M647.8 319.0h0M647.9 313.2h0M648.0 319.1h0M648.2 319.5h0M648.3 313.1h0M648.4 303.6h0M648.6 317.2h0M648.7 320.6h0M648.8 316.9h0M648.9 312.6h0M649.1 305.4h0M649.2 315.2h0M649.3 307.2h0M649.5 314.4h0M649.6 315.0h0M649.7 318.7h0M649.9 317.0h0M650.0 313.7h0M650.1 316.0h0M650.2 311.5h0M650.4 311.3h0M650.5 317.0h0M650.6 313.8h0M650.8 306.5h0M650.9 313.9h0M651.0 309.6h0M651.2 317.4h0M651.3 313.3h0M651.4 305.9h0M651.5 316.1h0M651.7 312.5h0M651.8 317.7h0M651.9 316.1h0M652.1 309.5h0M652.2 319.1h0M652.3 310.8h0M652.5 317.9h0M652.6 318.2h0M652.7 310.3h0M652.8 317.1h0M653.0 311.9h0M653.1 310.1h0M653.2 314.9h0M653.4 310.9h0M653.5 317.0h0M653.6 311.7h0M653.8 308.8h0M653.9 318.7h0M654.0 313.8h0M654.1 309.4h0M654.3 314.9h0M654.4 310.6h0M654.5 309.3h0M654.7 311.8h0M654.8 313.3h0M654.9 315.6h0M655.1 315.9h0M655.2 311.5h0M655.3 315.6h0M655.4 314.4h0M655.6 315.1h0M655.7 315.4h0M655.8 316.1h0M656.0 309.1h0M656.1 310.1h0M656.2 314.5h0M656.4 314.6h0M656.5 310.2h0M656.6 312.8h0M656.7 313.5h0M656.9 314.9h0M657.0 313.3h0M657.1 311.1h0M657.3 309.4h0M657.4 314.3h0M657.5 311.4h0M657.7 314.6h0M657.8 310.9h0M657.9 309.6h0M658.0 311.4h0M658.2 313.1h0M658.3 313.3h0M658.4 315.0h0M658.6 306.8h0M658.7 315.6h0M658.8 309.0h0M659.0 313.8h0M659.1 309.9h0M659.2 308.8h0M659.3 313.8h0M659.5 311.1h0M659.6 306.1h0M659.7 314.3h0M659.9 306.9h0M660.0 315.2h0M660.1 311.0h0M660.3 308.5h0M660.4 311.3h0M660.5 307.9h0M660.6 313.8h0M660.8 309.4h0M660.9 313.8h0M661.0 305.9h0M661.2 311.3h0M661.3 306.8h0M661.4 310.1h0M661.6 304.9h0M661.7 310.2h0M661.8 311.2h0M661.9 305.3h0M662.1 310.9h0M662.2 308.1h0M662.3 305.0h0M662.5 310.6h0M662.6 306.6h0M662.7 306.4h0M662.9 310.4h0M663.0 306.8h0M663.1 310.3h0M663.2 306.6h0M663.4 313.8h0M663.5 308.4h0M663.6 306.5h0M663.8 312.5h0M663.9 307.7h0M664.0 314.7h0M664.2 315.2h0M664.3 310.0h0M664.4 314.7h0M664.5 312.9h0M664.7 309.8h0M664.8 313.7h0M664.9 310.3h0M665.1 308.2h0M665.2 310.4h0M665.3 309.1h0M665.5 306.8h0M665.6 313.9h0M665.7 315.7h0M665.8 310.6h0M666.0 305.7h0M666.1 314.3h0M666.2 309.4h0M666.4 310.4h0M666.5 312.0h0M666.6 311.6h0M666.8 305.5h0M666.9 313.0h0M667.0 307.3h0M667.1 305.0h0M667.3 307.1h0M667.4 314.3h0M667.5 313.5h0M667.7 307.9h0M667.8 313.8h0M667.9 313.1h0M668.1 305.3h0M668.2 302.1h0M668.3 310.7h0M668.4 314.3h0M668.6 308.9h0M668.7 302.0h0M668.8 313.3h0M669.0 306.1h0M669.1 314.3h0M669.2 308.9h0M669.4 305.1h0M669.5 300.8h0M669.6 313.3h0M669.7 305.7h0M669.9 313.3h0M670.0 312.0h0M670.1 300.8h0M670.3 308.1h0M670.4 307.7h0M670.5 299.1h0M670.7 303.6h0M670.8 315.7h0M670.9 310.2h0M671.0 311.9h0M671.2 315.7h0M671.3 311.0h0M671.4 299.2h0M671.6 313.0h0M671.7 312.7h0M671.8 302.5h0M672.0 313.7h0M672.1 308.3h0M672.2 309.8h0M672.3 310.6h0M672.5 300.0h0M672.6 303.7h0M672.7 295.0h0M672.9 293.5h0M673.0 302.5h0M673.1 294.0h0M673.3 302.3h0M673.4 299.8h0M673.5 290.8h0M673.6 298.8h0M673.8 294.6h0M673.9 297.4h0M674.0 295.3h0M674.2 287.7h0M674.3 296.5h0M674.4 289.1h0M674.6 284.4h0M674.7 287.1h0M674.8 287.4h0M674.9 281.0h0M675.1 287.8h0M675.2 275.5h0M675.3 283.8h0M675.5 275.4h0M675.6 272.6h0M675.7 273.1h0M675.9 267.7h0M676.0 276.5h0M676.1 274.8h0M676.2 268.2h0M676.4 273.6h0M676.5 271.1h0M676.6 264.2h0M676.8 270.0h0M676.9 266.5h0M677.0 270.7h0M677.2 263.3h0M677.3 257.8h0M677.4 270.0h0M677.5 264.8h0M677.7 256.5h0M677.8 267.0h0M677.9 261.6h0M678.1 266.8h0M678.2 255.7h0M678.3 256.9h0M678.5 262.8h0M678.6 253.0h0M678.7 260.8h0M678.8 255.1h0M679.0 251.5h0M679.1 258.7h0M679.2 250.7h0M679.4 259.1h0M679.5 251.8h0M679.6 249.2h0M679.8 256.9h0M679.9 253.4h0M680.0 248.0h0M680.1 250.8h0M680.3 247.6h0M680.4 251.9h0M680.5 240.0h0M680.7 222.6h0M680.8 217.0h0M680.9 199.9h0M681.1 189.4h0M681.2 186.9h0M681.3 179.9h0M681.4 192.0h0M681.6 177.5h0M681.7 170.3h0M681.8 188.5h0M682.0 169.0h0M682.1 172.5h0M682.2 172.8h0M682.4 164.7h0M682.5 194.7h0M682.6 173.1h0M682.7 166.5h0M682.9 177.6h0M683.0 173.1h0M683.1 188.5h0M683.3 174.9h0M683.4 170.8h0M683.5 193.5h0M683.7 175.3h0M683.8 196.3h0M683.9 176.2h0M684.0 173.1h0M684.2 163.9h0M684.3 169.4h0M684.4 170.4h0M684.6 163.4h0M684.7 164.7h0M684.8 189.2h0M685.0 194.0h0M685.1 177.1h0M685.2 163.3h0M685.3 191.6h0M685.5 197.9h0M685.6 178.6h0M685.7 168.1h0M685.9 166.1h0M686.0 180.8h0M686.1 178.0h0M686.3 183.2h0M686.4 178.2h0M686.5 169.6h0M686.6 177.1h0M686.8 172.1h0M686.9 201.0h0M687.0 188.5h0M687.2 176.9h0M687.3 202.2h0M687.4 172.0h0M687.6 203.3h0M687.7 180.8h0M687.8 166.5h0M687.9 210.8h0M688.1 195.9h0M688.2 202.9h0M688.3 199.3h0M688.5 175.7h0M688.6 205.2h0M688.7 177.7h0M688.9 178.0h0M689.0 187.3h0M689.1 183.0h0M689.2 206.6h0M689.4 199.8h0M689.5 175.8h0M689.6 196.1h0M689.8 178.5h0M689.9 172.5h0M690.0 210.8h0M690.2 193.8h0M690.3 214.7h0M690.4 206.2h0M690.5 190.8h0M690.7 170.9h0M690.8 205.9h0M690.9 183.1h0M691.1 205.1h0M691.2 186.1h0M691.3 210.5h0M691.5 193.6h0M691.6 220.8h0M691.7 209.8h0M691.8 184.6h0M692.0 226.0h0M692.1 214.6h0M692.2 190.0h0M692.4 215.4h0M692.5 197.5h0M692.6 227.0h0M692.8 219.8h0M692.9 184.5h0M693.0 225.6h0M693.1 222.7h0M693.3 230.8h0M693.4 218.4h0M693.5 205.2h0M693.7 194.5h0M693.8 220.3h0M693.9 201.8h0M694.1 193.6h0M694.2 226.8h0M694.3 231.6h0M694.4 227.9h0M694.6 210.3h0M694.7 230.3h0M694.8 231.1h0M695.0 197.8h0M695.1 227.0h0M695.2 226.4h0M695.4 204.1h0M695.5 226.5h0M695.6 213.4h0M695.7 195.9h0M695.9 227.8h0M696.0 242.5h0M696.1 239.2h0M696.3 213.7h0M696.4 242.0h0M696.5 214.1h0M696.7 216.1h0M696.8 230.4h0M696.9 212.1h0M697.0 205.5h0M697.2 230.4h0M697.3 229.1h0M697.4 213.3h0M697.6 236.8h0M697.7 248.6h0M697.8 249.3h0M698.0 241.5h0M698.1 218.8h0M698.2 242.8h0M698.3 235.0h0M698.5 250.7h0M698.6 233.4h0M698.7 220.3h0M698.9 239.5h0M699.0 227.4h0M699.1 223.3h0M699.3 233.2h0M699.4 228.3h0M699.5 259.2h0M699.6 240.7h0M699.8 225.0h0M699.9 239.7h0M700.0 234.3h0M700.2 264.8h0M700.3 248.0h0M700.4 263.1h0M700.6 253.3h0M700.7 255.4h0M700.8 240.3h0M700.9 257.4h0M701.1 247.7h0M701.2 264.4h0M701.3 265.8h0M701.5 247.9h0M701.6 270.9h0M701.7 248.1h0M701.9 273.4h0M702.0 268.5h0M702.1 274.6h0M702.2 268.2h0M702.4 260.0h0M702.5 274.2h0M702.6 268.2h0M702.8 250.2h0M702.9 249.8h0M703.0 260.3h0M703.2 277.6h0M703.3 271.5h0M703.4 268.6h0M703.5 282.0h0M703.7 276.5h0M703.8 258.8h0M703.9 255.1h0M704.1 259.9h0M704.2 261.8h0M704.3 284.2h0M704.5 258.5h0M704.6 279.2h0M704.7 277.4h0M704.8 259.0h0M705.0 286.1h0M705.1 266.4h0M705.2 265.4h0M705.4 284.5h0M705.5 263.1h0M705.6 284.5h0M705.8 278.4h0M705.9 267.3h0M706.0 273.7h0M706.1 279.3h0M706.3 266.5h0M706.4 275.2h0M706.5 267.7h0M706.7 283.8h0M706.8 280.5h0M706.9 286.7h0M707.1 286.6h0M707.2 262.8h0M707.3 282.4h0M707.4 273.1h0M707.6 272.6h0M707.7 280.7h0M707.8 274.6h0M708.0 269.5h0M708.1 279.2h0M708.2 291.0h0M708.4 280.1h0M708.5 280.3h0M708.6 287.0h0M708.7 289.3h0M708.9 268.6h0M709.0 270.4h0M709.1 284.4h0M709.3 269.2h0M709.4 287.9h0M709.5 270.0h0M709.7 267.2h0M709.8 276.2h0M709.9 270.1h0M710.0 282.0h0M710.2 284.4h0M710.3 292.5h0M710.4 288.1h0M710.6 277.8h0M710.7 262.0h0M710.8 287.7h0M711.0 265.0h0M711.1 287.3h0M711.2 265.2h0M711.3 265.5h0M711.5 281.8h0M711.6 267.8h0M711.7 262.3h0M711.9 274.8h0M712.0 287.8h0M712.1 288.7h0M712.3 276.5h0M712.4 287.6h0M712.5 284.4h0M712.6 261.3h0M712.8 280.5h0M712.9 277.6h0M713.0 289.1h0M713.2 276.6h0M713.3 259.8h0M713.4 285.0h0M713.6 270.7h0M713.7 263.9h0M713.8 276.6h0M713.9 268.4h0M714.1 291.5h0M714.2 284.0h0M714.3 276.8h0M714.5 279.5h0M714.6 279.5h0M714.7 267.5h0M714.9 274.4h0M715.0 256.6h0M715.1 254.8h0M715.2 281.6h0M715.4 266.2h0M715.5 276.1h0M715.6 271.4h0M715.8 252.1h0M715.9 286.6h0M716.0 255.4h0M716.2 277.9h0M716.3 264.2h0M716.4 258.3h0M716.5 282.2h0M716.7 278.4h0M716.8 259.6h0M716.9 285.6h0M717.1 259.8h0M717.2 287.2h0M717.3 270.6h0M717.5 258.3h0M717.6 273.4h0M717.7 278.9h0M717.8 263.6h0M718.0 273.6h0M718.1 267.1h0M718.2 279.9h0M718.4 269.9h0M718.5 290.2h0M718.6 288.9h0M718.8 269.5h0M718.9 289.5h0M719.0 274.7h0M719.1 263.0h0M719.3 283.9h0M719.4 263.8h0M719.5 264.0h0M719.7 272.0h0M719.8 263.0h0M719.9 284.3h0M720.1 265.5h0M720.2 257.1h0M720.3 265.3h0M720.4 248.9h0M720.6 283.9h0M720.7 255.2h0M720.8 248.0h0M721.0 235.8h0M721.1 264.9h0M721.2 271.4h0M721.4 252.1h0M721.5 228.4h0M721.6 246.5h0M721.7 240.0h0M721.9 237.8h0M722.0 224.1h0M722.1 214.0h0M722.3 230.6h0M722.4 228.9h0M722.5 212.8h0M722.7 229.1h0M722.8 224.1h0M722.9 204.7h0M723.0 217.0h0M723.2 200.5h0M723.3 192.3h0M723.4 220.0h0M723.6 195.6h0M723.7 208.1h0M723.8 191.5h0M724.0 185.4h0M724.1 204.4h0M724.2 193.8h0M724.3 186.9h0M724.5 213.8h0M724.6 227.6h0M724.7 218.6h0M724.9 189.1h0M725.0 186.9h0M725.1 221.0h0M725.3 193.9h0M725.4 182.5h0M725.5 196.1h0M725.6 189.7h0M725.8 204.4h0M725.9 185.4h0M726.0 216.8h0M726.2 213.3h0M726.3 220.5h0M726.4 218.0h0M726.6 201.2h0M726.7 209.7h0M726.8 205.6h0M726.9 181.8h0M727.1 220.1h0M727.2 184.9h0M727.3 175.4h0M727.5 218.0h0M727.6 199.8h0M727.7 177.1h0M727.9 200.5h0M728.0 185.9h0M728.1 215.2h0M728.2 192.5h0M728.4 213.9h0M728.5 197.6h0M728.6 181.7h0M728.8 180.7h0M728.9 201.5h0M729.0 183.9h0M729.2 199.1h0M729.3 200.9h0M729.4 204.7h0M729.5 208.4h0M729.7 192.7h0M729.8 208.5h0M729.9 194.5h0M730.1 181.5h0M730.2 203.1h0M730.3 194.2h0M730.5 209.1h0M730.6 198.6h0M730.7 191.1h0M730.8 209.9h0M731.0 187.6h0M731.1 184.4h0M731.2 202.2h0M731.4 185.0h0M731.5 198.9h0M731.6 191.7h0M731.8 187.5h0M731.9 200.3h0M732.0 182.2h0M732.1 207.4h0M732.3 197.3h0M732.4 181.8h0M732.5 196.3h0M732.7 198.1h0M732.8 207.4h0M732.9 207.6h0M733.1 186.9h0M733.2 207.4h0M733.3 188.5h0M733.4 186.0h0M733.6 194.3h0M733.7 175.5h0M733.8 179.9h0M734.0 182.8h0M734.1 189.1h0M734.2 174.2h0M734.4 182.7h0M734.5 181.1h0M734.6 188.6h0M734.7 197.8h0M734.9 200.6h0M735.0 204.0h0M735.1 183.5h0M735.3 207.0h0M735.4 197.2h0M735.5 213.0h0M735.7 189.7h0M735.8 182.3h0M735.9 205.7h0M736.0 184.7h0M736.2 184.5h0M736.3 211.3h0M736.4 185.1h0M736.6 189.2h0M736.7 196.7h0M736.8 210.8h0M737.0 190.1h0M737.1 199.7h0M737.2 211.1h0M737.3 202.0h0M737.5 195.3h0M737.6 213.2h0M737.7 202.7h0M737.9 215.2h0M738.0 214.1h0M738.1 211.9h0M738.3 214.7h0M738.4 210.3h0M738.5 207.1h0M738.6 216.7h0M738.8 212.9h0M738.9 212.8h0M739.0 217.3h0M739.2 211.8h0M739.3 212.1h0M739.4 215.7h0M739.6 212.0h0M739.7 224.1h0M739.8 219.6h0M739.9 211.0h0M740.1 223.3h0M740.2 215.7h0M740.3 225.4h0M740.5 223.5h0M740.6 231.4h0M740.7 231.2h0M740.9 224.5h0M741.0 231.0h0M741.1 220.9h0M741.2 233.1h0M741.4 231.3h0M741.5 224.6h0M741.6 234.9h0M741.8 225.7h0M741.9 213.4h0M742.0 214.9h0M742.2 227.1h0M742.3 235.0h0M742.4 230.9h0M742.5 216.2h0M742.7 218.2h0M742.8 220.1h0M742.9 225.6h0M743.1 234.5h0M743.2 231.7h0M743.3 219.2h0M743.5 224.6h0M743.6 221.1h0M743.7 218.5h0M743.8 233.6h0M744.0 222.7h0M744.1 216.6h0M744.2 224.3h0M744.4 220.8h0M744.5 226.8h0M744.6 219.5h0M744.8 218.7h0M744.9 228.3h0M745.0 236.3h0M745.1 233.9h0M745.3 220.5h0M745.4 236.5h0M745.5 235.5h0M745.7 220.1h0M745.8 231.7h0M745.9 232.7h0M746.1 237.7h0M746.2 228.3h0M746.3 221.6h0M746.4 238.6h0M746.6 226.9h0M746.7 220.0h0M746.8 227.9h0M747.0 233.5h0M747.1 236.7h0M747.2 238.7h0M747.4 219.5h0M747.5 239.6h0M747.6 225.0h0M747.7 220.8h0M747.9 239.7h0M748.0 219.5h0M748.1 218.1h0M748.3 234.5h0M748.4 238.5h0M748.5 238.1h0M748.7 222.4h0M748.8 237.6h0M748.9 236.7h0M749.0 229.4h0M749.2 237.5h0M749.3 236.8h0M749.4 220.2h0M749.6 229.6h0M749.7 223.8h0M749.8 243.3h0M750.0 235.3h0M750.1 221.4h0M750.2 241.7h0M750.3 224.1h0M750.5 242.1h0M750.6 235.2h0M750.7 225.9h0M750.9 245.0h0M751.0 239.6h0M751.1 246.0h0M751.3 248.8h0M751.4 226.9h0M751.5 223.8h0M751.6 240.2h0M751.8 235.8h0M751.9 225.5h0M752.0 248.5h0M752.2 229.4h0M752.3 244.3h0M752.4 242.7h0M752.6 231.0h0M752.7 238.7h0M752.8 240.7h0M752.9 243.9h0M753.1 241.6h0M753.2 256.7h0M753.3 247.1h0M753.5 233.2h0M753.6 262.8h0M753.7 240.9h0M753.9 245.6h0M754.0 236.4h0M754.1 251.7h0M754.2 268.7h0M754.4 251.9h0M754.5 240.8h0M754.6 270.9h0M754.8 265.8h0M754.9 242.7h0M755.0 263.6h0M755.2 242.4h0M755.3 272.5h0M755.4 271.6h0M755.5 251.9h0M755.7 274.8h0M755.8 271.5h0M755.9 246.0h0M756.1 274.7h0M756.2 256.8h0M756.3 279.8h0M756.5 253.9h0M756.6 279.9h0M756.7 267.9h0M756.8 270.6h0M757.0 250.6h0M757.1 277.3h0M757.2 256.5h0M757.4 283.3h0M757.5 255.6h0M757.6 284.0h0M757.8 286.8h0M757.9 260.6h0M758.0 256.6h0M758.1 261.4h0M758.3 259.2h0M758.4 273.1h0M758.5 256.9h0M758.7 284.1h0M758.8 260.8h0M758.9 253.7h0M759.1 282.5h0M759.2 259.7h0M759.3 284.2h0M759.4 283.7h0M759.6 251.1h0M759.7 254.6h0M759.8 269.8h0M760.0 253.1h0M760.1 272.5h0M760.2 260.0h0M760.4 281.2h0M760.5 272.4h0M760.6 254.2h0M760.7 283.1h0M760.9 271.1h0M761.0 260.2h0M761.1 283.5h0M761.3 277.7h0M761.4 282.8h0M761.5 286.2h0M761.7 260.9h0M761.8 281.4h0M761.9 254.0h0M762.0 253.4h0M762.2 273.7h0M762.3 248.6h0M762.4 280.8h0M762.6 264.4h0M762.7 285.1h0M762.8 279.6h0M763.0 275.2h0M763.1 283.3h0M763.2 268.7h0M763.3 255.2h0M763.5 247.5h0M763.6 270.2h0M763.7 274.5h0M763.9 275.7h0M764.0 253.2h0M764.1 239.0h0M764.3 262.2h0M764.4 268.9h0M764.5 260.4h0M764.6 254.4h0M764.8 266.1h0M764.9 258.2h0M765.0 242.0h0M765.2 237.5h0M765.3 243.3h0M765.4 263.1h0M765.6 247.6h0M765.7 235.1h0M765.8 254.7h0M765.9 249.5h0M766.1 230.7h0M766.2 252.8h0M766.3 247.4h0M766.5 238.7h0M766.6 259.0h0M766.7 239.9h0M766.9 231.5h0M767.0 247.6h0M767.1 240.5h0M767.2 254.1h0M767.4 232.3h0M767.5 254.3h0M767.6 242.8h0M767.8 224.9h0M767.9 252.3h0M768.0 233.5h0M768.2 226.4h0M768.3 236.9h0M768.4 232.4h0M768.5 242.1h0M768.7 242.0h0M768.8 226.7h0M768.9 244.9h0M769.1 225.9h0M769.2 240.4h0M769.3 228.1h0M769.5 229.1h0M769.6 241.6h0M769.7 229.1h0M769.8 215.9h0M770.0 245.5h0M770.1 225.2h0M770.2 220.8h0M770.4 235.6h0M770.5 228.5h0M770.6 244.3h0M770.8 218.8h0M770.9 243.4h0M771.0 226.2h0M771.1 228.0h0M771.3 237.4h0M771.4 222.6h0M771.5 216.4h0M771.7 236.8h0M771.8 220.8h0M771.9 239.1h0M772.1 235.5h0M772.2 219.1h0M772.3 241.0h0M772.4 221.0h0M772.6 241.6h0M772.7 239.7h0M772.8 219.6h0M773.0 219.1h0M773.1 235.4h0M773.2 214.0h0M773.4 239.0h0M773.5 225.8h0M773.6 240.4h0M773.7 236.7h0M773.9 231.1h0M774.0 216.6h0M774.1 225.8h0M774.3 220.2h0M774.4 234.8h0M774.5 225.1h0M774.7 216.9h0M774.8 239.6h0M774.9 223.4h0M775.0 241.5h0M775.2 235.6h0M775.3 241.0h0M775.4 232.0h0M775.6 229.4h0M775.7 241.2h0M775.8 224.0h0M776.0 229.5h0M776.1 231.9h0M776.2 234.4h0M776.3 223.3h0M776.5 233.5h0M776.6 222.5h0M776.7 232.3h0M776.9 231.0h0M777.0 221.0h0M777.1 234.0h0M777.3 231.6h0M777.4 233.1h0M777.5 234.9h0M777.6 221.5h0M777.8 234.4h0M777.9 233.6h0M778.0 236.9h0M778.2 231.6h0M778.3 230.7h0M778.4 234.7h0M778.6 221.0h0M778.7 218.2h0M778.8 230.2h0M778.9 228.6h0M779.1 215.0h0M779.2 222.5h0M779.3 218.3h0M779.5 233.2h0M779.6 218.9h0M779.7 216.3h0M779.9 215.3h0M780.0 229.6h0M780.1 216.8h0M780.2 221.9h0M780.4 221.1h0M780.5 234.2h0M780.6 219.3h0M780.8 216.0h0M780.9 232.8h0M781.0 226.8h0M781.2 216.5h0M781.3 226.8h0M781.4 217.8h0M781.5 229.8h0M781.7 228.2h0M781.8 233.1h0M781.9 233.7h0M782.1 222.7h0M782.2 230.5h0M782.3 229.0h0M782.5 217.7h0M782.6 227.4h0M782.7 211.6h0M782.8 235.4h0M783.0 226.0h0M783.1 235.2h0M783.2 234.2h0M783.4 218.2h0M783.5 217.5h0M783.6 232.5h0M783.8 216.8h0M783.9 234.8h0M784.0 215.3h0M784.1 210.4h0M784.3 234.5h0M784.4 216.2h0M784.5 211.5h0M784.7 222.2h0M784.8 222.0h0M784.9 233.3h0M785.1 227.5h0M785.2 233.5h0M785.3 229.3h0M785.4 225.1h0M785.6 234.2h0M785.7 229.8h0M785.8 217.4h0M786.0 230.7h0M786.1 222.2h0M786.2 229.1h0M786.4 219.2h0M786.5 210.0h0M786.6 232.6h0M786.7 226.2h0M786.9 208.3h0M787.0 222.1h0M787.1 223.8h0M787.3 231.9h0M787.4 226.9h0M787.5 218.2h0M787.7 229.5h0M787.8 218.4h0M787.9 227.6h0M788.0 222.4h0M788.2 217.9h0M788.3 224.7h0M788.4 227.8h0M788.6 231.0h0M788.7 231.4h0M788.8 217.3h0M789.0 216.3h0M789.1 230.3h0M789.2 221.7h0M789.3 235.0h0M789.5 213.7h0M789.6 209.6h0M789.7 237.5h0M789.9 221.5h0M790.0 212.1h0M790.1 233.2h0M790.3 213.3h0M790.4 237.3h0M790.5 216.7h0M790.6 218.2h0M790.8 241.2h0M790.9 223.0h0M791.0 238.8h0M791.2 237.0h0M791.3 214.9h0M791.4 237.3h0M791.6 221.4h0M791.7 245.5h0M791.8 227.1h0M791.9 230.7h0M792.1 218.6h0M792.2 230.6h0M792.3 245.8h0M792.5 234.8h0M792.6 225.2h0M792.7 246.1h0M792.9 232.3h0M793.0 224.6h0M793.1 244.9h0M793.2 240.8h0M793.4 252.0h0M793.5 251.1h0M793.6 233.0h0M793.8 248.4h0M793.9 246.1h0M794.0 239.6h0M794.2 255.1h0M794.3 232.1h0M794.4 252.9h0M794.5 245.5h0M794.7 241.6h0M794.8 245.8h0M794.9 247.4h0M795.1 255.3h0M795.2 249.4h0M795.3 238.5h0M795.5 233.4h0M795.6 252.4h0M795.7 237.0h0M795.8 253.3h0M796.0 242.5h0M796.1 256.6h0M796.2 248.4h0M796.4 240.8h0M796.5 254.7h0M796.6 254.4h0M796.8 240.4h0M796.9 253.5h0M797.0 240.8h0M797.1 239.1h0M797.3 258.5h0M797.4 239.2h0M797.5 255.1h0M797.7 248.7h0M797.8 244.6h0M797.9 264.1h0M798.1 246.8h0M798.2 266.9h0M798.3 263.0h0M798.4 252.5h0M798.6 256.9h0M798.7 257.2h0M798.8 243.4h0M799.0 273.0h0M799.1 259.8h0M799.2 282.5h0M799.4 275.6h0M799.5 245.4h0M799.6 280.0h0M799.7 258.4h0M799.9 292.2h0M800.0 266.9h0M800.1 255.2h0M800.3 296.1h0M800.4 263.2h0M800.5 253.1h0M800.7 272.0h0M800.8 261.8h0M800.9 286.6h0M801.0 265.0h0M801.2 262.7h0M801.3 269.2h0M801.4 270.3h0M801.6 252.0h0M801.7 277.2h0M801.8 261.3h0M802.0 278.4h0M802.1 276.1h0M802.2 248.7h0M802.3 282.6h0M802.5 260.1h0M802.6 281.5h0M802.7 267.3h0M802.9 278.1h0M803.0 244.2h0M803.1 255.7h0M803.3 249.8h0M803.4 250.6h0M803.5 266.5h0M803.6 258.6h0M803.8 256.6h0M803.9 246.2h0M804.0 253.9h0M804.2 244.9h0M804.3 256.6h0M804.4 246.1h0M804.6 244.4h0M804.7 252.2h0M804.8 250.6h0M804.9 239.5h0M805.1 251.3h0M805.2 241.0h0M805.3 254.0h0M805.5 242.7h0M805.6 239.4h0M805.7 252.9h0M805.9 249.3h0M806.0 254.5h0M806.1 254.4h0M806.2 247.8h0M806.4 252.0h0M806.5 251.5h0M806.6 239.6h0M806.8 251.4h0M806.9 243.1h0M807.0 239.1h0M807.2 239.6h0M807.3 241.9h0M807.4 250.1h0M807.5 246.7h0M807.7 251.9h0M807.8 247.4h0M807.9 233.5h0M808.1 244.9h0M808.2 235.0h0M808.3 233.7h0M808.5 246.5h0M808.6 233.3h0M808.7 250.2h0M808.8 246.4h0M809.0 236.6h0M809.1 250.4h0M809.2 233.5h0M809.4 246.2h0M809.5 236.4h0M809.6 235.8h0M809.8 229.0h0M809.9 238.2h0M810.0 231.4h0M810.1 226.1h0M810.3 238.6h0M810.4 243.1h0M810.5 241.6h0M810.7 231.2h0M810.8 225.9h0M810.9 240.3h0M811.1 228.2h0M811.2 242.1h0M811.3 228.5h0M811.4 228.1h0M811.6 243.8h0M811.7 228.6h0M811.8 242.6h0M812.0 233.2h0M812.1 243.8h0M812.2 245.4h0M812.4 238.6h0M812.5 244.0h0M812.6 231.6h0M812.7 227.4h0M812.9 235.5h0M813.0 232.4h0M813.1 247.6h0M813.3 245.5h0M813.4 228.4h0M813.5 244.3h0M813.7 234.8h0M813.8 235.3h0M813.9 240.3h0M814.0 243.0h0M814.2 235.9h0M814.3 248.5h0M814.4 239.6h0M814.6 239.2h0M814.7 241.4h0M814.8 240.8h0M815.0 243.9h0M815.1 245.7h0M815.2 249.2h0M815.3 249.2h0M815.5 240.0h0M815.6 244.6h0M815.7 244.2h0M815.9 249.3h0M816.0 249.2h0M816.1 241.5h0M816.3 251.5h0M816.4 243.4h0M816.5 252.3h0M816.6 248.8h0M816.8 246.6h0M816.9 252.5h0M817.0 249.9h0M817.2 242.0h0M817.3 250.8h0M817.4 243.4h0M817.6 252.6h0M817.7 248.3h0M817.8 242.3h0M817.9 251.4h0M818.1 250.3h0M818.2 242.1h0M818.3 252.7h0M818.5 245.2h0M818.6 249.9h0M818.7 245.9h0M818.9 243.0h0M819.0 251.0h0M819.1 244.5h0M819.2 250.3h0M819.4 249.3h0M819.5 247.9h0M819.6 253.9h0M819.8 244.8h0M819.9 254.2h0M820.0 255.4h0M820.2 246.2h0M820.3 255.4h0M820.4 246.9h0M820.5 247.7h0M820.7 251.0h0M820.8 249.0h0M820.9 243.1h0M821.1 253.2h0M821.2 245.6h0M821.3 242.9h0M821.5 247.7h0M821.6 256.5h0M821.7 253.2h0M821.8 249.2h0M822.0 254.6h0M822.1 246.5h0M822.2 243.3h0M822.4 251.7h0M822.5 242.9h0M822.6 242.1h0M822.8 250.5h0M822.9 245.7h0M823.0 239.7h0M823.1 251.9h0M823.3 241.0h0M823.4 254.5h0M823.5 242.6h0M823.7 254.4h0M823.8 241.5h0M823.9 254.5h0M824.1 248.3h0M824.2 245.8h0M824.3 253.1h0M824.4 232.5h0M824.6 248.5h0M824.7 235.5h0M824.8 244.8h0M825.0 237.0h0M825.1 251.0h0M825.2 249.7h0M825.4 235.7h0M825.5 252.5h0M825.6 234.2h0M825.7 253.1h0M825.9 245.2h0M826.0 238.2h0M826.1 249.2h0M826.3 230.9h0M826.4 250.0h0M826.5 242.9h0M826.7 236.1h0M826.8 254.7h0M826.9 234.5h0M827.0 230.9h0M827.2 253.0h0M827.3 231.5h0M827.4 253.7h0M827.6 251.6h0M827.7 231.0h0M827.8 253.2h0M828.0 239.5h0M828.1 235.0h0M828.2 243.1h0M828.3 258.2h0M828.5 233.3h0M828.6 240.6h0M828.7 240.2h0M828.9 255.0h0M829.0 244.6h0M829.1 254.8h0M829.3 252.1h0M829.4 260.0h0M829.5 254.7h0M829.6 247.9h0M829.8 244.2h0M829.9 251.0h0M830.0 247.0h0M830.2 256.3h0M830.3 255.1h0M830.4 246.5h0M830.6 257.6h0M830.7 249.0h0M830.8 248.3h0M830.9 261.3h0M831.1 256.4h0M831.2 268.5h0M831.3 257.1h0M831.5 256.8h0M831.6 270.8h0M831.7 258.4h0M831.9 271.3h0M832.0 272.5h0M832.1 265.1h0M832.2 277.6h0M832.4 265.2h0M832.5 267.7h0M832.6 277.1h0M832.8 264.9h0M832.9 279.7h0M833.0 278.2h0M833.2 269.9h0M833.3 278.8h0M833.4 282.2h0M833.5 289.1h0M833.7 278.6h0M833.8 278.8h0M833.9 290.9h0M834.1 288.2h0M834.2 273.5h0M834.3 289.9h0M834.5 276.7h0M834.6 295.1h0M834.7 284.5h0M834.8 283.9h0M835.0 299.8h0M835.1 285.7h0M835.2 286.6h0M835.4 292.4h0M835.5 287.8h0M835.6 304.1h0M835.8 295.8h0M835.9 293.5h0M836.0 306.3h0M836.1 291.8h0M836.3 305.7h0M836.4 304.0h0M836.5 310.5h0M836.7 304.8h0M836.8 306.1h0M836.9 299.6h0M837.1 305.4h0M837.2 302.9h0M837.3 309.8h0M837.4 310.8h0M837.6 303.4h0M837.7 315.6h0M837.8 300.3h0M838.0 312.8h0M838.1 309.5h0M838.2 299.0h0M838.4 289.9h0M838.5 306.0h0M838.6 313.8h0M838.7 308.7h0M838.9 289.4h0M839.0 306.0h0M839.1 305.0h0M839.3 307.0h0M839.4 299.7h0M839.5 287.1h0M839.7 296.2h0M839.8 293.7h0M839.9 275.7h0M840.0 270.2h0M840.2 278.8h0M840.3 270.4h0M840.4 276.9h0M840.6 280.2h0M840.7 281.7h0M840.8 278.5h0M841.0 272.0h0M841.1 281.5h0M841.2 265.7h0M841.3 262.4h0M841.5 276.7h0M841.6 265.6h0M841.7 273.1h0M841.9 274.5h0M842.0 256.3h0M842.1 270.8h0M842.3 262.3h0M842.4 272.0h0M842.5 262.2h0M842.6 259.3h0M842.8 271.0h0M842.9 256.6h0M843.0 272.8h0M843.2 271.4h0M843.3 263.3h0M843.4 255.8h0M843.6 270.9h0M843.7 258.2h0M843.8 267.8h0M843.9 265.6h0M844.1 254.4h0M844.2 267.9h0M844.3 257.5h0M844.5 255.4h0M844.6 258.3h0M844.7 258.2h0M844.9 253.2h0M845.0 258.5h0M845.1 266.3h0M845.2 259.0h0M845.4 260.6h0M845.5 264.1h0M845.6 262.3h0M845.8 255.2h0M845.9 263.2h0M846.0 252.5h0M846.2 263.4h0M846.3 253.5h0M846.4 264.5h0M846.5 248.9h0M846.7 260.0h0M846.8 248.3h0M846.9 258.3h0M847.1 255.3h0M847.2 261.1h0M847.3 255.5h0M847.5 251.8h0M847.6 264.4h0M847.7 249.8h0M847.8 265.8h0M848.0 252.6h0M848.1 249.9h0M848.2 263.5h0M848.4 250.9h0M848.5 247.6h0M848.6 259.8h0M848.8 248.1h0M848.9 250.5h0M849.0 258.8h0M849.1 249.1h0M849.3 262.0h0M849.4 254.6h0M849.5 264.7h0M849.7 263.9h0M849.8 246.7h0M849.9 248.4h0M850.1 260.4h0M850.2 265.8h0M850.3 262.7h0M850.4 249.0h0M850.6 265.4h0M850.7 252.6h0M850.8 249.6h0M851.0 262.6h0M851.1 254.6h0M851.2 253.1h0M851.4 262.9h0M851.5 250.0h0M851.6 247.8h0M851.7 262.4h0M851.9 266.0h0M852.0 264.9h0M852.1 259.1h0M852.3 249.5h0M852.4 260.1h0M852.5 254.5h0M852.7 261.9h0M852.8 249.4h0M852.9 248.6h0M853.0 262.1h0M853.2 245.8h0M853.3 264.8h0M853.4 257.5h0M853.6 248.7h0M853.7 259.2h0M853.8 256.3h0M854.0 264.8h0M854.1 258.1h0M854.2 252.3h0M854.3 249.8h0M854.5 254.3h0M854.6 265.8h0M854.7 260.5h0M854.9 247.5h0M855.0 248.6h0M855.1 256.1h0M855.3 249.2h0M855.4 261.4h0M855.5 254.9h0M855.6 259.2h0M855.8 249.8h0M855.9 233.4h0M856.0 248.0h0M856.2 237.0h0M856.3 220.1h0M856.4 234.6h0M856.6 224.2h0M856.7 237.8h0M856.8 237.4h0M856.9 215.5h0M857.1 239.1h0M857.2 231.5h0M857.3 218.9h0M857.5 231.9h0M857.6 224.4h0M857.7 215.8h0M857.9 229.8h0M858.0 211.7h0M858.1 211.9h0M858.2 213.2h0M858.4 235.5h0M858.5 232.2h0M858.6 222.6h0M858.8 205.9h0M858.9 222.8h0M859.0 212.6h0M859.2 219.0h0M859.3 208.5h0M859.4 233.0h0M859.5 221.0h0M859.7 208.3h0M859.8 234.5h0M859.9 228.3h0M860.1 232.6h0M860.2 209.7h0M860.3 210.5h0M860.5 231.5h0M860.6 228.1h0M860.7 201.6h0M860.8 231.2h0M861.0 223.3h0M861.1 190.4h0M861.2 223.2h0M861.4 190.1h0M861.5 192.6h0M861.6 197.6h0M861.8 191.4h0M861.9 219.2h0M862.0 200.0h0M862.1 186.5h0M862.3 193.2h0M862.4 183.4h0M862.5 205.0h0M862.7 183.1h0M862.8 185.9h0M862.9 196.8h0M863.1 194.5h0M863.2 199.9h0M863.3 196.1h0M863.4 205.9h0M863.6 199.4h0M863.7 180.6h0M863.8 181.2h0M864.0 193.4h0M864.1 177.2h0M864.2 193.2h0M864.4 179.7h0M864.5 178.7h0M864.6 194.6h0M864.7 189.6h0M864.9 196.3h0M865.0 198.9h0M865.1 182.9h0M865.3 197.7h0M865.4 176.6h0M865.5 177.0h0M865.7 200.9h0M865.8 183.3h0M865.9 168.4h0M866.0 192.2h0M866.2 176.0h0M866.3 193.3h0M866.4 170.3h0M866.6 192.8h0M866.7 193.7h0M866.8 169.8h0M867.0 196.4h0M867.1 189.0h0M867.2 172.5h0M867.3 185.3h0M867.5 161.4h0M867.6 185.8h0M867.7 187.4h0M867.9 173.8h0M868.0 187.1h0M868.1 169.7h0M868.3 193.3h0M868.4 188.6h0M868.5 171.5h0M868.6 181.7h0M868.8 183.9h0M868.9 166.1h0M869.0 188.8h0M869.2 165.1h0M869.3 189.1h0M869.4 168.9h0M869.6 172.5h0M869.7 186.8h0M869.8 165.8h0M869.9 158.0h0M870.1 174.6h0M870.2 165.8h0M870.3 156.7h0M870.5 165.5h0M870.6 180.4h0M870.7 168.3h0M870.9 164.9h0M871.0 176.2h0M871.1 165.1h0M871.2 156.1h0M871.4 174.1h0M871.5 160.1h0M871.6 162.2h0M871.8 170.6h0M871.9 154.6h0M872.0 155.0h0M872.2 171.8h0M872.3 155.1h0M872.4 155.9h0M872.5 162.1h0M872.7 160.1h0M872.8 163.6h0M872.9 158.1h0M873.1 172.8h0M873.2 171.3h0M873.3 161.9h0M873.5 170.1h0M873.6 163.1h0M873.7 156.9h0M873.8 169.4h0M874.0 172.7h0M874.1 167.1h0M874.2 157.1h0M874.4 154.5h0M874.5 170.9h0M874.6 157.1h0M874.8 154.4h0M874.9 158.9h0M875.0 171.0h0M875.1 164.0h0M875.3 164.3h0M875.4 156.9h0M875.5 167.9h0M875.7 168.2h0M875.8 168.0h0M875.9 156.7h0M876.1 166.8h0M876.2 163.6h0M876.3 161.1h0M876.4 155.7h0M876.6 159.2h0M876.7 158.1h0M876.8 154.7h0M877.0 155.6h0M877.1 166.8h0M877.2 161.4h0M877.4 154.4h0M877.5 155.3h0M877.6 165.8h0M877.7 167.6h0M877.9 163.1h0M878.0 162.3h0M878.1 156.3h0M878.3 158.1h0M878.4 157.0h0M878.5 162.3h0M878.7 160.6h0M878.8 157.5h0M878.9 160.5h0M879.0 158.4h0M879.2 162.8h0M879.3 156.9h0M879.4 153.6h0M879.6 165.4h0M879.7 159.7h0M879.8 165.1h0M880.0 161.1h0M880.1 151.3h0M880.2 165.4h0M880.3 155.9h0M880.5 153.8h0M880.6 162.0h0M880.7 151.4h0M880.9 161.0h0M881.0 153.6h0M881.1 156.4h0M881.3 150.2h0M881.4 153.1h0M881.5 164.5h0M881.6 161.4h0M881.8 154.4h0M881.9 166.4h0M882.0 164.1h0M882.2 150.4h0M882.3 160.6h0M882.4 154.1h0M882.6 152.0h0M882.7 155.5h0M882.8 147.6h0M882.9 163.2h0M883.1 148.4h0M883.2 147.5h0M883.3 163.5h0M883.5 151.2h0M883.6 163.6h0M883.7 162.0h0M883.9 151.9h0M884.0 142.2h0M884.1 147.8h0M884.2 149.4h0M884.4 163.3h0M884.5 149.3h0M884.6 166.7h0M884.8 158.2h0M884.9 151.2h0M885.0 166.1h0M885.2 157.1h0M885.3 173.1h0M885.4 167.1h0M885.5 161.7h0M885.7 168.4h0M885.8 175.8h0M885.9 156.3h0M886.1 172.7h0M886.2 159.1h0M886.3 161.0h0M886.5 177.6h0M886.6 158.4h0M886.7 173.8h0M886.8 162.2h0M887.0 180.3h0M887.1 178.3h0M887.2 166.0h0M887.4 174.8h0M887.5 175.7h0M887.6 164.9h0M887.8 172.1h0M887.9 177.3h0M888.0 182.6h0M888.1 178.1h0M888.3 184.5h0M888.4 175.3h0M888.5 168.4h0M888.7 179.6h0M888.8 173.6h0M888.9 169.6h0M889.1 181.2h0M889.2 174.0h0M889.3 169.7h0M889.4 181.2h0M889.6 167.3h0M889.7 175.1h0M889.8 173.7h0M890.0 161.6h0M890.1 172.2h0M890.2 159.9h0M890.4 149.6h0M890.5 159.6h0M890.6 150.1h0M890.7 161.9h0M890.9 144.4h0M891.0 144.2h0M891.1 147.6h0M891.3 139.4h0M891.4 153.8h0M891.5 133.2h0M891.7 124.3h0M891.8 149.2h0M891.9 133.2h0M892.0 127.1h0M892.2 150.3h0M892.3 139.8h0M892.4 123.9h0M892.6 131.3h0M892.7 151.6h0M892.8 125.4h0M893.0 140.9h0M893.1 129.2h0M893.2 150.3h0M893.3 138.6h0M893.5 144.7h0M893.6 145.8h0M893.7 132.0h0M893.9 147.6h0M894.0 133.8h0M894.1 133.5h0M894.3 150.2h0M894.4 145.9h0M894.5 153.8h0M894.6 152.2h0M894.8 154.8h0M894.9 147.5h0M895.0 145.3h0M895.2 153.7h0M895.3 152.0h0M895.4 144.3h0M895.6 154.1h0M895.7 144.4h0M895.8 142.4h0M895.9 147.7h0M896.1 148.4h0M896.2 141.2h0M896.3 148.9h0M896.5 152.6h0M896.6 148.3h0M896.7 147.6h0M896.9 154.1h0M897.0 149.1h0M897.1 147.5h0M897.2 154.8h0M897.4 142.7h0M897.5 141.5h0M897.6 152.9h0M897.8 139.8h0M897.9 138.5h0M898.0 145.6h0M898.2 138.2h0M898.3 146.5h0M898.4 144.4h0M898.5 132.6h0M898.7 144.2h0M898.8 134.4h0M898.9 130.2h0M899.1 137.5h0M899.2 147.6h0M899.3 135.7h0M899.5 141.1h0M899.6 125.3h0M899.7 130.8h0M899.8 136.5h0M900.0 123.3h0M900.1 125.5h0M900.2 129.2h0M900.4 140.4h0M900.5 121.1h0M900.6 125.9h0M900.8 147.5h0M900.9 134.1h0M901.0 144.3h0M901.1 137.2h0M901.3 152.6h0M901.4 150.6h0M901.5 126.4h0M901.7 124.7h0M901.8 140.3h0M901.9 130.7h0M902.1 142.4h0M902.2 129.3h0M902.3 131.9h0M902.4 135.7h0M902.6 140.5h0M902.7 152.8h0M902.8 147.2h0M903.0 137.8h0M903.1 150.1h0M903.2 155.6h0M903.4 154.6h0M903.5 146.9h0M903.6 142.7h0M903.7 151.4h0M903.9 141.7h0M904.0 138.1h0M904.1 152.1h0M904.3 137.8h0M904.4 138.3h0M904.5 144.7h0M904.7 153.6h0M904.8 151.9h0M904.9 138.7h0M905.0 150.7h0M905.2 146.1h0M905.3 138.2h0M905.4 144.2h0M905.6 141.0h0M905.7 151.4h0M905.8 143.5h0M906.0 135.3h0M906.1 147.3h0M906.2 147.7h0M906.3 133.4h0M906.5 146.3h0M906.6 143.0h0M906.7 150.8h0M906.9 141.1h0M907.0 134.2h0M907.1 148.6h0M907.3 131.2h0M907.4 146.7h0M907.5 144.8h0M907.6 141.3h0M907.8 143.1h0M907.9 146.7h0M908.0 133.3h0M908.2 148.3h0M908.3 133.8h0M908.4 136.4h0M908.6 148.1h0M908.7 135.8h0M908.8 149.0h0M908.9 138.0h0M909.1 136.6h0M909.2 143.5h0M909.3 140.1h0M909.5 135.3h0M909.6 144.9h0M909.7 162.7h0M909.9 156.6h0M910.0 150.6h0M910.1 169.7h0M910.2 150.3h0M910.4 139.2h0M910.5 166.7h0M910.6 160.7h0M910.8 144.6h0M910.9 165.4h0M911.0 154.4h0M911.2 165.3h0M911.3 150.2h0M911.4 137.4h0M911.5 156.1h0M911.7 149.3h0M911.8 153.0h0M911.9 140.5h0M912.1 137.3h0M912.2 148.5h0M912.3 137.1h0M912.5 138.0h0M912.6 145.7h0M912.7 144.6h0M912.8 133.6h0M913.0 138.9h0M913.1 148.0h0M913.2 141.3h0M913.4 136.8h0M913.5 132.1h0M913.6 143.2h0M913.8 132.0h0M913.9 133.1h0M914.0 142.2h0M914.1 135.1h0M914.3 145.8h0M914.4 132.1h0M914.5 145.0h0M914.7 138.2h0M914.8 131.8h0M914.9 128.9h0M915.1 131.8h0M915.2 143.9h0M915.3 141.4h0M915.4 130.0h0M915.6 140.2h0M915.7 138.9h0M915.8 131.4h0M916.0 137.9h0M916.1 135.9h0M916.2 140.8h0M916.4 138.6h0M916.5 133.6h0M916.6 122.4h0M916.7 140.3h0M916.9 129.0h0M917.0 118.2h0M917.1 120.7h0M917.3 117.7h0M917.4 131.9h0M917.5 125.8h0M917.7 136.0h0M917.8 127.9h0M917.9 123.5h0M918.0 131.8h0M918.2 118.2h0M918.3 134.6h0M918.4 130.2h0M918.6 119.4h0M918.7 130.8h0M918.8 115.9h0M919.0 117.2h0M919.1 125.4h0M919.2 124.4h0M919.3 132.1h0M919.5 115.5h0M919.6 118.5h0M919.7 119.9h0M919.9 120.6h0M920.0 111.0h0M920.1 115.9h0M920.3 109.3h0M920.4 107.9h0M920.5 114.4h0M920.6 111.6h0M920.8 128.7h0M920.9 114.6h0M921.0 102.9h0M921.2 115.2h0M921.3 102.0h0M921.4 113.9h0M921.6 106.5h0M921.7 118.9h0M921.8 121.2h0M921.9 104.8h0M922.1 116.2h0M922.2 108.8h0M922.3 122.7h0M922.5 117.9h0M922.6 111.8h0M922.7 116.4h0M922.9 109.6h0M923.0 98.3h0M923.1 96.5h0M923.2 98.0h0M923.4 100.7h0M923.5 107.3h0M923.6 105.4h0M923.8 108.6h0M923.9 106.0h0M924.0 97.6h0M924.2 106.5h0M924.3 99.7h0M924.4 94.5h0M924.5 111.1h0M924.7 99.3h0M924.8 105.5h0M924.9 102.7h0M925.1 112.1h0M925.2 98.8h0M925.3 90.8h0M925.5 86.4h0M925.6 97.0h0M925.7 106.7h0M925.8 104.3h0M926.0 90.3h0M926.1 84.6h0M926.2 101.7h0M926.4 108.1h0M926.5 97.5h0M926.6 88.0h0M926.8 86.7h0M926.9 103.7h0M927.0 93.8h0M927.1 102.0h0M927.3 94.2h0M927.4 86.0h0M927.5 99.2h0M927.7 75.2h0M927.8 73.8h0M927.9 95.3h0M928.1 78.3h0M928.2 91.6h0M928.3 89.7h0M928.4 75.5h0M928.6 67.1h0M928.7 85.7h0M928.8 67.1h0M929.0 85.6h0M929.1 68.4h0M929.2 87.8h0M929.4 79.7h0M929.5 71.8h0M929.6 86.6h0M929.7 80.9h0M929.9 85.9h0M930.0 85.5h0M930.1 66.4h0M930.3 64.4h0M930.4 84.5h0M930.5 66.0h0M930.7 77.9h0M930.8 69.9h0M930.9 86.6h0M931.0 72.9h0M931.2 65.9h0M931.3 86.3h0M931.4 79.2h0M931.6 65.3h0M931.7 84.4h0M931.8 63.5h0M932.0 63.8h0M932.1 70.2h0M932.2 89.2h0M932.3 86.2h0M932.5 64.4h0M932.6 64.2h0M932.7 83.0h0M932.9 69.3h0M933.0 65.2h0M933.1 78.9h0M933.3 82.8h0M933.4 79.8h0M933.5 67.3h0M933.6 78.1h0M933.8 79.1h0M933.9 63.7h0M934.0 73.6h0M934.2 75.9h0M934.3 80.3h0M934.4 71.3h0M934.6 70.1h0M934.7 63.6h0M934.8 69.4h0M934.9 81.8h0M935.1 71.1h0M935.2 67.5h0M935.3 78.7h0M935.5 68.0h0M935.6 68.1h0M935.7 82.6h0M935.9 70.0h0M936.0 62.4h0M936.1 78.1h0M936.2 66.0h0M936.4 80.7h0M936.5 68.7h0M936.6 63.2h0M936.8 81.7h0M936.9 75.1h0M937.0 81.7h0M937.2 74.2h0M937.3 67.1h0M937.4 79.3h0M937.5 73.0h0M937.7 81.5h0M937.8 74.0h0M937.9 64.3h0M938.1 81.1h0M938.2 78.7h0M125.0 365.3h0M124.5 367.2h0M125.0 369.1h0M124.7 371.0h0M124.7 372.9h0M124.2 374.8h0M125.0 376.7h0M124.0 378.6h0M124.3 380.5h0M124.4 382.4h0M124.8 384.3h0M124.2 386.2h0M124.9 388.1h0M125.0 390.0h0M124.2 391.9h0M124.6 393.8h0M124.0 395.7h0M124.4 397.6h0M112.9 432.0h0M115.5 422.5h0M118.0 420.2h0M125.0 443.5h0M937.3 44.2h0M936.9 50.0h0M937.1 47.0h0M937.2 53.0h0M937.4 56.0h0M895.5 216.5h0M303.8 185.0h0M303.9 188.0h0M688.5 151.5h0M735.4 163.4h0M727.5 166.0h0M727.5 169.0h0M788.5 203.0h0M911.5 185.0h0M755.6 304.0h0M898.4 518.3h0M933.4 518.3h0M681.0 209.0h0M680.0 212.5h0M681.0 217.0h0M737.5 250.0h0M737.5 255.0h0M737.5 259.0h0M738.0 270.6h0M895.6 182.0h0M895.6 187.0h0M895.6 192.0h0M720.6 235.0h0" fill="none" stroke="#000" stroke-width="5.56" stroke-linecap="round"/>
<path d="M112.8 432.0L113.3 431.6L113.8 431.0L114.3 431.5L114.8 431.4L115.3 431.3L115.8 430.9L116.3 431.1L116.8 431.4L117.3 432.2L117.8 433.2L118.3 434.4L118.8 434.1L119.3 433.6L119.8 434.0L120.3 434.4L120.8 435.2L121.3 435.2L121.8 435.1L122.3 434.3L122.8 433.5L123.3 432.9L123.8 433.7L124.3 434.7L124.8 435.7L125.3 435.5L125.8 434.7L126.3 434.4L126.8 434.0L127.3 433.6L127.8 433.8L128.3 434.2L128.8 434.4L129.3 434.3L129.8 434.2L130.3 435.0L130.8 435.4L131.3 436.5L131.8 437.0L132.3 437.4L132.8 437.5L133.3 438.5L133.8 438.6L134.3 438.7L134.8 438.2L135.3 438.7L135.8 440.0L136.3 441.0L136.8 442.7L137.3 444.1L137.8 442.6L138.3 440.5L138.8 438.5L139.3 436.9L139.8 436.5L140.3 436.5L140.8 436.5L141.3 435.5L141.8 434.5L142.3 433.5L142.8 433.5L143.3 434.2L143.8 434.8L144.3 434.3L144.8 433.4L145.3 432.4L145.8 432.4L146.3 432.5L146.8 432.8L147.3 432.6L147.8 432.1L148.3 432.5L148.8 433.2L149.3 433.9L149.8 435.1L150.3 435.2L150.8 435.0L151.3 434.2L151.8 434.4L152.3 435.2L152.8 435.6L153.3 435.0L153.8 434.9L154.3 433.9L154.8 433.1L155.3 433.4L155.8 434.5L156.3 436.0L156.8 436.8L157.3 436.3L157.8 436.1L158.3 435.2L158.8 435.2L159.3 435.4L159.8 435.6L160.3 435.6L160.8 435.4L161.3 434.6L161.8 434.9L162.3 435.1L162.8 435.8L163.3 436.1L163.8 435.9L164.3 436.1L164.8 436.9L165.3 437.6L165.8 437.6L166.3 437.8L166.8 438.0L167.3 438.8L167.8 439.7L168.3 441.2L168.8 442.4L169.3 442.7L169.8 441.0L170.3 438.9L170.8 437.1L171.3 435.5L171.8 435.1L172.3 434.9L172.8 434.2L173.3 433.3L173.8 432.2L174.3 431.6L174.8 431.5L175.3 432.0L175.8 432.2L176.3 431.4L176.8 430.5L177.3 430.1L177.8 429.6L178.3 429.8L178.8 429.8L179.3 429.0L179.8 429.0L180.3 429.4L180.8 429.9L181.3 431.3L181.8 432.0L182.3 432.1L182.8 432.0L183.3 431.7L183.8 432.0L184.3 433.0L184.8 432.7L185.3 432.9L185.8 432.0L186.3 430.9L186.8 430.3L187.3 430.5L187.8 431.5L188.3 431.9L188.8 432.6L189.3 431.7L189.8 430.9L190.3 430.1L190.8 429.9L191.3 430.2L191.8 430.6L192.3 431.0L192.8 430.6L193.3 430.7L193.8 431.2L194.3 431.8L194.8 432.9L195.3 433.3L195.8 433.3L196.3 433.5L196.8 434.3L197.3 434.4L197.8 434.3L198.3 434.1L198.8 433.3L199.3 434.1L199.8 434.9L200.3 436.0L200.8 437.3L201.3 436.6L201.8 434.6L202.3 432.5L202.8 430.7L203.3 429.9L203.8 429.8L204.3 429.8L204.8 429.4L205.3 428.5L205.8 427.7L206.3 427.0L206.8 427.5L207.3 428.0L207.8 427.8L208.3 426.8L208.8 425.7L209.3 425.2L209.8 425.0L210.3 425.2L210.8 424.7L211.3 424.0L211.8 424.2L212.3 424.4L212.8 425.3L213.3 426.1L213.8 427.0L214.3 426.8L214.8 426.4L215.3 426.4L215.8 427.0L216.3 427.8L216.8 427.6L217.3 426.8L217.8 426.2L218.3 425.0L218.8 424.1L219.3 424.7L219.8 425.3L220.3 425.7L220.8 425.6L221.3 424.5L221.8 423.3L222.3 422.2L222.8 421.6L223.3 421.8L223.8 421.7L224.3 421.0L224.8 420.4L225.3 419.7L225.8 420.0L226.3 419.8L226.8 419.9L227.3 419.8L227.8 419.2L228.3 419.4L228.8 419.1L229.3 418.7L229.8 417.8L230.3 417.0L230.8 416.3L231.3 416.6L231.8 416.8L232.3 417.5L232.8 418.2L233.3 416.3L233.8 413.5L234.3 411.4L234.8 408.9L235.3 408.0L235.8 407.6L236.3 406.7L236.8 405.5L237.3 404.3L237.8 402.7L238.3 401.9L238.8 402.2L239.3 402.0L239.8 400.9L240.3 399.5L240.8 398.0L241.3 396.8L241.8 396.1L242.3 395.5L242.8 394.4L243.3 393.4L243.8 392.4L244.3 392.2L244.8 392.2L245.3 391.9L245.8 391.5L246.3 390.4L246.8 389.0L247.3 388.7L247.8 388.3L248.3 388.2L248.8 387.2L249.3 385.8L249.8 384.0L250.3 382.3L250.8 381.5L251.3 381.1L251.8 381.0L252.3 380.7L252.8 379.3L253.3 377.0L253.8 375.0L254.3 373.5L254.8 372.0L255.3 371.3L255.8 370.5L256.3 369.0L256.8 367.7L257.3 366.7L257.8 366.4L258.3 366.0L258.8 365.6L259.3 365.3L259.8 364.4L260.3 364.0L260.8 363.0L261.3 362.0L261.8 361.0L262.3 359.4L262.8 358.9L263.3 358.8L263.8 358.4L264.3 359.0L264.8 358.7L265.3 355.8L265.8 353.0L266.3 350.3L266.8 347.9L267.3 346.9L267.8 346.3L268.3 345.1L268.8 342.9L269.3 341.3L269.8 339.4L270.3 338.3L270.8 337.8L271.3 337.1L271.8 334.9L272.3 332.8L272.8 331.0L273.3 329.9L273.8 328.3L274.3 326.7L274.8 325.0L275.3 323.6L275.8 322.2L276.3 321.0L276.8 320.8L277.3 320.1L277.8 319.0L278.3 317.1L278.8 315.4L279.3 314.6L279.8 314.2L280.3 313.0L280.8 311.7L281.3 309.8L281.8 308.0L282.3 306.5L282.8 305.5L283.3 305.7L283.8 305.8L284.3 305.0L284.8 303.5L285.3 301.6L285.8 300.2L286.3 298.7L286.8 297.8L287.3 297.2L287.8 295.9L288.3 294.4L288.8 293.3L289.3 292.6L289.8 291.7L290.3 291.4L290.8 290.3L291.3 289.3L291.8 287.9L292.3 287.2L292.8 286.0L293.3 284.3L293.8 282.9L294.3 281.1L294.8 280.7L295.3 280.5L295.8 281.0L296.3 281.6L296.8 280.6L297.3 278.2L297.8 276.2L298.3 274.4L298.8 273.5L299.3 273.9L299.8 274.1L300.3 273.9L300.8 273.0L301.3 272.7L301.8 272.4L302.3 273.5L302.8 274.1L303.3 274.6L303.8 274.1L304.3 273.6L304.8 273.7L305.3 274.2L305.8 274.6L306.3 274.5L306.8 274.3L307.3 275.0L307.8 275.5L308.3 277.0L308.8 278.2L309.3 279.4L309.8 279.8L310.3 279.9L310.8 280.2L311.3 281.2L311.8 282.3L312.3 283.2L312.8 283.1L313.3 283.2L313.8 282.6L314.3 282.6L314.8 284.0L315.3 284.9L315.8 286.3L316.3 286.5L316.8 285.7L317.3 285.2L317.8 285.2L318.3 284.8L318.8 285.0L319.3 285.9L319.8 285.8L320.3 285.8L320.8 286.4L321.3 287.3L321.8 288.1L322.3 289.4L322.8 290.5L323.3 291.5L323.8 292.6L324.3 293.6L324.8 294.6L325.3 295.1L325.8 295.8L326.3 296.2L326.8 297.7L327.3 299.4L327.8 301.7L328.3 303.3L328.8 302.4L329.3 300.9L329.8 299.8L330.3 298.3L330.8 298.3L331.3 299.0L331.8 299.0L332.3 299.0L332.8 298.6L333.3 298.2L333.8 299.0L334.3 300.1L334.8 301.2L335.3 301.8L335.8 301.5L336.3 301.3L336.8 301.6L337.3 302.3L337.8 303.2L338.3 303.3L338.8 303.8L339.3 304.7L339.8 305.9L340.3 307.0L340.8 308.6L341.3 310.2L341.8 310.2L342.3 310.5L342.8 311.2L343.3 312.7L343.8 313.9L344.3 314.9L344.8 315.1L345.3 314.8L345.8 314.8L346.3 315.3L346.8 316.7L347.3 318.5L347.8 320.2L348.3 320.1L348.8 319.9L349.3 320.0L349.8 320.1L350.3 321.0L350.8 321.8L351.3 322.7L351.8 323.1L352.3 323.7L352.8 324.4L353.3 325.4L353.8 326.6L354.3 327.9L354.8 328.6L355.3 329.4L355.8 330.9L356.3 331.8L356.8 332.7L357.3 333.2L357.8 333.6L358.3 334.9L358.8 336.7L359.3 338.7L359.8 340.6L360.3 342.4L360.8 341.2L361.3 340.0L361.8 339.1L362.3 338.6L362.8 339.5L363.3 340.3L363.8 340.6L364.3 340.7L364.8 340.5L365.3 340.4L365.8 341.7L366.3 343.3L366.8 344.4L367.3 344.6L367.8 344.1L368.3 344.7L368.8 345.6L369.3 346.1L369.8 347.0L370.3 347.0L370.8 348.1L371.3 349.2L371.8 350.2L372.3 352.2L372.8 353.6L373.3 354.8L373.8 354.7L374.3 355.4L374.8 356.2L375.3 357.6L375.8 358.3L376.3 358.9L376.8 358.3L377.3 357.9L377.8 357.4L378.3 357.9L378.8 359.1L379.3 360.7L379.8 361.6L380.3 361.3L380.8 360.7L381.3 360.9L381.8 361.1L382.3 361.7L382.8 363.1L383.3 363.9L383.8 364.6L384.3 365.2L384.8 366.1L385.3 367.6L385.8 369.4L386.3 370.8L386.8 371.8L387.3 372.7L387.8 374.4L388.3 375.1L388.8 376.1L389.3 377.0L389.8 377.3L390.3 379.1L390.8 381.3L391.3 383.5L391.8 385.8L392.3 386.7L392.8 385.7L393.3 384.5L393.8 383.7L394.3 383.1L394.8 383.8L395.3 384.1L395.8 384.1L396.3 383.9L396.8 383.7L397.3 383.5L397.8 384.8L398.3 386.0L398.8 386.5L399.3 386.3L399.8 385.7L400.3 386.3L400.8 386.7L401.3 387.8L401.8 388.0L402.3 387.9L402.8 389.3L403.3 389.9L403.8 391.7L404.3 393.2L404.8 394.9L405.3 395.4L405.8 395.5L406.3 396.4L406.8 397.7L407.3 399.6L407.8 400.6L408.3 400.8L408.8 401.0L409.3 401.1L409.8 401.0L410.3 402.5L410.8 404.0L411.3 405.1L411.8 405.3L412.3 404.8L412.8 403.7L413.3 403.4L413.8 403.0L414.3 403.2L414.8 403.2L415.3 403.2L415.8 402.9L416.3 403.4L416.8 403.7L417.3 404.7L417.8 405.6L418.3 406.4L418.8 406.8L419.3 407.5L419.8 408.3L420.3 408.4L420.8 408.5L421.3 408.3L421.8 408.4L422.3 409.3L422.8 410.9L423.3 412.1L423.8 413.7L424.3 412.2L424.8 410.0L425.3 408.0L425.8 406.6L426.3 406.1L426.8 405.9L427.3 405.3L427.8 404.7L428.3 403.5L428.8 402.7L429.3 402.7L429.8 403.0L430.3 403.6L430.8 403.0L431.3 402.1L431.8 401.2L432.3 401.0L432.8 400.8L433.3 401.2L433.8 400.3L434.3 400.0L434.8 400.7L435.3 401.0L435.8 401.7L436.3 403.0L436.8 404.0L437.3 403.9L437.8 403.5L438.3 404.1L438.8 404.8L439.3 405.8L439.8 405.6L440.3 405.4L440.8 404.9L441.3 403.9L441.8 403.6L442.3 404.5L442.8 405.8L443.3 406.5L443.8 406.0L444.3 405.3L444.8 404.4L445.3 404.5L445.8 404.4L446.3 405.0L446.8 405.3L447.3 405.6L447.8 405.4L448.3 406.2L448.8 406.8L449.3 407.5L449.8 408.3L450.3 408.8L450.8 409.3L451.3 410.2L451.8 410.7L452.3 410.7L452.8 410.8L453.3 410.5L453.8 411.4L454.3 412.5L454.8 413.8L455.3 415.3L455.8 416.0L456.3 414.5L456.8 412.6L457.3 410.8L457.8 409.5L458.3 409.0L458.8 408.8L459.3 408.5L459.8 407.7L460.3 406.8L460.8 405.9L461.3 405.9L461.8 406.4L462.3 406.8L462.8 405.8L463.3 404.9L463.8 404.0L464.3 404.0L464.8 403.9L465.3 404.1L465.8 403.1L466.3 403.0L466.8 403.6L467.3 404.4L467.8 405.1L468.3 406.1L468.8 406.5L469.3 406.3L469.8 406.4L470.3 406.9L470.8 408.2L471.3 408.4L471.8 408.5L472.3 407.9L472.8 407.2L473.3 406.7L473.8 406.9L474.3 407.7L474.8 408.8L475.3 409.1L475.8 408.0L476.3 407.2L476.8 406.7L477.3 406.6L477.8 406.3L478.3 407.0L478.8 407.4L479.3 407.3L479.8 407.3L480.3 408.2L480.8 408.9L481.3 410.2L481.8 411.0L482.3 411.4L482.8 411.7L483.3 412.7L483.8 412.9L484.3 413.4L484.8 413.3L485.3 412.9L485.8 413.8L486.3 414.8L486.8 416.0L487.3 417.2L487.8 416.8L488.3 414.3L488.8 411.9L489.3 410.0L489.8 407.9L490.3 407.1L490.8 406.3L491.3 404.7L491.8 402.8L492.3 400.7L492.8 399.2L493.3 398.8L493.8 398.3L494.3 397.1L494.8 395.2L495.3 393.3L495.8 391.6L496.3 390.7L496.8 389.6L497.3 388.3L497.8 386.6L498.3 386.2L498.8 385.2L499.3 384.7L499.8 384.8L500.3 384.4L500.8 383.5L501.3 382.0L501.8 380.8L502.3 380.7L502.8 380.6L503.3 380.0L503.8 378.6L504.3 377.2L504.8 375.7L505.3 374.3L505.8 374.1L506.3 374.2L506.8 374.6L507.3 373.7L507.8 371.8L508.3 370.4L508.8 368.9L509.3 368.0L509.8 366.9L510.3 366.3L510.8 365.6L511.3 364.2L511.8 363.2L512.3 362.9L512.8 362.3L513.3 361.8L513.8 361.1L514.3 360.4L514.8 359.5L515.3 358.7L515.8 357.1L516.3 355.7L516.8 353.9L517.3 352.4L517.8 351.6L518.3 351.0L518.8 351.2L519.3 351.1L519.8 348.6L520.3 345.5L520.8 342.7L521.3 340.4L521.8 338.7L522.3 338.1L522.8 337.2L523.3 335.8L523.8 334.4L524.3 332.8L524.8 332.2L525.3 332.0L525.8 331.6L526.3 330.5L526.8 329.1L527.3 327.6L527.8 326.3L528.3 325.6L528.8 324.8L529.3 323.4L529.8 322.0L530.3 321.4L530.8 320.4L531.3 320.1L531.8 320.4L532.3 319.8L532.8 318.6L533.3 316.9L533.8 316.0L534.3 315.9L534.8 315.5L535.3 314.5L535.8 313.3L536.3 311.7L536.8 309.9L537.3 309.0L537.8 309.4L538.3 309.7L538.8 309.9L539.3 308.8L539.8 307.0L540.3 305.9L540.8 304.6L541.3 304.1L541.8 303.8L542.3 303.5L542.8 303.3L543.3 302.6L543.8 302.6L544.3 302.6L544.8 303.3L545.3 303.7L545.8 304.2L546.3 304.2L546.8 304.6L547.3 305.0L547.8 304.7L548.3 305.0L548.8 304.8L549.3 305.2L549.8 306.2L550.3 307.6L550.8 309.4L551.3 310.6L551.8 309.0L552.3 307.6L552.8 305.9L553.3 304.2L553.8 304.2L554.3 304.2L554.8 303.3L555.3 301.9L555.8 301.0L556.3 299.6L556.8 299.1L557.3 299.5L557.8 299.2L558.3 298.0L558.8 296.6L559.3 296.0L559.8 295.2L560.3 295.2L560.8 294.4L561.3 293.8L561.8 293.0L562.3 293.2L562.8 293.0L563.3 293.9L563.8 294.4L564.3 294.5L564.8 294.1L565.3 293.4L565.8 293.7L566.3 294.8L566.8 295.2L567.3 295.3L567.8 294.8L568.3 294.5L568.8 293.7L569.3 294.0L569.8 295.0L570.3 296.6L570.8 297.1L571.3 296.6L571.8 295.7L572.3 295.3L572.8 294.8L573.3 294.7L573.8 295.2L574.3 295.3L574.8 295.4L575.3 295.3L575.8 296.1L576.3 296.8L576.8 297.9L577.3 299.0L577.8 299.6L578.3 300.2L578.8 300.9L579.3 301.5L579.8 301.8L580.3 301.8L580.8 301.6L581.3 302.3L581.8 303.5L582.3 305.1L582.8 306.8L583.3 306.6L583.8 305.0L584.3 303.3L584.8 301.3L585.3 300.4L585.8 300.3L586.3 300.0L586.8 299.5L587.3 298.3L587.8 297.6L588.3 297.0L588.8 297.2L589.3 298.1L589.8 297.8L590.3 297.2L590.8 296.6L591.3 296.2L591.8 296.0L592.3 296.2L592.8 295.9L593.3 295.7L593.8 295.9L594.3 296.5L594.8 297.1L595.3 298.3L595.8 299.3L596.3 299.4L596.8 299.2L597.3 299.1L597.8 299.9L598.3 301.4L598.8 301.7L599.3 301.6L599.8 301.7L600.3 300.9L600.8 300.3L601.3 301.2L601.8 302.4L602.3 303.5L602.8 304.1L603.3 303.3L603.8 302.4L604.3 302.0L604.8 302.2L605.3 302.6L605.8 303.1L606.3 303.4L606.8 303.7L607.3 304.1L607.8 304.9L608.3 305.7L608.8 307.0L609.3 307.9L609.8 308.4L610.3 309.0L610.8 310.4L611.3 310.9L611.8 310.9L612.3 311.4L612.8 311.6L613.3 312.8L613.8 313.9L614.3 315.5L614.8 317.5L615.3 316.8L615.8 314.8L616.3 313.6L616.8 311.8L617.3 311.5L617.8 311.4L618.3 311.3L618.8 310.9L619.3 310.1L619.8 308.8L620.3 309.0L620.8 309.6L621.3 310.3L621.8 310.0L622.3 309.3L622.8 308.5L623.3 308.7L623.8 308.6L624.3 308.7L624.8 308.7L625.3 308.3L625.8 308.8L626.3 309.3L626.8 310.2L627.3 311.1L627.8 312.2L628.3 312.0L628.8 312.0L629.3 312.3L629.8 313.5L630.3 314.6L630.8 314.9L631.3 314.7L631.8 314.4L632.3 313.9L632.8 313.8L633.3 314.9L633.8 316.4L634.3 317.3L634.8 317.1L635.3 316.6L635.8 316.0L636.3 315.8L636.8 315.7L637.3 316.4L637.8 316.9L638.3 316.9L638.8 317.1L639.3 318.1L639.8 319.0L640.3 320.0L640.8 320.9L641.3 321.7L641.8 321.8L642.3 322.7L642.8 323.5L643.3 323.3L643.8 323.4L644.3 322.9L644.8 322.5L645.3 322.8L645.8 323.6L646.3 324.0L646.8 324.4L647.3 321.6L647.8 318.8L648.3 315.6L648.8 313.4L649.3 312.3L649.8 311.3L650.3 310.1L650.8 308.1L651.3 306.4L651.8 304.9L652.3 304.1L652.8 303.6L653.3 303.5L653.8 302.0L654.3 300.1L654.8 298.5L655.3 297.5L655.8 296.7L656.3 296.1L656.8 294.9L657.3 293.9L657.8 293.3L658.3 293.0L658.8 293.2L659.3 293.3L659.8 292.8L660.3 291.5L660.8 290.7L661.3 289.8L661.8 290.1L662.3 289.7L662.8 288.7L663.3 287.5L663.8 286.1L664.3 284.4L664.8 283.8L665.3 283.6L665.8 284.0L666.3 283.7L666.8 282.4L667.3 280.8L667.8 279.1L668.3 278.0L668.8 277.4L669.3 276.7L669.8 275.9L670.3 275.2L670.8 274.3L671.3 273.6L671.8 272.9L672.3 273.1L672.8 272.5L673.3 271.7L673.8 270.9L674.3 270.5L674.8 269.7L675.3 268.8L675.8 267.5L676.3 266.4L676.8 266.2L677.3 266.7L677.8 266.8L678.3 267.8L678.8 267.1L679.3 264.8L679.8 262.8L680.3 260.4L680.8 259.0L681.3 258.6L681.8 257.9L682.3 257.0L682.8 255.6L683.3 253.7L683.8 252.2L684.3 252.1L684.8 251.8L685.3 251.3L685.8 249.8L686.3 247.5L686.8 246.4L687.3 245.4L687.8 244.7L688.3 243.4L688.8 242.0L689.3 241.1L689.8 240.6L690.3 240.1L690.8 240.3L691.3 240.4L691.8 239.4L692.3 237.8L692.8 236.6L693.3 236.6L693.8 236.7L694.3 235.9L694.8 235.3L695.3 234.3L695.8 232.7L696.3 231.9L696.8 232.0L697.3 233.0L697.8 233.7L698.3 234.0L698.8 232.8L699.3 232.2L699.8 231.5L700.3 231.5L700.8 231.9L701.3 232.4L701.8 232.6L702.3 232.5L702.8 232.7L703.3 233.4L703.8 233.8L704.3 235.1L704.8 235.5L705.3 235.9L705.8 236.4L706.3 236.9L706.8 237.3L707.3 236.9L707.8 237.0L708.3 237.1L708.8 237.5L709.3 238.7L709.8 240.2L710.3 241.3L710.8 240.4L711.3 238.2L711.8 236.3L712.3 234.6L712.8 233.9L713.3 233.5L713.8 233.5L714.3 232.5L714.8 231.2L715.3 230.5L715.8 230.1L716.3 230.6L716.8 231.0L717.3 230.7L717.8 229.7L718.3 228.9L718.8 228.4L719.3 228.4L719.8 228.4L720.3 228.2L720.8 227.7L721.3 227.9L721.8 228.6L722.3 229.7L722.8 230.5L723.3 231.5L723.8 231.7L724.3 231.4L724.8 232.1L725.3 233.1L725.8 234.0L726.3 234.5L726.8 234.5L727.3 234.0L727.8 233.4L728.3 233.5L728.8 234.4L729.3 235.8L729.8 236.7L730.3 237.0L730.8 236.3L731.3 235.7L731.8 235.8L732.3 235.7L732.8 236.5L733.3 237.2L733.8 237.6L734.3 237.8L734.8 238.2L735.3 239.2L735.8 240.2L736.3 241.2L736.8 241.9L737.3 242.6L737.8 243.3L738.3 244.1L738.8 244.3L739.3 244.3L739.8 243.9L740.3 244.0L740.8 245.2L741.3 246.4L741.8 247.7L742.3 249.6L742.8 248.2L743.3 246.9L743.8 245.6L744.3 244.7L744.8 245.4L745.3 246.5L745.8 247.3L746.3 247.4L746.8 247.6L747.3 247.6L747.8 248.1L748.3 249.3L748.8 250.4L749.3 250.2L749.8 249.4L750.3 249.0L750.8 249.0L751.3 248.8L751.8 248.8L752.3 248.2L752.8 248.3L753.3 248.6L753.8 249.7L754.3 250.7L754.8 252.1L755.3 252.8L755.8 252.7L756.3 252.9L756.8 254.0L757.3 255.2L757.8 256.6L758.3 256.7L758.8 257.1L759.3 257.0L759.8 256.8L760.3 257.4L760.8 259.3L761.3 260.7L761.8 261.6L762.3 261.9L762.8 261.0L763.3 261.1L763.8 261.5L764.3 261.7L764.8 262.5L765.3 262.9L765.8 263.3L766.3 263.8L766.8 264.3L767.3 265.7L767.8 266.9L768.3 267.7L768.8 268.9L769.3 269.5L769.8 270.8L770.3 271.4L770.8 272.0L771.3 272.9L771.8 273.2L772.3 274.6L772.8 275.8L773.3 277.9L773.8 280.2L774.3 280.8L774.8 279.3L775.3 277.5L775.8 276.1L776.3 274.9L776.8 274.6L777.3 274.1L777.8 273.5L778.3 271.7L778.8 270.5L779.3 268.9L779.8 268.8L780.3 269.1L780.8 268.3L781.3 267.0L781.8 265.5L782.3 264.8L782.8 264.1L783.3 263.5L783.8 262.6L784.3 261.5L784.8 260.9L785.3 260.4L785.8 260.5L786.3 260.7L786.8 260.9L787.3 260.4L787.8 259.2L788.3 258.3L788.8 258.6L789.3 258.9L789.8 258.6L790.3 258.2L790.8 257.3L791.3 255.8L791.8 254.8L792.3 255.2L792.8 255.8L793.3 256.5L793.8 256.2L794.3 255.3L794.8 253.8L795.3 252.8L795.8 252.3L796.3 252.1L796.8 251.9L797.3 251.1L797.8 250.6L798.3 250.0L798.8 250.1L799.3 250.0L799.8 250.2L800.3 250.4L800.8 250.0L801.3 250.0L801.8 250.1L802.3 249.8L802.8 249.3L803.3 248.9L803.8 248.6L804.3 248.8L804.8 249.4L805.3 250.5L805.8 251.7L806.3 250.8L806.8 248.3L807.3 246.3L807.8 244.0L808.3 243.0L808.8 242.3L809.3 242.1L809.8 240.9L810.3 239.5L810.8 238.3L811.3 237.3L811.8 237.6L812.3 237.5L812.8 237.0L813.3 235.5L813.8 234.1L814.3 233.2L814.8 232.8L815.3 232.2L815.8 231.2L816.3 230.4L816.8 230.2L817.3 229.8L817.8 229.6L818.3 230.0L818.8 230.4L819.3 229.4L819.8 228.1L820.3 227.8L820.8 227.8L821.3 228.4L821.8 227.9L822.3 227.1L822.8 226.1L823.3 224.9L823.8 224.1L824.3 224.7L824.8 225.2L825.3 225.9L825.8 225.5L826.3 224.1L826.8 222.6L827.3 221.9L827.8 221.5L828.3 220.8L828.8 220.6L829.3 219.9L829.8 219.2L830.3 219.1L830.8 219.2L831.3 219.7L831.8 219.6L832.3 219.9L832.8 219.4L833.3 219.3L833.8 219.5L834.3 219.2L834.8 218.4L835.3 217.7L835.8 217.4L836.3 217.8L836.8 218.6L837.3 219.0L837.8 220.0L838.3 218.0L838.8 215.2L839.3 212.8L839.8 211.3L840.3 210.4L840.8 209.9L841.3 208.8L841.8 207.9L842.3 206.4L842.8 205.0L843.3 204.9L843.8 204.9L844.3 205.0L844.8 204.1L845.3 202.6L845.8 201.5L846.3 200.6L846.8 200.3L847.3 199.7L847.8 199.0L848.3 198.1L848.8 197.9L849.3 198.1L849.8 198.5L850.3 199.1L850.8 199.0L851.3 198.2L851.8 197.2L852.3 197.2L852.8 197.5L853.3 197.3L853.8 197.2L854.3 196.1L854.8 195.1L855.3 193.9L855.8 193.2L856.3 193.9L856.8 194.3L857.3 194.3L857.8 193.2L858.3 192.0L858.8 190.5L859.3 190.0L859.8 189.2L860.3 189.2L860.8 189.1L861.3 188.6L861.8 188.0L862.3 188.0L862.8 188.3L863.3 188.5L863.8 188.8L864.3 188.6L864.8 188.6L865.3 188.7L865.8 189.0L866.3 188.8L866.8 187.9L867.3 187.4L867.8 187.5L868.3 188.0L868.8 188.8L869.3 189.6L869.8 189.1L870.3 186.8L870.8 184.4L871.3 181.9L871.8 180.2L872.3 179.6L872.8 179.2L873.3 177.9L873.8 176.6L874.3 175.0L874.8 173.9L875.3 174.0L875.8 173.9L876.3 173.6L876.8 172.6L877.3 170.9L877.8 170.0L878.3 169.7L878.8 169.1L879.3 168.9L879.8 167.7L880.3 167.5L880.8 167.2L881.3 167.1L881.8 167.9L882.3 167.9L882.8 167.8L883.3 166.9L883.8 166.2L884.3 166.3L884.8 166.7L885.3 166.4L885.8 166.2L886.3 165.4L886.8 164.2L887.3 163.1L887.8 163.4L888.3 164.1L888.8 164.7L889.3 164.4L889.8 163.2L890.3 161.8L890.8 160.8L891.3 160.0L891.8 159.4L892.3 159.5L892.8 158.8L893.3 157.6L893.8 157.2L894.3 157.5L894.8 157.5L895.3 157.9L895.8 158.0L896.3 158.1L896.8 158.0L897.3 158.2L897.8 157.9L898.3 157.5L898.8 156.7L899.3 156.2L899.8 156.3L900.3 156.6L900.8 157.4L901.3 158.5L901.8 157.1L902.3 154.8L902.8 152.3L903.3 150.3L903.8 148.7L904.3 148.5L904.8 147.8L905.3 146.7L905.8 145.8L906.3 144.1L906.8 143.8L907.3 144.0L907.8 144.0L908.3 143.3L908.8 142.2L909.3 140.8L909.8 140.2L910.3 139.7L910.8 139.0L911.3 138.1L911.8 137.3L912.3 136.8L912.8 136.7L913.3 136.7L913.8 137.3L914.3 137.6L914.8 136.8L915.3 135.8L915.8 135.6L916.3 135.7L916.8 135.8L917.3 135.8L917.8 135.1L918.3 134.0L918.8 132.7L919.3 132.0L919.8 132.4L920.3 132.8L920.8 133.4L921.3 133.2L921.8 131.9L922.3 130.5L922.8 129.5L923.3 129.2L923.8 128.6L924.3 128.3L924.8 128.0L925.3 127.3L925.8 126.9L926.3 127.0L926.8 126.9L927.3 127.3L927.8 127.3L928.3 127.1L928.8 127.2L929.3 127.4L929.8 126.7L930.3 126.2L930.8 126.0L931.3 125.6L931.8 126.0L932.3 126.2L932.8 127.3L933.3 127.7L933.8 125.9L934.3 123.2L934.8 120.8L935.3 118.9L935.8 118.1L936.3 117.6L936.8 116.7L937.3 115.6L937.8 114.8L938.3 113.6L938.8 113.1L939.3 113.2L939.8 113.3L940.3 112.2L940.8 111.0L941.3 109.6L941.8 108.7L942.3 108.3L942.8 107.8L943.3 107.1" fill="none" stroke="#0072B2" stroke-width="2.08" stroke-linejoin="round"/>
<g fill="#f00" fill-opacity="0.6" stroke="#f00" stroke-opacity="0.6" stroke-width="1.39"><circle cx="941.5" cy="39.4" r="2.08"/><circle cx="941.2" cy="44.6" r="2.08"/><circle cx="940.9" cy="45.5" r="2.08"/><circle cx="941.3" cy="46.5" r="2.08"/><circle cx="940.6" cy="47.0" r="2.08"/><circle cx="941.0" cy="48.0" r="2.08"/><circle cx="939.8" cy="53.5" r="2.08"/><circle cx="939.2" cy="54.5" r="2.08"/><circle cx="940.2" cy="55.5" r="2.08"/><circle cx="939.5" cy="56.5" r="2.08"/><circle cx="939.0" cy="57.5" r="2.08"/><circle cx="939.9" cy="58.0" r="2.08"/><circle cx="939.4" cy="58.6" r="2.08"/></g>
</g>
<g stroke="#000" stroke-width="1.11" fill="none">
<path d="M144.50 542.5v5.3"/><path d="M271.50 542.5v5.3"/><path d="M399.50 542.5v5.3"/><path d="M526.50 542.5v5.3"/><path d="M653.50 542.5v5.3"/><path d="M781.50 542.5v5.3"/><path d="M908.50 542.5v5.3"/><path d="M71.5 518.50h-5.3"/><path d="M71.5 415.50h-5.3"/><path d="M71.5 313.50h-5.3"/><path d="M71.5 211.50h-5.3"/><path d="M71.5 109.50h-5.3"/>
<rect x="71.5" y="15.5" width="914" height="527"/>
</g>
<g text-anchor="middle">
<text x="143.80" y="562.2">2001</text><text x="271.15" y="562.2">2005</text><text x="398.50" y="562.2">2009</text><text x="525.85" y="562.2">2013</text><text x="653.20" y="562.2">2017</text><text x="780.55" y="562.2">2021</text><text x="907.90" y="562.2">2025</text>
<text x="528.5" y="581.6">ds</text>
</g>
<g text-anchor="end">
<text x="62" y="523.15">0</text><text x="62" y="420.85">200</text><text x="62" y="318.55">400</text><text x="62" y="216.25">600</text><text x="62" y="113.95">800</text>
</g>
<text transform="translate(25.3 279.2) rotate(-90)" text-anchor="middle">y</text>
</svg>
</body></html>
